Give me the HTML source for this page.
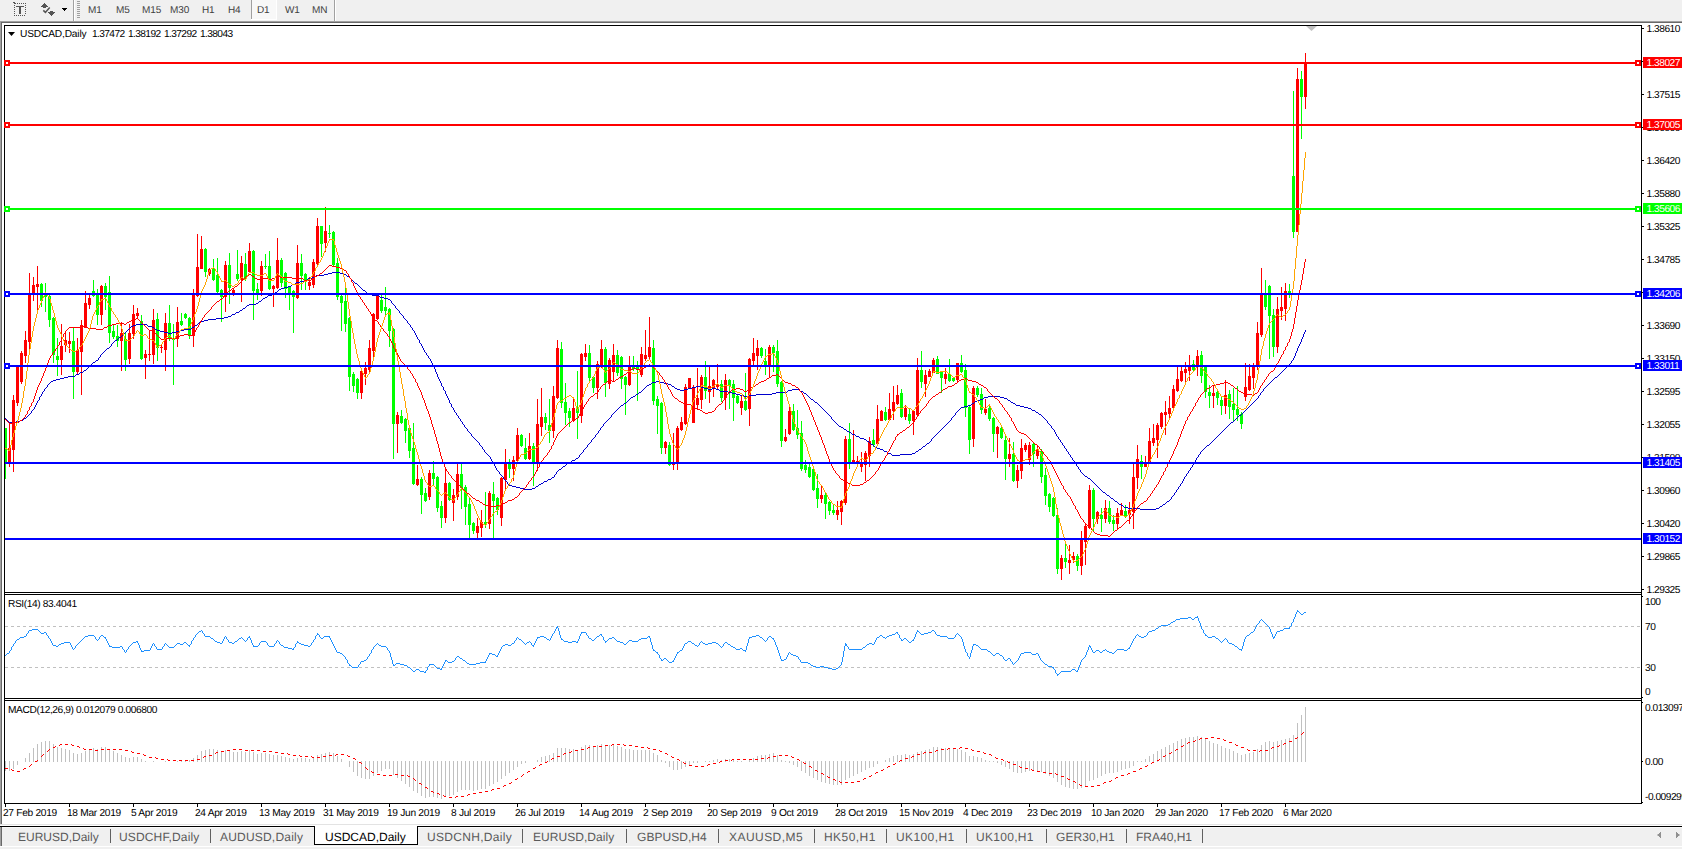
<!DOCTYPE html>
<html><head><meta charset="utf-8"><title>USDCAD,Daily</title>
<style>
html,body{margin:0;padding:0}
body{width:1682px;height:849px;position:relative;overflow:hidden;background:#fff;font-family:"Liberation Sans",sans-serif;}
div{position:absolute;box-sizing:border-box;text-rendering:geometricPrecision}
.al{left:1646.6px;font-size:10.2px;line-height:14px;height:14px;letter-spacing:-0.5px;color:#000;white-space:nowrap}
.tk{left:1642px;width:2px;height:1px;background:#000}
.tk1{left:1642px;width:1px;height:1px;background:#000}
.tag{left:1643px;width:39px;height:11px;color:#fff;font-size:10.2px;line-height:11px;letter-spacing:-0.5px;padding-left:3.6px;padding-top:1px;white-space:nowrap;overflow:hidden}
.dt{top:804px;width:1px;height:3px;background:#000}
.dlab{top:807px;font-size:10.2px;line-height:14px;letter-spacing:-0.3px;white-space:nowrap;color:#000}
.num{letter-spacing:-0.62px !important;word-spacing:1.3px}
.ttl{font-size:10.2px;line-height:14px;letter-spacing:-0.4px;white-space:nowrap;color:#000}
.tab{top:830px;font-size:12px;line-height:14px;color:#5a5a5a;white-space:nowrap}
.tsep{top:829px;width:1px;height:14px;background:#606060}
.tf{top:3.5px;font-size:10px;line-height:14px;color:#404040;white-space:nowrap;letter-spacing:-0.1px}
</style></head><body>
<!-- toolbar -->
<div style="left:0;top:0;width:1682px;height:21px;background:#f0f0f0"></div>
<div style="left:252px;top:0;width:24px;height:19px;background:#f8f8f8"></div><div style="left:251px;top:19px;width:26px;height:1px;background:#fff"></div><div style="left:276px;top:0;width:1px;height:19px;background:#fff"></div>
<div style="left:73px;top:0;width:1px;height:21px;background:#a0a0a0"></div><div style="left:74px;top:0;width:1px;height:21px;background:#fff"></div>
<div style="left:251px;top:0px;width:1px;height:19px;background:#a0a0a0"></div>
<div style="left:334px;top:0;width:1px;height:21px;background:#a0a0a0"></div><div style="left:335px;top:0;width:1px;height:21px;background:#fff"></div>
<svg style="position:absolute;left:0;top:0" width="90" height="21" shape-rendering="crispEdges">
<g fill="#555"><rect x="17" y="3" width="1" height="1"/><rect x="19" y="3" width="1" height="1"/><rect x="21" y="3" width="1" height="1"/><rect x="23" y="3" width="1" height="1"/><rect x="25" y="3" width="1" height="1"/><rect x="14" y="15" width="1" height="1"/><rect x="16" y="15" width="1" height="1"/><rect x="18" y="15" width="1" height="1"/><rect x="20" y="15" width="1" height="1"/><rect x="22" y="15" width="1" height="1"/><rect x="24" y="15" width="1" height="1"/><rect x="14" y="5" width="1" height="1"/><rect x="25" y="5" width="1" height="1"/><rect x="14" y="7" width="1" height="1"/><rect x="25" y="7" width="1" height="1"/><rect x="14" y="9" width="1" height="1"/><rect x="25" y="9" width="1" height="1"/><rect x="14" y="11" width="1" height="1"/><rect x="25" y="11" width="1" height="1"/><rect x="14" y="13" width="1" height="1"/><rect x="25" y="13" width="1" height="1"/><rect x="13" y="2" width="2" height="1"/><rect x="14" y="3" width="2" height="1"/>
<rect x="16" y="6" width="8" height="1"/><rect x="19" y="6" width="2" height="8"/>
<rect x="44" y="3" width="1" height="1"/><rect x="43" y="4" width="3" height="1"/><rect x="42" y="5" width="5" height="1"/><rect x="41" y="6" width="7" height="1"/><rect x="43" y="7" width="3" height="1"/>
<rect x="50" y="11" width="3" height="1"/><rect x="48" y="12" width="7" height="1"/><rect x="49" y="13" width="5" height="1"/><rect x="50" y="14" width="3" height="1"/><rect x="51" y="15" width="1" height="1"/>
</g>
<path d="M43.3 10.4 L45.4 12.4 L49.7 7.4" fill="none" stroke="#555" stroke-width="1.5" shape-rendering="auto"/>
<g fill="#000"><rect x="62" y="8" width="5" height="1"/><rect x="63" y="9" width="3" height="1"/><rect x="64" y="10" width="1" height="1"/></g>
<g fill="#a0a0a0"><rect x="77" y="1" width="3" height="1"/><rect x="77" y="3" width="3" height="1"/><rect x="77" y="5" width="3" height="1"/><rect x="77" y="7" width="3" height="1"/><rect x="77" y="9" width="3" height="1"/><rect x="77" y="11" width="3" height="1"/><rect x="77" y="13" width="3" height="1"/><rect x="77" y="15" width="3" height="1"/><rect x="77" y="17" width="3" height="1"/></g>
</svg>
<div class="tf" style="left:88px">M1</div><div class="tf" style="left:116px">M5</div><div class="tf" style="left:142px">M15</div><div class="tf" style="left:170px">M30</div><div class="tf" style="left:202px">H1</div><div class="tf" style="left:228px">H4</div><div class="tf" style="left:257px">D1</div><div class="tf" style="left:285px">W1</div><div class="tf" style="left:312px">MN</div>
<!-- window frame -->
<div style="left:0;top:21px;width:1682px;height:1px;background:#a0a0a0"></div>
<div style="left:0;top:22px;width:1682px;height:1px;background:#696969"></div>
<div style="left:0;top:21px;width:1px;height:804px;background:#a0a0a0"></div>
<div style="left:1px;top:22px;width:1px;height:803px;background:#696969"></div>
<!-- chart svg -->
<svg style="position:absolute;left:0;top:0" width="1682" height="849" shape-rendering="crispEdges">
<g fill="#000">
<rect x="4" y="25" width="1638" height="1"/><rect x="4" y="25" width="1" height="779"/><rect x="1641" y="25" width="1" height="779"/>
<rect x="4" y="592" width="1638" height="1"/><rect x="4" y="594" width="1638" height="1"/>
<rect x="4" y="698" width="1638" height="1"/><rect x="4" y="700" width="1638" height="1"/>
<rect x="4" y="803" width="1638" height="1"/>
</g>
<rect x="5" y="593" width="1636" height="1" fill="#fff"/><rect x="5" y="699" width="1636" height="1" fill="#fff"/>
<path d="M1306 26 L1317 26 L1311.5 31z" fill="#c0c0c0" shape-rendering="auto"/>
<!-- rsi levels -->
<line x1="5" y1="626.5" x2="1641" y2="626.5" stroke="#c0c0c0" stroke-dasharray="3 3"/>
<line x1="5" y1="667.5" x2="1641" y2="667.5" stroke="#c0c0c0" stroke-dasharray="3 3"/>
<rect x="5" y="761" width="1" height="10" fill="#c0c0c0"/><rect x="9" y="761" width="1" height="10" fill="#c0c0c0"/><rect x="13" y="761" width="1" height="8" fill="#c0c0c0"/><rect x="17" y="761" width="1" height="4" fill="#c0c0c0"/><rect x="25" y="758" width="1" height="4" fill="#c0c0c0"/><rect x="29" y="753" width="1" height="9" fill="#c0c0c0"/><rect x="33" y="748" width="1" height="14" fill="#c0c0c0"/><rect x="37" y="744" width="1" height="18" fill="#c0c0c0"/><rect x="41" y="742" width="1" height="20" fill="#c0c0c0"/><rect x="45" y="741" width="1" height="21" fill="#c0c0c0"/><rect x="49" y="741" width="1" height="21" fill="#c0c0c0"/><rect x="53" y="744" width="1" height="18" fill="#c0c0c0"/><rect x="57" y="747" width="1" height="15" fill="#c0c0c0"/><rect x="61" y="748" width="1" height="14" fill="#c0c0c0"/><rect x="65" y="749" width="1" height="13" fill="#c0c0c0"/><rect x="69" y="750" width="1" height="12" fill="#c0c0c0"/><rect x="73" y="753" width="1" height="9" fill="#c0c0c0"/><rect x="77" y="754" width="1" height="8" fill="#c0c0c0"/><rect x="81" y="753" width="1" height="9" fill="#c0c0c0"/><rect x="85" y="751" width="1" height="11" fill="#c0c0c0"/><rect x="89" y="750" width="1" height="12" fill="#c0c0c0"/><rect x="93" y="748" width="1" height="14" fill="#c0c0c0"/><rect x="97" y="749" width="1" height="13" fill="#c0c0c0"/><rect x="101" y="747" width="1" height="15" fill="#c0c0c0"/><rect x="105" y="747" width="1" height="15" fill="#c0c0c0"/><rect x="109" y="749" width="1" height="13" fill="#c0c0c0"/><rect x="113" y="751" width="1" height="11" fill="#c0c0c0"/><rect x="117" y="753" width="1" height="9" fill="#c0c0c0"/><rect x="121" y="755" width="1" height="7" fill="#c0c0c0"/><rect x="125" y="757" width="1" height="5" fill="#c0c0c0"/><rect x="129" y="758" width="1" height="4" fill="#c0c0c0"/><rect x="133" y="757" width="1" height="5" fill="#c0c0c0"/><rect x="137" y="757" width="1" height="5" fill="#c0c0c0"/><rect x="141" y="759" width="1" height="3" fill="#c0c0c0"/><rect x="145" y="761" width="1" height="1" fill="#c0c0c0"/><rect x="153" y="761" width="1" height="1" fill="#c0c0c0"/><rect x="165" y="761" width="1" height="1" fill="#c0c0c0"/><rect x="177" y="761" width="1" height="1" fill="#c0c0c0"/><rect x="181" y="760" width="1" height="2" fill="#c0c0c0"/><rect x="185" y="760" width="1" height="2" fill="#c0c0c0"/><rect x="189" y="760" width="1" height="2" fill="#c0c0c0"/><rect x="193" y="758" width="1" height="4" fill="#c0c0c0"/><rect x="197" y="755" width="1" height="7" fill="#c0c0c0"/><rect x="201" y="751" width="1" height="11" fill="#c0c0c0"/><rect x="205" y="750" width="1" height="12" fill="#c0c0c0"/><rect x="209" y="749" width="1" height="13" fill="#c0c0c0"/><rect x="213" y="749" width="1" height="13" fill="#c0c0c0"/><rect x="217" y="750" width="1" height="12" fill="#c0c0c0"/><rect x="221" y="751" width="1" height="11" fill="#c0c0c0"/><rect x="225" y="750" width="1" height="12" fill="#c0c0c0"/><rect x="229" y="751" width="1" height="11" fill="#c0c0c0"/><rect x="233" y="752" width="1" height="10" fill="#c0c0c0"/><rect x="237" y="752" width="1" height="10" fill="#c0c0c0"/><rect x="241" y="751" width="1" height="11" fill="#c0c0c0"/><rect x="245" y="752" width="1" height="10" fill="#c0c0c0"/><rect x="249" y="750" width="1" height="12" fill="#c0c0c0"/><rect x="253" y="752" width="1" height="10" fill="#c0c0c0"/><rect x="257" y="754" width="1" height="8" fill="#c0c0c0"/><rect x="261" y="753" width="1" height="9" fill="#c0c0c0"/><rect x="265" y="753" width="1" height="9" fill="#c0c0c0"/><rect x="269" y="754" width="1" height="8" fill="#c0c0c0"/><rect x="273" y="755" width="1" height="7" fill="#c0c0c0"/><rect x="277" y="755" width="1" height="7" fill="#c0c0c0"/><rect x="281" y="756" width="1" height="6" fill="#c0c0c0"/><rect x="285" y="757" width="1" height="5" fill="#c0c0c0"/><rect x="289" y="758" width="1" height="4" fill="#c0c0c0"/><rect x="293" y="759" width="1" height="3" fill="#c0c0c0"/><rect x="297" y="758" width="1" height="4" fill="#c0c0c0"/><rect x="301" y="758" width="1" height="4" fill="#c0c0c0"/><rect x="305" y="758" width="1" height="4" fill="#c0c0c0"/><rect x="309" y="759" width="1" height="3" fill="#c0c0c0"/><rect x="313" y="758" width="1" height="4" fill="#c0c0c0"/><rect x="317" y="755" width="1" height="7" fill="#c0c0c0"/><rect x="321" y="754" width="1" height="8" fill="#c0c0c0"/><rect x="325" y="753" width="1" height="9" fill="#c0c0c0"/><rect x="329" y="752" width="1" height="10" fill="#c0c0c0"/><rect x="333" y="753" width="1" height="9" fill="#c0c0c0"/><rect x="337" y="756" width="1" height="6" fill="#c0c0c0"/><rect x="341" y="759" width="1" height="3" fill="#c0c0c0"/><rect x="349" y="761" width="1" height="6" fill="#c0c0c0"/><rect x="353" y="761" width="1" height="11" fill="#c0c0c0"/><rect x="357" y="761" width="1" height="15" fill="#c0c0c0"/><rect x="361" y="761" width="1" height="17" fill="#c0c0c0"/><rect x="365" y="761" width="1" height="18" fill="#c0c0c0"/><rect x="369" y="761" width="1" height="18" fill="#c0c0c0"/><rect x="373" y="761" width="1" height="15" fill="#c0c0c0"/><rect x="377" y="761" width="1" height="12" fill="#c0c0c0"/><rect x="381" y="761" width="1" height="10" fill="#c0c0c0"/><rect x="385" y="761" width="1" height="8" fill="#c0c0c0"/><rect x="389" y="761" width="1" height="8" fill="#c0c0c0"/><rect x="393" y="761" width="1" height="14" fill="#c0c0c0"/><rect x="397" y="761" width="1" height="17" fill="#c0c0c0"/><rect x="401" y="761" width="1" height="20" fill="#c0c0c0"/><rect x="405" y="761" width="1" height="23" fill="#c0c0c0"/><rect x="409" y="761" width="1" height="26" fill="#c0c0c0"/><rect x="413" y="761" width="1" height="30" fill="#c0c0c0"/><rect x="417" y="761" width="1" height="32" fill="#c0c0c0"/><rect x="421" y="761" width="1" height="35" fill="#c0c0c0"/><rect x="425" y="761" width="1" height="37" fill="#c0c0c0"/><rect x="429" y="761" width="1" height="36" fill="#c0c0c0"/><rect x="433" y="761" width="1" height="36" fill="#c0c0c0"/><rect x="437" y="761" width="1" height="37" fill="#c0c0c0"/><rect x="441" y="761" width="1" height="38" fill="#c0c0c0"/><rect x="445" y="761" width="1" height="36" fill="#c0c0c0"/><rect x="449" y="761" width="1" height="35" fill="#c0c0c0"/><rect x="453" y="761" width="1" height="34" fill="#c0c0c0"/><rect x="457" y="761" width="1" height="31" fill="#c0c0c0"/><rect x="461" y="761" width="1" height="29" fill="#c0c0c0"/><rect x="465" y="761" width="1" height="29" fill="#c0c0c0"/><rect x="469" y="761" width="1" height="29" fill="#c0c0c0"/><rect x="473" y="761" width="1" height="30" fill="#c0c0c0"/><rect x="477" y="761" width="1" height="29" fill="#c0c0c0"/><rect x="481" y="761" width="1" height="28" fill="#c0c0c0"/><rect x="485" y="761" width="1" height="28" fill="#c0c0c0"/><rect x="489" y="761" width="1" height="25" fill="#c0c0c0"/><rect x="493" y="761" width="1" height="23" fill="#c0c0c0"/><rect x="497" y="761" width="1" height="21" fill="#c0c0c0"/><rect x="501" y="761" width="1" height="18" fill="#c0c0c0"/><rect x="505" y="761" width="1" height="15" fill="#c0c0c0"/><rect x="509" y="761" width="1" height="12" fill="#c0c0c0"/><rect x="513" y="761" width="1" height="9" fill="#c0c0c0"/><rect x="517" y="761" width="1" height="6" fill="#c0c0c0"/><rect x="521" y="761" width="1" height="3" fill="#c0c0c0"/><rect x="525" y="761" width="1" height="2" fill="#c0c0c0"/><rect x="537" y="760" width="1" height="2" fill="#c0c0c0"/><rect x="541" y="757" width="1" height="5" fill="#c0c0c0"/><rect x="545" y="756" width="1" height="6" fill="#c0c0c0"/><rect x="549" y="755" width="1" height="7" fill="#c0c0c0"/><rect x="553" y="753" width="1" height="9" fill="#c0c0c0"/><rect x="557" y="748" width="1" height="14" fill="#c0c0c0"/><rect x="561" y="748" width="1" height="14" fill="#c0c0c0"/><rect x="565" y="748" width="1" height="14" fill="#c0c0c0"/><rect x="569" y="749" width="1" height="13" fill="#c0c0c0"/><rect x="573" y="749" width="1" height="13" fill="#c0c0c0"/><rect x="577" y="750" width="1" height="12" fill="#c0c0c0"/><rect x="581" y="747" width="1" height="15" fill="#c0c0c0"/><rect x="585" y="745" width="1" height="17" fill="#c0c0c0"/><rect x="589" y="745" width="1" height="17" fill="#c0c0c0"/><rect x="593" y="746" width="1" height="16" fill="#c0c0c0"/><rect x="597" y="745" width="1" height="17" fill="#c0c0c0"/><rect x="601" y="744" width="1" height="18" fill="#c0c0c0"/><rect x="605" y="745" width="1" height="17" fill="#c0c0c0"/><rect x="609" y="745" width="1" height="17" fill="#c0c0c0"/><rect x="613" y="745" width="1" height="17" fill="#c0c0c0"/><rect x="617" y="746" width="1" height="16" fill="#c0c0c0"/><rect x="621" y="747" width="1" height="15" fill="#c0c0c0"/><rect x="625" y="749" width="1" height="13" fill="#c0c0c0"/><rect x="629" y="749" width="1" height="13" fill="#c0c0c0"/><rect x="633" y="750" width="1" height="12" fill="#c0c0c0"/><rect x="637" y="750" width="1" height="12" fill="#c0c0c0"/><rect x="641" y="750" width="1" height="12" fill="#c0c0c0"/><rect x="645" y="750" width="1" height="12" fill="#c0c0c0"/><rect x="649" y="750" width="1" height="12" fill="#c0c0c0"/><rect x="653" y="753" width="1" height="9" fill="#c0c0c0"/><rect x="657" y="755" width="1" height="7" fill="#c0c0c0"/><rect x="661" y="760" width="1" height="2" fill="#c0c0c0"/><rect x="665" y="761" width="1" height="2" fill="#c0c0c0"/><rect x="669" y="761" width="1" height="6" fill="#c0c0c0"/><rect x="673" y="761" width="1" height="9" fill="#c0c0c0"/><rect x="677" y="761" width="1" height="9" fill="#c0c0c0"/><rect x="681" y="761" width="1" height="8" fill="#c0c0c0"/><rect x="685" y="761" width="1" height="6" fill="#c0c0c0"/><rect x="689" y="761" width="1" height="4" fill="#c0c0c0"/><rect x="693" y="761" width="1" height="2" fill="#c0c0c0"/><rect x="697" y="761" width="1" height="2" fill="#c0c0c0"/><rect x="705" y="761" width="1" height="1" fill="#c0c0c0"/><rect x="709" y="761" width="1" height="1" fill="#c0c0c0"/><rect x="713" y="760" width="1" height="2" fill="#c0c0c0"/><rect x="717" y="759" width="1" height="3" fill="#c0c0c0"/><rect x="721" y="760" width="1" height="2" fill="#c0c0c0"/><rect x="725" y="759" width="1" height="3" fill="#c0c0c0"/><rect x="729" y="759" width="1" height="3" fill="#c0c0c0"/><rect x="733" y="760" width="1" height="2" fill="#c0c0c0"/><rect x="737" y="761" width="1" height="1" fill="#c0c0c0"/><rect x="741" y="761" width="1" height="1" fill="#c0c0c0"/><rect x="749" y="760" width="1" height="2" fill="#c0c0c0"/><rect x="753" y="758" width="1" height="4" fill="#c0c0c0"/><rect x="757" y="756" width="1" height="6" fill="#c0c0c0"/><rect x="761" y="755" width="1" height="7" fill="#c0c0c0"/><rect x="765" y="755" width="1" height="7" fill="#c0c0c0"/><rect x="769" y="754" width="1" height="8" fill="#c0c0c0"/><rect x="773" y="753" width="1" height="9" fill="#c0c0c0"/><rect x="777" y="755" width="1" height="7" fill="#c0c0c0"/><rect x="781" y="760" width="1" height="2" fill="#c0c0c0"/><rect x="785" y="761" width="1" height="1" fill="#c0c0c0"/><rect x="789" y="761" width="1" height="2" fill="#c0c0c0"/><rect x="793" y="761" width="1" height="4" fill="#c0c0c0"/><rect x="797" y="761" width="1" height="6" fill="#c0c0c0"/><rect x="801" y="761" width="1" height="10" fill="#c0c0c0"/><rect x="805" y="761" width="1" height="12" fill="#c0c0c0"/><rect x="809" y="761" width="1" height="15" fill="#c0c0c0"/><rect x="813" y="761" width="1" height="17" fill="#c0c0c0"/><rect x="817" y="761" width="1" height="19" fill="#c0c0c0"/><rect x="821" y="761" width="1" height="21" fill="#c0c0c0"/><rect x="825" y="761" width="1" height="22" fill="#c0c0c0"/><rect x="829" y="761" width="1" height="23" fill="#c0c0c0"/><rect x="833" y="761" width="1" height="24" fill="#c0c0c0"/><rect x="837" y="761" width="1" height="24" fill="#c0c0c0"/><rect x="841" y="761" width="1" height="24" fill="#c0c0c0"/><rect x="845" y="761" width="1" height="19" fill="#c0c0c0"/><rect x="849" y="761" width="1" height="17" fill="#c0c0c0"/><rect x="853" y="761" width="1" height="15" fill="#c0c0c0"/><rect x="857" y="761" width="1" height="13" fill="#c0c0c0"/><rect x="861" y="761" width="1" height="11" fill="#c0c0c0"/><rect x="865" y="761" width="1" height="9" fill="#c0c0c0"/><rect x="869" y="761" width="1" height="7" fill="#c0c0c0"/><rect x="873" y="761" width="1" height="6" fill="#c0c0c0"/><rect x="877" y="761" width="1" height="3" fill="#c0c0c0"/><rect x="885" y="760" width="1" height="2" fill="#c0c0c0"/><rect x="889" y="758" width="1" height="4" fill="#c0c0c0"/><rect x="893" y="756" width="1" height="6" fill="#c0c0c0"/><rect x="897" y="755" width="1" height="7" fill="#c0c0c0"/><rect x="901" y="755" width="1" height="7" fill="#c0c0c0"/><rect x="905" y="754" width="1" height="8" fill="#c0c0c0"/><rect x="909" y="755" width="1" height="7" fill="#c0c0c0"/><rect x="913" y="754" width="1" height="8" fill="#c0c0c0"/><rect x="917" y="752" width="1" height="10" fill="#c0c0c0"/><rect x="921" y="751" width="1" height="11" fill="#c0c0c0"/><rect x="925" y="750" width="1" height="12" fill="#c0c0c0"/><rect x="929" y="749" width="1" height="13" fill="#c0c0c0"/><rect x="933" y="747" width="1" height="15" fill="#c0c0c0"/><rect x="937" y="747" width="1" height="15" fill="#c0c0c0"/><rect x="941" y="748" width="1" height="14" fill="#c0c0c0"/><rect x="945" y="748" width="1" height="14" fill="#c0c0c0"/><rect x="949" y="749" width="1" height="13" fill="#c0c0c0"/><rect x="953" y="749" width="1" height="13" fill="#c0c0c0"/><rect x="957" y="749" width="1" height="13" fill="#c0c0c0"/><rect x="961" y="750" width="1" height="12" fill="#c0c0c0"/><rect x="965" y="752" width="1" height="10" fill="#c0c0c0"/><rect x="969" y="756" width="1" height="6" fill="#c0c0c0"/><rect x="973" y="756" width="1" height="6" fill="#c0c0c0"/><rect x="977" y="757" width="1" height="5" fill="#c0c0c0"/><rect x="981" y="758" width="1" height="4" fill="#c0c0c0"/><rect x="985" y="760" width="1" height="2" fill="#c0c0c0"/><rect x="989" y="761" width="1" height="1" fill="#c0c0c0"/><rect x="993" y="761" width="1" height="1" fill="#c0c0c0"/><rect x="997" y="761" width="1" height="2" fill="#c0c0c0"/><rect x="1001" y="761" width="1" height="4" fill="#c0c0c0"/><rect x="1005" y="761" width="1" height="6" fill="#c0c0c0"/><rect x="1009" y="761" width="1" height="8" fill="#c0c0c0"/><rect x="1013" y="761" width="1" height="11" fill="#c0c0c0"/><rect x="1017" y="761" width="1" height="12" fill="#c0c0c0"/><rect x="1021" y="761" width="1" height="12" fill="#c0c0c0"/><rect x="1025" y="761" width="1" height="11" fill="#c0c0c0"/><rect x="1029" y="761" width="1" height="10" fill="#c0c0c0"/><rect x="1033" y="761" width="1" height="10" fill="#c0c0c0"/><rect x="1037" y="761" width="1" height="10" fill="#c0c0c0"/><rect x="1041" y="761" width="1" height="11" fill="#c0c0c0"/><rect x="1045" y="761" width="1" height="13" fill="#c0c0c0"/><rect x="1049" y="761" width="1" height="15" fill="#c0c0c0"/><rect x="1053" y="761" width="1" height="17" fill="#c0c0c0"/><rect x="1057" y="761" width="1" height="21" fill="#c0c0c0"/><rect x="1061" y="761" width="1" height="24" fill="#c0c0c0"/><rect x="1065" y="761" width="1" height="26" fill="#c0c0c0"/><rect x="1069" y="761" width="1" height="27" fill="#c0c0c0"/><rect x="1073" y="761" width="1" height="28" fill="#c0c0c0"/><rect x="1077" y="761" width="1" height="28" fill="#c0c0c0"/><rect x="1081" y="761" width="1" height="27" fill="#c0c0c0"/><rect x="1085" y="761" width="1" height="25" fill="#c0c0c0"/><rect x="1089" y="761" width="1" height="20" fill="#c0c0c0"/><rect x="1093" y="761" width="1" height="19" fill="#c0c0c0"/><rect x="1097" y="761" width="1" height="17" fill="#c0c0c0"/><rect x="1101" y="761" width="1" height="15" fill="#c0c0c0"/><rect x="1105" y="761" width="1" height="13" fill="#c0c0c0"/><rect x="1109" y="761" width="1" height="12" fill="#c0c0c0"/><rect x="1113" y="761" width="1" height="12" fill="#c0c0c0"/><rect x="1117" y="761" width="1" height="11" fill="#c0c0c0"/><rect x="1121" y="761" width="1" height="9" fill="#c0c0c0"/><rect x="1125" y="761" width="1" height="8" fill="#c0c0c0"/><rect x="1129" y="761" width="1" height="7" fill="#c0c0c0"/><rect x="1133" y="761" width="1" height="5" fill="#c0c0c0"/><rect x="1137" y="761" width="1" height="1" fill="#c0c0c0"/><rect x="1141" y="761" width="1" height="1" fill="#c0c0c0"/><rect x="1145" y="759" width="1" height="3" fill="#c0c0c0"/><rect x="1149" y="756" width="1" height="6" fill="#c0c0c0"/><rect x="1153" y="754" width="1" height="8" fill="#c0c0c0"/><rect x="1157" y="751" width="1" height="11" fill="#c0c0c0"/><rect x="1161" y="749" width="1" height="13" fill="#c0c0c0"/><rect x="1165" y="747" width="1" height="15" fill="#c0c0c0"/><rect x="1169" y="745" width="1" height="17" fill="#c0c0c0"/><rect x="1173" y="743" width="1" height="19" fill="#c0c0c0"/><rect x="1177" y="741" width="1" height="21" fill="#c0c0c0"/><rect x="1181" y="739" width="1" height="23" fill="#c0c0c0"/><rect x="1185" y="738" width="1" height="24" fill="#c0c0c0"/><rect x="1189" y="737" width="1" height="25" fill="#c0c0c0"/><rect x="1193" y="737" width="1" height="25" fill="#c0c0c0"/><rect x="1197" y="736" width="1" height="26" fill="#c0c0c0"/><rect x="1201" y="737" width="1" height="25" fill="#c0c0c0"/><rect x="1205" y="739" width="1" height="23" fill="#c0c0c0"/><rect x="1209" y="741" width="1" height="21" fill="#c0c0c0"/><rect x="1213" y="743" width="1" height="19" fill="#c0c0c0"/><rect x="1217" y="744" width="1" height="18" fill="#c0c0c0"/><rect x="1221" y="746" width="1" height="16" fill="#c0c0c0"/><rect x="1225" y="748" width="1" height="14" fill="#c0c0c0"/><rect x="1229" y="749" width="1" height="13" fill="#c0c0c0"/><rect x="1233" y="751" width="1" height="11" fill="#c0c0c0"/><rect x="1237" y="753" width="1" height="9" fill="#c0c0c0"/><rect x="1241" y="755" width="1" height="7" fill="#c0c0c0"/><rect x="1245" y="754" width="1" height="8" fill="#c0c0c0"/><rect x="1249" y="753" width="1" height="9" fill="#c0c0c0"/><rect x="1253" y="752" width="1" height="10" fill="#c0c0c0"/><rect x="1257" y="749" width="1" height="13" fill="#c0c0c0"/><rect x="1261" y="745" width="1" height="17" fill="#c0c0c0"/><rect x="1265" y="742" width="1" height="20" fill="#c0c0c0"/><rect x="1269" y="741" width="1" height="21" fill="#c0c0c0"/><rect x="1273" y="742" width="1" height="20" fill="#c0c0c0"/><rect x="1277" y="741" width="1" height="21" fill="#c0c0c0"/><rect x="1281" y="740" width="1" height="22" fill="#c0c0c0"/><rect x="1285" y="739" width="1" height="23" fill="#c0c0c0"/><rect x="1289" y="738" width="1" height="24" fill="#c0c0c0"/><rect x="1293" y="735" width="1" height="27" fill="#c0c0c0"/><rect x="1297" y="723" width="1" height="39" fill="#c0c0c0"/><rect x="1301" y="715" width="1" height="47" fill="#c0c0c0"/><rect x="1305" y="707" width="1" height="55" fill="#c0c0c0"/>
<path d="M5 768.5h1M6 768.5h1M7 768.5h1M11 769.5h1M12 770.5h1M13 770.5h1M17 771.5h1M18 771.5h1M19 771.5h1M23 769.5h1M24 768.5h1M25 768.5h1M29 766.5h1M30 765.5h1M31 764.5h1M35 761.5h1M36 761.5h1M37 760.5h1M41 756.5h1M42 755.5h1M43 754.5h1M47 751.5h1M48 750.5h1M49 749.5h1M53 747.5h1M54 747.5h1M55 746.5h1M59 745.5h1M60 744.5h1M61 744.5h1M65 744.5h1M66 744.5h1M67 744.5h1M71 744.5h1M72 745.5h1M73 745.5h1M77 746.5h1M78 746.5h1M79 747.5h1M83 748.5h1M84 749.5h1M85 749.5h1M89 749.5h1M90 749.5h1M91 749.5h1M95 750.5h1M96 750.5h1M97 750.5h1M101 749.5h1M102 749.5h1M103 749.5h1M107 749.5h1M108 749.5h1M109 749.5h1M113 749.5h1M114 749.5h1M115 749.5h1M119 749.5h1M120 749.5h1M121 749.5h1M125 750.5h1M126 750.5h1M127 750.5h1M131 751.5h1M132 752.5h1M133 752.5h1M137 753.5h1M138 753.5h1M139 753.5h1M143 754.5h1M144 755.5h1M145 755.5h1M149 757.5h1M150 757.5h1M151 757.5h1M155 757.5h1M156 758.5h1M157 758.5h1M161 759.5h1M162 759.5h1M163 759.5h1M167 759.5h1M168 760.5h1M169 760.5h1M173 760.5h1M174 760.5h1M175 760.5h1M179 760.5h1M180 760.5h1M181 760.5h1M185 760.5h1M186 760.5h1M187 760.5h1M191 760.5h1M192 760.5h1M193 760.5h1M197 759.5h1M198 759.5h1M199 759.5h1M203 757.5h1M204 756.5h1M205 756.5h1M209 755.5h1M210 755.5h1M211 755.5h1M215 753.5h1M216 752.5h1M217 752.5h1M221 751.5h1M222 751.5h1M223 751.5h1M227 750.5h1M228 750.5h1M229 750.5h1M233 749.5h1M234 749.5h1M235 749.5h1M239 749.5h1M240 749.5h1M241 749.5h1M245 750.5h1M246 750.5h1M247 750.5h1M251 750.5h1M252 750.5h1M253 750.5h1M257 750.5h1M258 750.5h1M259 750.5h1M263 751.5h1M264 751.5h1M265 751.5h1M269 751.5h1M270 751.5h1M271 751.5h1M275 752.5h1M276 752.5h1M277 752.5h1M281 753.5h1M282 753.5h1M283 753.5h1M287 753.5h1M288 754.5h1M289 754.5h1M293 755.5h1M294 755.5h1M295 755.5h1M299 755.5h1M300 756.5h1M301 756.5h1M305 756.5h1M306 756.5h1M307 756.5h1M311 756.5h1M312 757.5h1M313 757.5h1M317 757.5h1M318 757.5h1M319 757.5h1M323 756.5h1M324 756.5h1M325 756.5h1M329 755.5h1M330 755.5h1M331 755.5h1M335 755.5h1M336 754.5h1M337 754.5h1M341 754.5h1M342 754.5h1M343 754.5h1M347 755.5h1M348 756.5h1M349 756.5h1M353 758.5h1M354 758.5h1M355 759.5h1M359 762.5h1M360 762.5h1M361 763.5h1M365 767.5h1M366 768.5h1M367 769.5h1M371 771.5h1M372 772.5h1M373 772.5h1M377 774.5h1M378 774.5h1M379 774.5h1M383 775.5h1M384 775.5h1M385 775.5h1M389 775.5h1M390 775.5h1M391 775.5h1M395 774.5h1M396 774.5h1M397 774.5h1M401 775.5h1M402 775.5h1M403 775.5h1M407 775.5h1M408 776.5h1M409 776.5h1M413 778.5h1M414 779.5h1M415 780.5h1M419 783.5h1M420 783.5h1M421 784.5h1M425 787.5h1M426 787.5h1M427 788.5h1M431 791.5h1M432 791.5h1M433 792.5h1M437 793.5h1M438 793.5h1M439 794.5h1M443 795.5h1M444 796.5h1M445 796.5h1M449 797.5h1M450 797.5h1M451 797.5h1M455 797.5h1M456 796.5h1M457 796.5h1M461 796.5h1M462 796.5h1M463 796.5h1M467 795.5h1M468 794.5h1M469 794.5h1M473 793.5h1M474 793.5h1M475 793.5h1M479 792.5h1M480 792.5h1M481 792.5h1M485 791.5h1M486 791.5h1M487 791.5h1M491 790.5h1M492 789.5h1M493 789.5h1M497 788.5h1M498 788.5h1M499 788.5h1M503 786.5h1M504 785.5h1M505 785.5h1M509 783.5h1M510 783.5h1M511 782.5h1M515 779.5h1M516 779.5h1M517 778.5h1M521 776.5h1M522 775.5h1M523 774.5h1M527 772.5h1M528 771.5h1M529 771.5h1M533 768.5h1M534 768.5h1M535 767.5h1M539 765.5h1M540 764.5h1M541 764.5h1M545 762.5h1M546 762.5h1M547 761.5h1M551 759.5h1M552 758.5h1M553 758.5h1M557 756.5h1M558 756.5h1M559 756.5h1M563 754.5h1M564 753.5h1M565 753.5h1M569 752.5h1M570 752.5h1M571 751.5h1M575 750.5h1M576 750.5h1M577 750.5h1M581 749.5h1M582 749.5h1M583 749.5h1M587 748.5h1M588 747.5h1M589 747.5h1M593 746.5h1M594 746.5h1M595 746.5h1M599 746.5h1M600 746.5h1M601 746.5h1M605 745.5h1M606 745.5h1M607 745.5h1M611 745.5h1M612 744.5h1M613 744.5h1M617 744.5h1M618 744.5h1M619 744.5h1M623 744.5h1M624 745.5h1M625 745.5h1M629 745.5h1M630 745.5h1M631 745.5h1M635 746.5h1M636 746.5h1M637 746.5h1M641 747.5h1M642 747.5h1M643 747.5h1M647 747.5h1M648 748.5h1M649 748.5h1M653 749.5h1M654 749.5h1M655 749.5h1M659 750.5h1M660 751.5h1M661 751.5h1M665 753.5h1M666 753.5h1M667 754.5h1M671 756.5h1M672 757.5h1M673 757.5h1M677 759.5h1M678 759.5h1M679 760.5h1M683 762.5h1M684 763.5h1M685 763.5h1M689 765.5h1M690 765.5h1M691 765.5h1M695 766.5h1M696 766.5h1M697 766.5h1M701 766.5h1M702 766.5h1M703 766.5h1M707 765.5h1M708 764.5h1M709 764.5h1M713 763.5h1M714 763.5h1M715 763.5h1M719 762.5h1M720 761.5h1M721 761.5h1M725 760.5h1M726 760.5h1M727 760.5h1M731 760.5h1M732 759.5h1M733 759.5h1M737 759.5h1M738 759.5h1M739 759.5h1M743 759.5h1M744 759.5h1M745 759.5h1M749 759.5h1M750 759.5h1M751 759.5h1M755 759.5h1M756 759.5h1M757 759.5h1M761 758.5h1M762 758.5h1M763 758.5h1M767 758.5h1M768 757.5h1M769 757.5h1M773 756.5h1M774 756.5h1M775 756.5h1M779 755.5h1M780 755.5h1M781 755.5h1M785 755.5h1M786 755.5h1M787 755.5h1M791 756.5h1M792 757.5h1M793 757.5h1M797 759.5h1M798 759.5h1M799 760.5h1M803 762.5h1M804 763.5h1M805 763.5h1M809 766.5h1M810 766.5h1M811 767.5h1M815 770.5h1M816 770.5h1M817 771.5h1M821 773.5h1M822 773.5h1M823 774.5h1M827 776.5h1M828 777.5h1M829 777.5h1M833 779.5h1M834 779.5h1M835 780.5h1M839 781.5h1M840 782.5h1M841 782.5h1M845 782.5h1M846 782.5h1M847 782.5h1M851 782.5h1M852 782.5h1M853 782.5h1M857 781.5h1M858 781.5h1M859 781.5h1M863 779.5h1M864 778.5h1M865 778.5h1M869 776.5h1M870 776.5h1M871 775.5h1M875 773.5h1M876 772.5h1M877 772.5h1M881 770.5h1M882 770.5h1M883 769.5h1M887 767.5h1M888 766.5h1M889 766.5h1M893 764.5h1M894 764.5h1M895 763.5h1M899 761.5h1M900 760.5h1M901 760.5h1M905 758.5h1M906 758.5h1M907 758.5h1M911 757.5h1M912 756.5h1M913 756.5h1M917 754.5h1M918 754.5h1M919 754.5h1M923 753.5h1M924 752.5h1M925 752.5h1M929 752.5h1M930 752.5h1M931 752.5h1M935 751.5h1M936 750.5h1M937 750.5h1M941 749.5h1M942 749.5h1M943 749.5h1M947 749.5h1M948 748.5h1M949 748.5h1M953 748.5h1M954 748.5h1M955 748.5h1M959 748.5h1M960 747.5h1M961 747.5h1M965 748.5h1M966 748.5h1M967 748.5h1M971 749.5h1M972 750.5h1M973 750.5h1M977 751.5h1M978 751.5h1M979 751.5h1M983 752.5h1M984 753.5h1M985 753.5h1M989 754.5h1M990 754.5h1M991 755.5h1M995 757.5h1M996 758.5h1M997 758.5h1M1001 759.5h1M1002 759.5h1M1003 760.5h1M1007 761.5h1M1008 762.5h1M1009 762.5h1M1013 764.5h1M1014 764.5h1M1015 764.5h1M1019 766.5h1M1020 767.5h1M1021 767.5h1M1025 768.5h1M1026 768.5h1M1027 768.5h1M1031 769.5h1M1032 770.5h1M1033 770.5h1M1037 771.5h1M1038 771.5h1M1039 771.5h1M1043 772.5h1M1044 772.5h1M1045 772.5h1M1049 773.5h1M1050 773.5h1M1051 773.5h1M1055 773.5h1M1056 774.5h1M1057 774.5h1M1061 776.5h1M1062 776.5h1M1063 776.5h1M1067 778.5h1M1068 779.5h1M1069 779.5h1M1073 781.5h1M1074 781.5h1M1075 782.5h1M1079 784.5h1M1080 785.5h1M1081 785.5h1M1085 786.5h1M1086 786.5h1M1087 786.5h1M1091 786.5h1M1092 786.5h1M1093 786.5h1M1097 785.5h1M1098 785.5h1M1099 785.5h1M1103 783.5h1M1104 782.5h1M1105 782.5h1M1109 781.5h1M1110 781.5h1M1111 780.5h1M1115 778.5h1M1116 777.5h1M1117 777.5h1M1121 775.5h1M1122 775.5h1M1123 775.5h1M1127 774.5h1M1128 773.5h1M1129 773.5h1M1133 771.5h1M1134 771.5h1M1135 771.5h1M1139 769.5h1M1140 768.5h1M1141 768.5h1M1145 766.5h1M1146 766.5h1M1147 765.5h1M1151 763.5h1M1152 762.5h1M1153 762.5h1M1157 760.5h1M1158 760.5h1M1159 759.5h1M1163 756.5h1M1164 756.5h1M1165 755.5h1M1169 753.5h1M1170 753.5h1M1171 752.5h1M1175 750.5h1M1176 749.5h1M1177 749.5h1M1181 746.5h1M1182 746.5h1M1183 745.5h1M1187 743.5h1M1188 742.5h1M1189 742.5h1M1193 741.5h1M1194 741.5h1M1195 740.5h1M1199 739.5h1M1200 738.5h1M1201 738.5h1M1205 738.5h1M1206 738.5h1M1207 738.5h1M1211 737.5h1M1212 737.5h1M1213 737.5h1M1217 738.5h1M1218 738.5h1M1219 738.5h1M1223 739.5h1M1224 740.5h1M1225 740.5h1M1229 742.5h1M1230 742.5h1M1231 742.5h1M1235 744.5h1M1236 745.5h1M1237 745.5h1M1241 747.5h1M1242 747.5h1M1243 747.5h1M1247 749.5h1M1248 750.5h1M1249 750.5h1M1253 750.5h1M1254 750.5h1M1255 750.5h1M1259 751.5h1M1260 750.5h1M1261 750.5h1M1265 750.5h1M1266 750.5h1M1267 750.5h1M1271 748.5h1M1272 747.5h1M1273 747.5h1M1277 746.5h1M1278 746.5h1M1279 745.5h1M1283 744.5h1M1284 743.5h1M1285 743.5h1M1289 741.5h1M1290 741.5h1M1291 741.5h1M1295 738.5h1M1296 738.5h1M1297 737.5h1M1301 734.5h1M1302 733.5h1M1303 732.5h1" stroke="#ff0000" stroke-width="1" fill="none"/>
<path d="M5.5 655v1M6.5 654v1M7.5 653v1M8.5 653v1M9.5 651v2M10.5 650v1M11.5 647v3M12.5 646v1M13.5 644v2M14.5 643v1M15.5 641v2M16.5 640v1M17.5 639v1M18.5 639v1M19.5 638v1M20.5 637v1M21.5 637v1M22.5 637v1M23.5 637v1M24.5 636v1M25.5 636v1M26.5 634v2M27.5 633v1M28.5 631v2M29.5 630v1M30.5 630v1M31.5 630v1M32.5 629v1M33.5 629v1M34.5 629v1M35.5 629v1M36.5 629v1M37.5 629v1M38.5 630v1M39.5 631v1M40.5 632v1M41.5 633v1M42.5 633v1M43.5 633v1M44.5 632v1M45.5 632v1M46.5 633v2M47.5 635v1M48.5 636v2M49.5 638v1M50.5 639v2M51.5 641v2M52.5 643v2M53.5 645v1M54.5 645v1M55.5 645v1M56.5 646v1M57.5 646v1M58.5 645v1M59.5 644v1M60.5 644v1M61.5 643v1M62.5 643v1M63.5 643v1M64.5 642v1M65.5 642v1M66.5 642v1M67.5 642v1M68.5 642v1M69.5 642v1M70.5 643v2M71.5 645v2M72.5 647v2M73.5 649v1M74.5 648v1M75.5 646v2M76.5 645v1M77.5 644v1M78.5 643v1M79.5 642v1M80.5 641v1M81.5 640v1M82.5 639v1M83.5 638v1M84.5 637v1M85.5 636v1M86.5 636v1M87.5 636v1M88.5 635v1M89.5 635v1M90.5 635v1M91.5 635v1M92.5 635v1M93.5 635v1M94.5 636v1M95.5 637v2M96.5 639v1M97.5 640v1M98.5 639v1M99.5 637v2M100.5 636v1M101.5 635v1M102.5 635v1M103.5 636v1M104.5 637v1M105.5 637v2M106.5 639v2M107.5 641v2M108.5 643v2M109.5 645v2M110.5 646v1M111.5 646v1M112.5 647v1M113.5 647v1M114.5 647v1M115.5 647v1M116.5 647v1M117.5 647v1M118.5 647v1M119.5 647v1M120.5 646v1M121.5 646v1M122.5 647v2M123.5 649v1M124.5 650v2M125.5 652v1M126.5 650v2M127.5 649v1M128.5 647v2M129.5 646v1M130.5 645v1M131.5 644v1M132.5 643v1M133.5 642v1M134.5 642v1M135.5 642v1M136.5 641v1M137.5 641v2M138.5 643v2M139.5 645v3M140.5 648v2M141.5 650v2M142.5 651v1M143.5 651v1M144.5 650v1M145.5 650v1M146.5 650v1M147.5 650v1M148.5 650v1M149.5 650v1M150.5 648v2M151.5 646v2M152.5 644v2M153.5 643v1M154.5 644v2M155.5 646v1M156.5 647v2M157.5 649v1M158.5 649v1M159.5 649v1M160.5 649v1M161.5 649v1M162.5 647v2M163.5 646v1M164.5 644v2M165.5 643v1M166.5 644v1M167.5 645v1M168.5 646v1M169.5 647v1M170.5 647v1M171.5 647v1M172.5 647v1M173.5 647v1M174.5 646v1M175.5 645v1M176.5 644v1M177.5 643v1M178.5 643v1M179.5 643v1M180.5 644v1M181.5 644v1M182.5 644v1M183.5 643v1M184.5 642v1M185.5 642v1M186.5 643v1M187.5 644v1M188.5 645v1M189.5 645v2M190.5 644v1M191.5 641v3M192.5 640v1M193.5 638v2M194.5 637v1M195.5 635v2M196.5 634v1M197.5 633v1M198.5 632v1M199.5 631v1M200.5 631v1M201.5 630v1M202.5 631v2M203.5 633v1M204.5 634v2M205.5 636v1M206.5 636v1M207.5 636v1M208.5 636v1M209.5 636v1M210.5 637v1M211.5 638v1M212.5 638v1M213.5 639v1M214.5 640v1M215.5 641v1M216.5 641v1M217.5 642v1M218.5 642v1M219.5 642v1M220.5 643v1M221.5 643v1M222.5 641v2M223.5 639v2M224.5 637v2M225.5 636v1M226.5 637v2M227.5 639v1M228.5 640v2M229.5 642v1M230.5 642v1M231.5 642v1M232.5 643v1M233.5 643v1M234.5 642v1M235.5 641v1M236.5 641v1M237.5 640v1M238.5 639v1M239.5 638v1M240.5 638v1M241.5 637v1M242.5 638v1M243.5 639v1M244.5 640v1M245.5 641v1M246.5 640v1M247.5 638v2M248.5 637v1M249.5 636v2M250.5 638v2M251.5 640v3M252.5 643v2M253.5 645v2M254.5 646v1M255.5 646v1M256.5 646v1M257.5 646v1M258.5 645v1M259.5 643v2M260.5 642v1M261.5 641v1M262.5 641v1M263.5 641v1M264.5 641v1M265.5 641v1M266.5 642v1M267.5 643v2M268.5 645v1M269.5 646v1M270.5 646v1M271.5 646v1M272.5 646v1M273.5 646v1M274.5 644v2M275.5 643v1M276.5 641v2M277.5 640v1M278.5 641v1M279.5 642v2M280.5 644v1M281.5 645v1M282.5 645v1M283.5 646v1M284.5 647v1M285.5 647v1M286.5 647v1M287.5 647v1M288.5 648v1M289.5 648v1M290.5 648v1M291.5 648v1M292.5 649v1M293.5 648v2M294.5 647v1M295.5 644v3M296.5 643v1M297.5 641v2M298.5 642v1M299.5 643v1M300.5 643v1M301.5 644v1M302.5 644v1M303.5 644v1M304.5 645v1M305.5 645v1M306.5 645v1M307.5 645v1M308.5 646v1M309.5 646v1M310.5 645v1M311.5 643v2M312.5 642v1M313.5 640v2M314.5 639v1M315.5 636v3M316.5 635v1M317.5 633v2M318.5 634v1M319.5 635v2M320.5 637v1M321.5 638v1M322.5 638v1M323.5 637v1M324.5 636v1M325.5 636v1M326.5 636v1M327.5 636v1M328.5 636v1M329.5 636v2M330.5 638v2M331.5 640v2M332.5 642v2M333.5 644v2M334.5 646v2M335.5 648v2M336.5 650v2M337.5 652v1M338.5 652v1M339.5 652v1M340.5 653v1M341.5 653v1M342.5 654v1M343.5 655v1M344.5 656v1M345.5 657v2M346.5 659v1M347.5 660v3M348.5 663v1M349.5 664v2M350.5 665v1M351.5 666v1M352.5 667v1M353.5 667v1M354.5 667v1M355.5 667v1M356.5 667v1M357.5 667v1M358.5 665v2M359.5 664v1M360.5 662v2M361.5 661v1M362.5 661v1M363.5 661v1M364.5 660v1M365.5 660v1M366.5 659v1M367.5 657v2M368.5 656v1M369.5 654v2M370.5 653v1M371.5 650v3M372.5 649v1M373.5 647v2M374.5 646v1M375.5 645v1M376.5 644v1M377.5 643v1M378.5 644v1M379.5 645v1M380.5 645v1M381.5 646v1M382.5 646v1M383.5 646v1M384.5 646v1M385.5 646v1M386.5 647v1M387.5 648v2M388.5 650v1M389.5 651v2M390.5 653v4M391.5 657v3M392.5 660v4M393.5 664v2M394.5 665v1M395.5 664v1M396.5 663v1M397.5 663v1M398.5 663v1M399.5 663v1M400.5 664v1M401.5 664v1M402.5 664v1M403.5 664v1M404.5 665v1M405.5 665v1M406.5 665v1M407.5 666v1M408.5 667v1M409.5 667v1M410.5 668v1M411.5 669v1M412.5 670v1M413.5 671v1M414.5 671v1M415.5 670v1M416.5 669v1M417.5 669v1M418.5 669v1M419.5 670v1M420.5 671v1M421.5 671v1M422.5 671v1M423.5 671v1M424.5 672v1M425.5 671v2M426.5 670v1M427.5 667v3M428.5 666v1M429.5 664v2M430.5 664v1M431.5 664v1M432.5 664v1M433.5 664v1M434.5 665v1M435.5 666v1M436.5 667v1M437.5 668v1M438.5 668v1M439.5 668v1M440.5 669v1M441.5 668v2M442.5 666v2M443.5 664v2M444.5 662v2M445.5 660v2M446.5 660v1M447.5 661v1M448.5 662v1M449.5 662v1M450.5 662v1M451.5 662v1M452.5 661v1M453.5 661v1M454.5 660v1M455.5 658v2M456.5 657v1M457.5 656v1M458.5 656v1M459.5 657v1M460.5 658v1M461.5 658v1M462.5 659v1M463.5 660v1M464.5 660v1M465.5 661v1M466.5 662v1M467.5 663v1M468.5 663v1M469.5 664v1M470.5 664v1M471.5 664v1M472.5 664v1M473.5 664v1M474.5 664v1M475.5 664v1M476.5 663v1M477.5 663v1M478.5 663v1M479.5 663v1M480.5 662v1M481.5 662v1M482.5 662v1M483.5 662v1M484.5 662v1M485.5 661v2M486.5 659v2M487.5 657v2M488.5 655v2M489.5 653v2M490.5 653v1M491.5 653v1M492.5 654v1M493.5 654v1M494.5 654v1M495.5 655v1M496.5 656v1M497.5 655v2M498.5 653v2M499.5 651v2M500.5 649v2M501.5 647v2M502.5 646v1M503.5 645v1M504.5 645v1M505.5 644v1M506.5 644v1M507.5 644v1M508.5 645v1M509.5 645v1M510.5 645v1M511.5 644v1M512.5 643v1M513.5 643v1M514.5 641v2M515.5 640v1M516.5 638v2M517.5 637v1M518.5 638v1M519.5 639v1M520.5 639v1M521.5 640v1M522.5 641v1M523.5 642v1M524.5 643v1M525.5 644v1M526.5 643v1M527.5 642v1M528.5 642v1M529.5 641v1M530.5 642v1M531.5 643v2M532.5 645v1M533.5 645v2M534.5 643v2M535.5 641v2M536.5 639v2M537.5 637v2M538.5 637v1M539.5 637v1M540.5 636v1M541.5 636v1M542.5 636v1M543.5 636v1M544.5 637v1M545.5 637v1M546.5 638v1M547.5 639v1M548.5 639v1M549.5 640v1M550.5 638v2M551.5 636v2M552.5 634v2M553.5 633v1M554.5 631v2M555.5 629v2M556.5 627v2M557.5 626v2M558.5 628v3M559.5 631v4M560.5 635v3M561.5 638v2M562.5 639v1M563.5 640v1M564.5 641v1M565.5 641v1M566.5 641v1M567.5 641v1M568.5 642v1M569.5 642v1M570.5 642v1M571.5 642v1M572.5 641v1M573.5 641v1M574.5 641v1M575.5 641v1M576.5 642v1M577.5 641v2M578.5 639v2M579.5 636v3M580.5 634v2M581.5 632v2M582.5 632v1M583.5 632v1M584.5 632v1M585.5 632v1M586.5 633v2M587.5 635v1M588.5 636v2M589.5 638v1M590.5 638v1M591.5 639v1M592.5 640v1M593.5 640v1M594.5 639v1M595.5 638v1M596.5 637v1M597.5 636v1M598.5 636v1M599.5 635v1M600.5 634v1M601.5 634v2M602.5 636v1M603.5 637v3M604.5 640v1M605.5 641v2M606.5 641v1M607.5 640v1M608.5 639v1M609.5 638v1M610.5 638v1M611.5 638v1M612.5 637v1M613.5 637v1M614.5 638v1M615.5 639v1M616.5 640v1M617.5 641v1M618.5 641v1M619.5 641v1M620.5 642v1M621.5 642v1M622.5 642v1M623.5 643v1M624.5 644v1M625.5 644v1M626.5 643v1M627.5 642v1M628.5 641v1M629.5 640v1M630.5 640v1M631.5 640v1M632.5 641v1M633.5 641v1M634.5 641v1M635.5 641v1M636.5 641v1M637.5 641v1M638.5 640v1M639.5 639v1M640.5 639v1M641.5 638v1M642.5 638v1M643.5 638v1M644.5 638v1M645.5 638v1M646.5 638v1M647.5 637v1M648.5 636v1M649.5 636v2M650.5 638v4M651.5 642v3M652.5 645v4M653.5 649v2M654.5 650v1M655.5 651v1M656.5 652v1M657.5 652v2M658.5 654v1M659.5 655v3M660.5 658v1M661.5 659v2M662.5 660v1M663.5 659v1M664.5 658v1M665.5 658v1M666.5 659v1M667.5 660v1M668.5 661v1M669.5 662v1M670.5 662v1M671.5 662v1M672.5 661v1M673.5 660v2M674.5 658v2M675.5 656v2M676.5 654v2M677.5 652v2M678.5 652v1M679.5 651v1M680.5 650v1M681.5 650v1M682.5 648v2M683.5 646v2M684.5 644v2M685.5 643v1M686.5 643v1M687.5 642v1M688.5 641v1M689.5 641v1M690.5 641v1M691.5 642v1M692.5 643v1M693.5 643v1M694.5 644v1M695.5 645v1M696.5 645v1M697.5 646v1M698.5 645v1M699.5 643v2M700.5 642v1M701.5 641v1M702.5 642v1M703.5 643v1M704.5 643v1M705.5 644v1M706.5 644v1M707.5 644v1M708.5 643v1M709.5 643v1M710.5 643v1M711.5 643v1M712.5 642v1M713.5 642v1M714.5 642v1M715.5 642v1M716.5 643v1M717.5 643v1M718.5 644v1M719.5 645v1M720.5 646v1M721.5 647v1M722.5 646v1M723.5 644v2M724.5 643v1M725.5 642v1M726.5 642v1M727.5 643v1M728.5 644v1M729.5 644v1M730.5 645v1M731.5 646v1M732.5 646v1M733.5 647v1M734.5 647v1M735.5 648v1M736.5 649v1M737.5 649v1M738.5 649v1M739.5 649v1M740.5 648v1M741.5 648v1M742.5 649v1M743.5 650v1M744.5 650v1M745.5 650v2M746.5 646v4M747.5 643v3M748.5 639v4M749.5 637v2M750.5 637v1M751.5 637v1M752.5 636v1M753.5 636v1M754.5 636v1M755.5 636v1M756.5 635v1M757.5 635v1M758.5 635v1M759.5 636v1M760.5 637v1M761.5 637v1M762.5 638v1M763.5 639v1M764.5 640v1M765.5 641v1M766.5 640v1M767.5 638v2M768.5 637v1M769.5 636v1M770.5 636v1M771.5 637v1M772.5 638v1M773.5 638v2M774.5 640v2M775.5 642v3M776.5 645v2M777.5 647v3M778.5 650v3M779.5 653v3M780.5 656v3M781.5 659v2M782.5 660v1M783.5 660v1M784.5 659v1M785.5 659v1M786.5 657v2M787.5 655v2M788.5 653v2M789.5 652v1M790.5 653v1M791.5 654v1M792.5 654v1M793.5 655v1M794.5 655v1M795.5 655v1M796.5 656v1M797.5 656v1M798.5 657v2M799.5 659v1M800.5 660v2M801.5 662v1M802.5 662v1M803.5 662v1M804.5 662v1M805.5 662v1M806.5 662v1M807.5 662v1M808.5 663v1M809.5 663v1M810.5 664v1M811.5 665v1M812.5 665v1M813.5 666v1M814.5 666v1M815.5 666v1M816.5 667v1M817.5 667v1M818.5 667v1M819.5 667v1M820.5 666v1M821.5 666v1M822.5 666v1M823.5 666v1M824.5 667v1M825.5 667v1M826.5 667v1M827.5 667v1M828.5 668v1M829.5 668v1M830.5 668v1M831.5 668v1M832.5 669v1M833.5 669v1M834.5 669v1M835.5 669v1M836.5 668v1M837.5 668v1M838.5 667v1M839.5 666v1M840.5 665v1M841.5 662v3M842.5 657v5M843.5 651v6M844.5 646v5M845.5 643v3M846.5 644v2M847.5 646v1M848.5 647v2M849.5 649v1M850.5 649v1M851.5 649v1M852.5 649v1M853.5 649v1M854.5 649v1M855.5 649v1M856.5 649v1M857.5 649v1M858.5 649v1M859.5 649v1M860.5 649v1M861.5 649v1M862.5 648v1M863.5 647v1M864.5 647v1M865.5 646v1M866.5 645v1M867.5 644v1M868.5 644v1M869.5 643v1M870.5 643v1M871.5 643v1M872.5 644v1M873.5 644v1M874.5 642v2M875.5 640v2M876.5 638v2M877.5 637v1M878.5 637v1M879.5 636v1M880.5 635v1M881.5 635v1M882.5 636v1M883.5 637v1M884.5 637v1M885.5 638v1M886.5 637v1M887.5 636v1M888.5 636v1M889.5 635v1M890.5 635v1M891.5 635v1M892.5 634v1M893.5 634v1M894.5 634v1M895.5 633v1M896.5 632v1M897.5 632v2M898.5 634v1M899.5 635v3M900.5 638v1M901.5 639v2M902.5 640v1M903.5 639v1M904.5 638v1M905.5 638v1M906.5 639v1M907.5 640v1M908.5 641v1M909.5 642v1M910.5 642v1M911.5 641v1M912.5 640v1M913.5 639v2M914.5 637v2M915.5 634v3M916.5 632v2M917.5 630v2M918.5 631v1M919.5 632v1M920.5 633v1M921.5 634v1M922.5 634v1M923.5 634v1M924.5 633v1M925.5 633v1M926.5 633v1M927.5 633v1M928.5 632v1M929.5 632v1M930.5 632v1M931.5 631v1M932.5 630v1M933.5 630v1M934.5 631v1M935.5 632v2M936.5 634v1M937.5 635v1M938.5 635v1M939.5 635v1M940.5 636v1M941.5 636v1M942.5 636v1M943.5 636v1M944.5 636v1M945.5 636v1M946.5 636v1M947.5 637v1M948.5 638v1M949.5 638v1M950.5 638v1M951.5 638v1M952.5 638v1M953.5 638v1M954.5 637v1M955.5 635v2M956.5 634v1M957.5 633v1M958.5 634v1M959.5 635v1M960.5 636v1M961.5 637v2M962.5 639v3M963.5 642v4M964.5 646v3M965.5 649v3M966.5 652v1M967.5 653v3M968.5 656v1M969.5 657v2M970.5 653v4M971.5 650v3M972.5 646v4M973.5 644v2M974.5 644v1M975.5 644v1M976.5 645v1M977.5 645v1M978.5 646v1M979.5 647v1M980.5 648v1M981.5 649v1M982.5 649v1M983.5 649v1M984.5 649v1M985.5 649v1M986.5 649v1M987.5 650v1M988.5 651v1M989.5 651v1M990.5 652v1M991.5 653v1M992.5 654v1M993.5 655v1M994.5 655v1M995.5 654v1M996.5 653v1M997.5 653v1M998.5 653v1M999.5 654v1M1000.5 655v1M1001.5 655v1M1002.5 656v1M1003.5 657v2M1004.5 659v1M1005.5 660v1M1006.5 660v1M1007.5 659v1M1008.5 658v1M1009.5 658v1M1010.5 659v2M1011.5 661v1M1012.5 662v2M1013.5 664v1M1014.5 663v1M1015.5 662v1M1016.5 661v1M1017.5 660v1M1018.5 658v2M1019.5 656v2M1020.5 654v2M1021.5 653v1M1022.5 653v1M1023.5 653v1M1024.5 652v1M1025.5 652v1M1026.5 652v1M1027.5 652v1M1028.5 652v1M1029.5 652v1M1030.5 652v1M1031.5 653v1M1032.5 654v1M1033.5 654v1M1034.5 654v1M1035.5 654v1M1036.5 653v1M1037.5 653v1M1038.5 654v2M1039.5 656v2M1040.5 658v2M1041.5 660v1M1042.5 661v1M1043.5 662v1M1044.5 663v1M1045.5 664v1M1046.5 664v1M1047.5 665v1M1048.5 666v1M1049.5 666v1M1050.5 666v1M1051.5 666v1M1052.5 667v1M1053.5 667v2M1054.5 669v1M1055.5 670v3M1056.5 673v1M1057.5 674v2M1058.5 674v1M1059.5 673v1M1060.5 672v1M1061.5 671v1M1062.5 671v1M1063.5 671v1M1064.5 671v1M1065.5 671v1M1066.5 671v1M1067.5 671v1M1068.5 671v1M1069.5 671v1M1070.5 671v1M1071.5 670v1M1072.5 669v1M1073.5 669v1M1074.5 669v1M1075.5 670v1M1076.5 671v1M1077.5 670v2M1078.5 667v3M1079.5 665v2M1080.5 662v3M1081.5 660v2M1082.5 659v1M1083.5 658v1M1084.5 657v1M1085.5 655v2M1086.5 652v3M1087.5 650v2M1088.5 647v3M1089.5 645v2M1090.5 646v2M1091.5 648v2M1092.5 650v2M1093.5 652v1M1094.5 652v1M1095.5 651v1M1096.5 650v1M1097.5 650v1M1098.5 650v1M1099.5 651v1M1100.5 652v1M1101.5 652v1M1102.5 651v1M1103.5 650v1M1104.5 650v1M1105.5 649v1M1106.5 650v1M1107.5 651v1M1108.5 651v1M1109.5 652v1M1110.5 652v1M1111.5 652v1M1112.5 653v1M1113.5 653v1M1114.5 652v1M1115.5 651v1M1116.5 650v1M1117.5 649v1M1118.5 649v1M1119.5 649v1M1120.5 649v1M1121.5 649v1M1122.5 649v1M1123.5 649v1M1124.5 650v1M1125.5 650v1M1126.5 650v1M1127.5 649v1M1128.5 648v1M1129.5 647v2M1130.5 645v2M1131.5 643v2M1132.5 641v2M1133.5 639v2M1134.5 638v1M1135.5 636v2M1136.5 635v1M1137.5 634v1M1138.5 635v1M1139.5 636v1M1140.5 636v1M1141.5 637v1M1142.5 637v1M1143.5 637v1M1144.5 636v1M1145.5 636v1M1146.5 635v1M1147.5 633v2M1148.5 632v1M1149.5 631v1M1150.5 631v1M1151.5 631v1M1152.5 630v1M1153.5 630v1M1154.5 630v1M1155.5 629v1M1156.5 628v1M1157.5 628v1M1158.5 627v1M1159.5 626v1M1160.5 626v1M1161.5 625v1M1162.5 625v1M1163.5 625v1M1164.5 625v1M1165.5 625v1M1166.5 625v1M1167.5 625v1M1168.5 624v1M1169.5 624v1M1170.5 623v1M1171.5 622v1M1172.5 622v1M1173.5 621v1M1174.5 621v1M1175.5 620v1M1176.5 619v1M1177.5 619v1M1178.5 619v1M1179.5 619v1M1180.5 618v1M1181.5 618v1M1182.5 618v1M1183.5 618v1M1184.5 618v1M1185.5 618v1M1186.5 618v1M1187.5 618v1M1188.5 617v1M1189.5 617v1M1190.5 617v1M1191.5 618v1M1192.5 619v1M1193.5 619v1M1194.5 618v1M1195.5 617v1M1196.5 617v1M1197.5 616v2M1198.5 618v3M1199.5 621v2M1200.5 623v3M1201.5 626v3M1202.5 629v1M1203.5 630v3M1204.5 633v1M1205.5 634v2M1206.5 635v1M1207.5 636v1M1208.5 637v1M1209.5 637v1M1210.5 637v1M1211.5 637v1M1212.5 636v1M1213.5 636v1M1214.5 636v1M1215.5 637v1M1216.5 638v1M1217.5 638v1M1218.5 639v1M1219.5 640v1M1220.5 641v1M1221.5 642v1M1222.5 641v1M1223.5 640v1M1224.5 639v1M1225.5 638v1M1226.5 639v1M1227.5 640v2M1228.5 642v1M1229.5 643v1M1230.5 643v1M1231.5 643v1M1232.5 644v1M1233.5 644v1M1234.5 645v1M1235.5 646v1M1236.5 646v1M1237.5 647v1M1238.5 648v1M1239.5 649v1M1240.5 649v1M1241.5 649v2M1242.5 646v3M1243.5 642v4M1244.5 639v3M1245.5 637v2M1246.5 636v1M1247.5 635v1M1248.5 635v1M1249.5 634v1M1250.5 633v1M1251.5 632v1M1252.5 632v1M1253.5 631v1M1254.5 629v2M1255.5 627v2M1256.5 625v2M1257.5 624v1M1258.5 623v1M1259.5 621v2M1260.5 620v1M1261.5 619v1M1262.5 620v1M1263.5 621v1M1264.5 622v1M1265.5 623v1M1266.5 624v1M1267.5 625v1M1268.5 626v1M1269.5 627v2M1270.5 629v3M1271.5 632v2M1272.5 634v3M1273.5 637v2M1274.5 636v2M1275.5 634v2M1276.5 632v2M1277.5 631v1M1278.5 631v1M1279.5 631v1M1280.5 630v1M1281.5 630v1M1282.5 630v1M1283.5 629v1M1284.5 628v1M1285.5 628v1M1286.5 628v1M1287.5 628v1M1288.5 628v1M1289.5 627v2M1290.5 626v1M1291.5 623v3M1292.5 622v1M1293.5 619v3M1294.5 617v2M1295.5 614v3M1296.5 612v2M1297.5 610v2M1298.5 611v1M1299.5 612v1M1300.5 613v1M1301.5 614v1M1302.5 614v1M1303.5 613v1M1304.5 612v1M1305.5 612v1" stroke="#1e90ff" stroke-width="1" fill="none"/>
<rect x="5" y="428" width="1" height="51" fill="#00ff00"/><rect x="5" y="428" width="2" height="35" fill="#00ff00"/><rect x="9" y="422" width="1" height="45" fill="#ff0000"/><rect x="8" y="448" width="3" height="15" fill="#ff0000"/><rect x="13" y="395" width="1" height="77" fill="#ff0000"/><rect x="12" y="400" width="3" height="50" fill="#ff0000"/><rect x="17" y="365" width="1" height="41" fill="#ff0000"/><rect x="16" y="367" width="3" height="36" fill="#ff0000"/><rect x="21" y="351" width="1" height="33" fill="#ff0000"/><rect x="20" y="353" width="3" height="29" fill="#ff0000"/><rect x="25" y="331" width="1" height="32" fill="#ff0000"/><rect x="24" y="340" width="3" height="16" fill="#ff0000"/><rect x="29" y="273" width="1" height="76" fill="#ff0000"/><rect x="28" y="294" width="3" height="48" fill="#ff0000"/><rect x="33" y="277" width="1" height="24" fill="#ff0000"/><rect x="32" y="285" width="3" height="9" fill="#ff0000"/><rect x="37" y="266" width="1" height="44" fill="#ff0000"/><rect x="36" y="284" width="3" height="3" fill="#ff0000"/><rect x="41" y="283" width="1" height="24" fill="#00ff00"/><rect x="40" y="284" width="3" height="17" fill="#00ff00"/><rect x="45" y="283" width="1" height="29" fill="#00ff00"/><rect x="44" y="293" width="3" height="4" fill="#00ff00"/><rect x="49" y="295" width="1" height="32" fill="#00ff00"/><rect x="48" y="296" width="3" height="24" fill="#00ff00"/><rect x="53" y="317" width="1" height="46" fill="#00ff00"/><rect x="52" y="318" width="3" height="37" fill="#00ff00"/><rect x="57" y="338" width="1" height="38" fill="#00ff00"/><rect x="56" y="356" width="3" height="4" fill="#00ff00"/><rect x="61" y="324" width="1" height="51" fill="#ff0000"/><rect x="60" y="346" width="3" height="14" fill="#ff0000"/><rect x="65" y="332" width="1" height="20" fill="#ff0000"/><rect x="64" y="340" width="3" height="5" fill="#ff0000"/><rect x="69" y="332" width="1" height="21" fill="#ff0000"/><rect x="68" y="341" width="3" height="3" fill="#ff0000"/><rect x="73" y="328" width="1" height="71" fill="#00ff00"/><rect x="72" y="341" width="3" height="31" fill="#00ff00"/><rect x="77" y="338" width="1" height="36" fill="#ff0000"/><rect x="76" y="350" width="3" height="22" fill="#ff0000"/><rect x="81" y="320" width="1" height="75" fill="#ff0000"/><rect x="80" y="325" width="3" height="27" fill="#ff0000"/><rect x="85" y="291" width="1" height="37" fill="#ff0000"/><rect x="84" y="303" width="3" height="24" fill="#ff0000"/><rect x="89" y="293" width="1" height="16" fill="#ff0000"/><rect x="88" y="298" width="3" height="7" fill="#ff0000"/><rect x="93" y="280" width="1" height="17" fill="#00ff00"/><rect x="92" y="291" width="3" height="5" fill="#00ff00"/><rect x="97" y="289" width="1" height="36" fill="#00ff00"/><rect x="96" y="294" width="3" height="21" fill="#00ff00"/><rect x="101" y="285" width="1" height="40" fill="#ff0000"/><rect x="100" y="286" width="3" height="29" fill="#ff0000"/><rect x="105" y="283" width="1" height="27" fill="#00ff00"/><rect x="104" y="286" width="3" height="11" fill="#00ff00"/><rect x="109" y="276" width="1" height="67" fill="#00ff00"/><rect x="108" y="292" width="3" height="41" fill="#00ff00"/><rect x="113" y="324" width="1" height="15" fill="#00ff00"/><rect x="112" y="331" width="3" height="6" fill="#00ff00"/><rect x="117" y="325" width="1" height="22" fill="#00ff00"/><rect x="116" y="336" width="3" height="5" fill="#00ff00"/><rect x="121" y="322" width="1" height="49" fill="#ff0000"/><rect x="120" y="333" width="3" height="8" fill="#ff0000"/><rect x="125" y="332" width="1" height="39" fill="#00ff00"/><rect x="124" y="339" width="3" height="21" fill="#00ff00"/><rect x="129" y="324" width="1" height="40" fill="#ff0000"/><rect x="128" y="333" width="3" height="26" fill="#ff0000"/><rect x="133" y="305" width="1" height="34" fill="#ff0000"/><rect x="132" y="314" width="3" height="20" fill="#ff0000"/><rect x="137" y="308" width="1" height="10" fill="#ff0000"/><rect x="136" y="313" width="3" height="3" fill="#ff0000"/><rect x="141" y="315" width="1" height="45" fill="#00ff00"/><rect x="140" y="321" width="3" height="38" fill="#00ff00"/><rect x="145" y="350" width="1" height="29" fill="#ff0000"/><rect x="144" y="354" width="3" height="4" fill="#ff0000"/><rect x="149" y="331" width="1" height="30" fill="#ff0000"/><rect x="148" y="354" width="3" height="1" fill="#ff0000"/><rect x="153" y="309" width="1" height="55" fill="#ff0000"/><rect x="152" y="320" width="3" height="35" fill="#ff0000"/><rect x="157" y="313" width="1" height="48" fill="#00ff00"/><rect x="156" y="319" width="3" height="29" fill="#00ff00"/><rect x="161" y="344" width="1" height="9" fill="#ff0000"/><rect x="160" y="347" width="3" height="1" fill="#ff0000"/><rect x="165" y="313" width="1" height="58" fill="#ff0000"/><rect x="164" y="323" width="3" height="27" fill="#ff0000"/><rect x="169" y="305" width="1" height="36" fill="#00ff00"/><rect x="168" y="323" width="3" height="16" fill="#00ff00"/><rect x="173" y="324" width="1" height="61" fill="#00ff00"/><rect x="172" y="338" width="3" height="2" fill="#00ff00"/><rect x="177" y="307" width="1" height="40" fill="#ff0000"/><rect x="176" y="322" width="3" height="17" fill="#ff0000"/><rect x="181" y="313" width="1" height="13" fill="#00ff00"/><rect x="180" y="321" width="3" height="4" fill="#00ff00"/><rect x="185" y="313" width="1" height="6" fill="#00ff00"/><rect x="184" y="314" width="3" height="4" fill="#00ff00"/><rect x="189" y="317" width="1" height="22" fill="#00ff00"/><rect x="188" y="318" width="3" height="17" fill="#00ff00"/><rect x="193" y="289" width="1" height="58" fill="#ff0000"/><rect x="192" y="294" width="3" height="42" fill="#ff0000"/><rect x="197" y="234" width="1" height="63" fill="#ff0000"/><rect x="196" y="267" width="3" height="29" fill="#ff0000"/><rect x="201" y="236" width="1" height="33" fill="#ff0000"/><rect x="200" y="249" width="3" height="20" fill="#ff0000"/><rect x="205" y="248" width="1" height="29" fill="#00ff00"/><rect x="204" y="249" width="3" height="23" fill="#00ff00"/><rect x="209" y="268" width="1" height="8" fill="#ff0000"/><rect x="208" y="269" width="3" height="5" fill="#ff0000"/><rect x="213" y="259" width="1" height="22" fill="#00ff00"/><rect x="212" y="269" width="3" height="11" fill="#00ff00"/><rect x="217" y="258" width="1" height="35" fill="#00ff00"/><rect x="216" y="275" width="3" height="17" fill="#00ff00"/><rect x="221" y="289" width="1" height="33" fill="#00ff00"/><rect x="220" y="290" width="3" height="7" fill="#00ff00"/><rect x="225" y="261" width="1" height="51" fill="#ff0000"/><rect x="224" y="265" width="3" height="32" fill="#ff0000"/><rect x="229" y="253" width="1" height="51" fill="#00ff00"/><rect x="228" y="265" width="3" height="23" fill="#00ff00"/><rect x="233" y="288" width="1" height="8" fill="#ff0000"/><rect x="232" y="290" width="3" height="3" fill="#ff0000"/><rect x="237" y="250" width="1" height="31" fill="#00ff00"/><rect x="236" y="274" width="3" height="5" fill="#00ff00"/><rect x="241" y="256" width="1" height="46" fill="#ff0000"/><rect x="240" y="263" width="3" height="17" fill="#ff0000"/><rect x="245" y="253" width="1" height="28" fill="#00ff00"/><rect x="244" y="264" width="3" height="15" fill="#00ff00"/><rect x="249" y="243" width="1" height="30" fill="#ff0000"/><rect x="248" y="251" width="3" height="21" fill="#ff0000"/><rect x="253" y="250" width="1" height="70" fill="#00ff00"/><rect x="252" y="251" width="3" height="40" fill="#00ff00"/><rect x="257" y="283" width="1" height="17" fill="#00ff00"/><rect x="256" y="289" width="3" height="4" fill="#00ff00"/><rect x="261" y="261" width="1" height="35" fill="#ff0000"/><rect x="260" y="266" width="3" height="25" fill="#ff0000"/><rect x="265" y="254" width="1" height="15" fill="#00ff00"/><rect x="264" y="266" width="3" height="1" fill="#00ff00"/><rect x="269" y="251" width="1" height="39" fill="#00ff00"/><rect x="268" y="266" width="3" height="23" fill="#00ff00"/><rect x="273" y="285" width="1" height="22" fill="#ff0000"/><rect x="272" y="286" width="3" height="3" fill="#ff0000"/><rect x="277" y="238" width="1" height="51" fill="#ff0000"/><rect x="276" y="260" width="3" height="28" fill="#ff0000"/><rect x="281" y="258" width="1" height="29" fill="#00ff00"/><rect x="280" y="260" width="3" height="23" fill="#00ff00"/><rect x="285" y="272" width="1" height="26" fill="#00ff00"/><rect x="284" y="273" width="3" height="16" fill="#00ff00"/><rect x="289" y="286" width="1" height="24" fill="#00ff00"/><rect x="288" y="287" width="3" height="6" fill="#00ff00"/><rect x="293" y="290" width="1" height="43" fill="#00ff00"/><rect x="292" y="291" width="3" height="6" fill="#00ff00"/><rect x="297" y="245" width="1" height="54" fill="#ff0000"/><rect x="296" y="263" width="3" height="35" fill="#ff0000"/><rect x="301" y="254" width="1" height="36" fill="#00ff00"/><rect x="300" y="263" width="3" height="13" fill="#00ff00"/><rect x="305" y="273" width="1" height="17" fill="#00ff00"/><rect x="304" y="274" width="3" height="8" fill="#00ff00"/><rect x="309" y="277" width="1" height="13" fill="#ff0000"/><rect x="308" y="282" width="3" height="4" fill="#ff0000"/><rect x="313" y="259" width="1" height="29" fill="#ff0000"/><rect x="312" y="262" width="3" height="23" fill="#ff0000"/><rect x="317" y="218" width="1" height="47" fill="#ff0000"/><rect x="316" y="226" width="3" height="38" fill="#ff0000"/><rect x="321" y="226" width="1" height="31" fill="#00ff00"/><rect x="320" y="226" width="3" height="18" fill="#00ff00"/><rect x="325" y="207" width="1" height="45" fill="#ff0000"/><rect x="324" y="231" width="3" height="12" fill="#ff0000"/><rect x="329" y="225" width="1" height="13" fill="#00ff00"/><rect x="328" y="233" width="3" height="1" fill="#00ff00"/><rect x="333" y="231" width="1" height="35" fill="#00ff00"/><rect x="332" y="232" width="3" height="33" fill="#00ff00"/><rect x="337" y="258" width="1" height="42" fill="#00ff00"/><rect x="336" y="263" width="3" height="34" fill="#00ff00"/><rect x="341" y="295" width="1" height="36" fill="#00ff00"/><rect x="340" y="296" width="3" height="7" fill="#00ff00"/><rect x="345" y="287" width="1" height="45" fill="#00ff00"/><rect x="344" y="301" width="3" height="23" fill="#00ff00"/><rect x="349" y="317" width="1" height="74" fill="#00ff00"/><rect x="348" y="318" width="3" height="59" fill="#00ff00"/><rect x="353" y="372" width="1" height="20" fill="#00ff00"/><rect x="352" y="374" width="3" height="12" fill="#00ff00"/><rect x="357" y="378" width="1" height="21" fill="#00ff00"/><rect x="356" y="379" width="3" height="14" fill="#00ff00"/><rect x="361" y="368" width="1" height="31" fill="#ff0000"/><rect x="360" y="371" width="3" height="22" fill="#ff0000"/><rect x="365" y="362" width="1" height="23" fill="#ff0000"/><rect x="364" y="368" width="3" height="6" fill="#ff0000"/><rect x="369" y="340" width="1" height="33" fill="#ff0000"/><rect x="368" y="348" width="3" height="22" fill="#ff0000"/><rect x="373" y="313" width="1" height="46" fill="#ff0000"/><rect x="372" y="314" width="3" height="37" fill="#ff0000"/><rect x="377" y="293" width="1" height="27" fill="#ff0000"/><rect x="376" y="294" width="3" height="25" fill="#ff0000"/><rect x="381" y="295" width="1" height="18" fill="#00ff00"/><rect x="380" y="300" width="3" height="11" fill="#00ff00"/><rect x="385" y="287" width="1" height="30" fill="#00ff00"/><rect x="384" y="307" width="3" height="4" fill="#00ff00"/><rect x="389" y="308" width="1" height="39" fill="#00ff00"/><rect x="388" y="309" width="3" height="22" fill="#00ff00"/><rect x="393" y="328" width="1" height="131" fill="#00ff00"/><rect x="392" y="329" width="3" height="95" fill="#00ff00"/><rect x="397" y="412" width="1" height="41" fill="#ff0000"/><rect x="396" y="415" width="3" height="9" fill="#ff0000"/><rect x="401" y="410" width="1" height="14" fill="#00ff00"/><rect x="400" y="416" width="3" height="7" fill="#00ff00"/><rect x="405" y="418" width="1" height="25" fill="#00ff00"/><rect x="404" y="419" width="3" height="12" fill="#00ff00"/><rect x="409" y="427" width="1" height="31" fill="#00ff00"/><rect x="408" y="428" width="3" height="23" fill="#00ff00"/><rect x="413" y="423" width="1" height="62" fill="#00ff00"/><rect x="412" y="448" width="3" height="36" fill="#00ff00"/><rect x="417" y="465" width="1" height="21" fill="#ff0000"/><rect x="416" y="479" width="3" height="6" fill="#ff0000"/><rect x="421" y="477" width="1" height="37" fill="#00ff00"/><rect x="420" y="479" width="3" height="16" fill="#00ff00"/><rect x="425" y="488" width="1" height="14" fill="#00ff00"/><rect x="424" y="493" width="3" height="8" fill="#00ff00"/><rect x="429" y="470" width="1" height="30" fill="#ff0000"/><rect x="428" y="473" width="3" height="24" fill="#ff0000"/><rect x="433" y="461" width="1" height="24" fill="#00ff00"/><rect x="432" y="473" width="3" height="6" fill="#00ff00"/><rect x="437" y="476" width="1" height="36" fill="#00ff00"/><rect x="436" y="477" width="3" height="31" fill="#00ff00"/><rect x="441" y="501" width="1" height="27" fill="#00ff00"/><rect x="440" y="506" width="3" height="12" fill="#00ff00"/><rect x="445" y="468" width="1" height="55" fill="#ff0000"/><rect x="444" y="483" width="3" height="35" fill="#ff0000"/><rect x="449" y="482" width="1" height="19" fill="#00ff00"/><rect x="448" y="483" width="3" height="17" fill="#00ff00"/><rect x="453" y="489" width="1" height="32" fill="#ff0000"/><rect x="452" y="495" width="3" height="8" fill="#ff0000"/><rect x="457" y="464" width="1" height="36" fill="#ff0000"/><rect x="456" y="474" width="3" height="23" fill="#ff0000"/><rect x="461" y="464" width="1" height="45" fill="#00ff00"/><rect x="460" y="474" width="3" height="14" fill="#00ff00"/><rect x="465" y="485" width="1" height="40" fill="#00ff00"/><rect x="464" y="487" width="3" height="20" fill="#00ff00"/><rect x="469" y="498" width="1" height="41" fill="#00ff00"/><rect x="468" y="504" width="3" height="21" fill="#00ff00"/><rect x="473" y="522" width="1" height="12" fill="#00ff00"/><rect x="472" y="523" width="3" height="8" fill="#00ff00"/><rect x="477" y="518" width="1" height="20" fill="#ff0000"/><rect x="476" y="526" width="3" height="7" fill="#ff0000"/><rect x="481" y="510" width="1" height="27" fill="#ff0000"/><rect x="480" y="522" width="3" height="6" fill="#ff0000"/><rect x="485" y="492" width="1" height="36" fill="#00ff00"/><rect x="484" y="522" width="3" height="3" fill="#00ff00"/><rect x="489" y="491" width="1" height="38" fill="#ff0000"/><rect x="488" y="493" width="3" height="31" fill="#ff0000"/><rect x="493" y="482" width="1" height="57" fill="#00ff00"/><rect x="492" y="494" width="3" height="7" fill="#00ff00"/><rect x="497" y="497" width="1" height="18" fill="#00ff00"/><rect x="496" y="498" width="3" height="12" fill="#00ff00"/><rect x="501" y="477" width="1" height="49" fill="#ff0000"/><rect x="500" y="478" width="3" height="40" fill="#ff0000"/><rect x="505" y="449" width="1" height="40" fill="#ff0000"/><rect x="504" y="464" width="3" height="16" fill="#ff0000"/><rect x="509" y="459" width="1" height="19" fill="#00ff00"/><rect x="508" y="464" width="3" height="5" fill="#00ff00"/><rect x="513" y="456" width="1" height="25" fill="#ff0000"/><rect x="512" y="460" width="3" height="9" fill="#ff0000"/><rect x="517" y="428" width="1" height="34" fill="#ff0000"/><rect x="516" y="435" width="3" height="26" fill="#ff0000"/><rect x="521" y="434" width="1" height="13" fill="#00ff00"/><rect x="520" y="435" width="3" height="11" fill="#00ff00"/><rect x="525" y="438" width="1" height="22" fill="#00ff00"/><rect x="524" y="448" width="3" height="11" fill="#00ff00"/><rect x="529" y="433" width="1" height="27" fill="#ff0000"/><rect x="528" y="446" width="3" height="13" fill="#ff0000"/><rect x="533" y="443" width="1" height="43" fill="#00ff00"/><rect x="532" y="446" width="3" height="17" fill="#00ff00"/><rect x="537" y="399" width="1" height="72" fill="#ff0000"/><rect x="536" y="424" width="3" height="39" fill="#ff0000"/><rect x="541" y="388" width="1" height="48" fill="#ff0000"/><rect x="540" y="417" width="3" height="10" fill="#ff0000"/><rect x="545" y="413" width="1" height="17" fill="#00ff00"/><rect x="544" y="417" width="3" height="6" fill="#00ff00"/><rect x="549" y="399" width="1" height="44" fill="#00ff00"/><rect x="548" y="425" width="3" height="6" fill="#00ff00"/><rect x="553" y="386" width="1" height="52" fill="#ff0000"/><rect x="552" y="396" width="3" height="35" fill="#ff0000"/><rect x="557" y="340" width="1" height="59" fill="#ff0000"/><rect x="556" y="348" width="3" height="50" fill="#ff0000"/><rect x="561" y="342" width="1" height="66" fill="#00ff00"/><rect x="560" y="349" width="3" height="54" fill="#00ff00"/><rect x="565" y="383" width="1" height="42" fill="#00ff00"/><rect x="564" y="402" width="3" height="11" fill="#00ff00"/><rect x="569" y="408" width="1" height="19" fill="#00ff00"/><rect x="568" y="411" width="3" height="7" fill="#00ff00"/><rect x="573" y="398" width="1" height="24" fill="#ff0000"/><rect x="572" y="408" width="3" height="12" fill="#ff0000"/><rect x="577" y="371" width="1" height="68" fill="#00ff00"/><rect x="576" y="409" width="3" height="4" fill="#00ff00"/><rect x="581" y="353" width="1" height="70" fill="#ff0000"/><rect x="580" y="354" width="3" height="62" fill="#ff0000"/><rect x="585" y="344" width="1" height="17" fill="#ff0000"/><rect x="584" y="353" width="3" height="4" fill="#ff0000"/><rect x="589" y="345" width="1" height="36" fill="#00ff00"/><rect x="588" y="353" width="3" height="25" fill="#00ff00"/><rect x="593" y="376" width="1" height="17" fill="#00ff00"/><rect x="592" y="377" width="3" height="11" fill="#00ff00"/><rect x="597" y="361" width="1" height="38" fill="#ff0000"/><rect x="596" y="364" width="3" height="24" fill="#ff0000"/><rect x="601" y="340" width="1" height="28" fill="#ff0000"/><rect x="600" y="349" width="3" height="18" fill="#ff0000"/><rect x="605" y="347" width="1" height="50" fill="#00ff00"/><rect x="604" y="349" width="3" height="34" fill="#00ff00"/><rect x="609" y="358" width="1" height="31" fill="#ff0000"/><rect x="608" y="360" width="3" height="24" fill="#ff0000"/><rect x="613" y="344" width="1" height="37" fill="#ff0000"/><rect x="612" y="355" width="3" height="17" fill="#ff0000"/><rect x="617" y="350" width="1" height="26" fill="#00ff00"/><rect x="616" y="355" width="3" height="18" fill="#00ff00"/><rect x="621" y="356" width="1" height="33" fill="#00ff00"/><rect x="620" y="357" width="3" height="22" fill="#00ff00"/><rect x="625" y="376" width="1" height="39" fill="#00ff00"/><rect x="624" y="377" width="3" height="8" fill="#00ff00"/><rect x="629" y="356" width="1" height="30" fill="#ff0000"/><rect x="628" y="365" width="3" height="20" fill="#ff0000"/><rect x="633" y="356" width="1" height="15" fill="#00ff00"/><rect x="632" y="365" width="3" height="4" fill="#00ff00"/><rect x="637" y="361" width="1" height="40" fill="#00ff00"/><rect x="636" y="367" width="3" height="3" fill="#00ff00"/><rect x="641" y="347" width="1" height="30" fill="#ff0000"/><rect x="640" y="354" width="3" height="21" fill="#ff0000"/><rect x="645" y="330" width="1" height="31" fill="#ff0000"/><rect x="644" y="355" width="3" height="4" fill="#ff0000"/><rect x="649" y="317" width="1" height="42" fill="#ff0000"/><rect x="648" y="347" width="3" height="10" fill="#ff0000"/><rect x="653" y="340" width="1" height="65" fill="#00ff00"/><rect x="652" y="348" width="3" height="53" fill="#00ff00"/><rect x="657" y="396" width="1" height="38" fill="#00ff00"/><rect x="656" y="399" width="3" height="7" fill="#00ff00"/><rect x="661" y="402" width="1" height="52" fill="#00ff00"/><rect x="660" y="403" width="3" height="45" fill="#00ff00"/><rect x="665" y="441" width="1" height="13" fill="#ff0000"/><rect x="664" y="442" width="3" height="6" fill="#ff0000"/><rect x="669" y="442" width="1" height="24" fill="#00ff00"/><rect x="668" y="445" width="3" height="20" fill="#00ff00"/><rect x="673" y="433" width="1" height="37" fill="#ff0000"/><rect x="672" y="462" width="3" height="3" fill="#ff0000"/><rect x="677" y="426" width="1" height="44" fill="#ff0000"/><rect x="676" y="428" width="3" height="36" fill="#ff0000"/><rect x="681" y="417" width="1" height="14" fill="#ff0000"/><rect x="680" y="422" width="3" height="8" fill="#ff0000"/><rect x="685" y="384" width="1" height="41" fill="#ff0000"/><rect x="684" y="387" width="3" height="37" fill="#ff0000"/><rect x="689" y="378" width="1" height="11" fill="#ff0000"/><rect x="688" y="378" width="3" height="11" fill="#ff0000"/><rect x="693" y="385" width="1" height="38" fill="#ff0000"/><rect x="692" y="387" width="3" height="36" fill="#ff0000"/><rect x="697" y="368" width="1" height="41" fill="#ff0000"/><rect x="696" y="398" width="3" height="7" fill="#ff0000"/><rect x="701" y="375" width="1" height="34" fill="#ff0000"/><rect x="700" y="377" width="3" height="23" fill="#ff0000"/><rect x="705" y="361" width="1" height="38" fill="#00ff00"/><rect x="704" y="377" width="3" height="14" fill="#00ff00"/><rect x="709" y="367" width="1" height="36" fill="#ff0000"/><rect x="708" y="386" width="3" height="6" fill="#ff0000"/><rect x="713" y="379" width="1" height="18" fill="#ff0000"/><rect x="712" y="380" width="3" height="8" fill="#ff0000"/><rect x="717" y="364" width="1" height="26" fill="#ff0000"/><rect x="716" y="384" width="3" height="3" fill="#ff0000"/><rect x="721" y="380" width="1" height="22" fill="#00ff00"/><rect x="720" y="384" width="3" height="14" fill="#00ff00"/><rect x="725" y="374" width="1" height="36" fill="#ff0000"/><rect x="724" y="380" width="3" height="18" fill="#ff0000"/><rect x="729" y="379" width="1" height="30" fill="#00ff00"/><rect x="728" y="380" width="3" height="6" fill="#00ff00"/><rect x="733" y="380" width="1" height="41" fill="#00ff00"/><rect x="732" y="384" width="3" height="14" fill="#00ff00"/><rect x="737" y="395" width="1" height="9" fill="#00ff00"/><rect x="736" y="396" width="3" height="7" fill="#00ff00"/><rect x="741" y="395" width="1" height="20" fill="#ff0000"/><rect x="740" y="401" width="3" height="7" fill="#ff0000"/><rect x="745" y="373" width="1" height="38" fill="#00ff00"/><rect x="744" y="401" width="3" height="9" fill="#00ff00"/><rect x="749" y="358" width="1" height="68" fill="#ff0000"/><rect x="748" y="359" width="3" height="50" fill="#ff0000"/><rect x="753" y="338" width="1" height="28" fill="#ff0000"/><rect x="752" y="353" width="3" height="8" fill="#ff0000"/><rect x="757" y="340" width="1" height="30" fill="#ff0000"/><rect x="756" y="348" width="3" height="8" fill="#ff0000"/><rect x="761" y="347" width="1" height="11" fill="#00ff00"/><rect x="760" y="348" width="3" height="8" fill="#00ff00"/><rect x="765" y="349" width="1" height="26" fill="#00ff00"/><rect x="764" y="361" width="3" height="5" fill="#00ff00"/><rect x="769" y="345" width="1" height="32" fill="#ff0000"/><rect x="768" y="347" width="3" height="19" fill="#ff0000"/><rect x="773" y="345" width="1" height="27" fill="#00ff00"/><rect x="772" y="347" width="3" height="6" fill="#00ff00"/><rect x="777" y="340" width="1" height="47" fill="#00ff00"/><rect x="776" y="351" width="3" height="33" fill="#00ff00"/><rect x="781" y="381" width="1" height="66" fill="#00ff00"/><rect x="780" y="382" width="3" height="59" fill="#00ff00"/><rect x="785" y="429" width="1" height="13" fill="#ff0000"/><rect x="784" y="437" width="3" height="4" fill="#ff0000"/><rect x="789" y="407" width="1" height="28" fill="#ff0000"/><rect x="788" y="411" width="3" height="23" fill="#ff0000"/><rect x="793" y="404" width="1" height="27" fill="#00ff00"/><rect x="792" y="411" width="3" height="19" fill="#00ff00"/><rect x="797" y="410" width="1" height="29" fill="#00ff00"/><rect x="796" y="428" width="3" height="7" fill="#00ff00"/><rect x="801" y="421" width="1" height="50" fill="#00ff00"/><rect x="800" y="433" width="3" height="36" fill="#00ff00"/><rect x="805" y="460" width="1" height="13" fill="#00ff00"/><rect x="804" y="465" width="3" height="5" fill="#00ff00"/><rect x="809" y="462" width="1" height="16" fill="#00ff00"/><rect x="808" y="467" width="3" height="10" fill="#00ff00"/><rect x="813" y="468" width="1" height="23" fill="#00ff00"/><rect x="812" y="469" width="3" height="21" fill="#00ff00"/><rect x="817" y="474" width="1" height="34" fill="#00ff00"/><rect x="816" y="488" width="3" height="11" fill="#00ff00"/><rect x="821" y="485" width="1" height="18" fill="#ff0000"/><rect x="820" y="495" width="3" height="4" fill="#ff0000"/><rect x="825" y="492" width="1" height="27" fill="#00ff00"/><rect x="824" y="495" width="3" height="9" fill="#00ff00"/><rect x="829" y="501" width="1" height="14" fill="#00ff00"/><rect x="828" y="502" width="3" height="9" fill="#00ff00"/><rect x="833" y="505" width="1" height="10" fill="#00ff00"/><rect x="832" y="510" width="3" height="3" fill="#00ff00"/><rect x="837" y="501" width="1" height="19" fill="#ff0000"/><rect x="836" y="510" width="3" height="5" fill="#ff0000"/><rect x="841" y="500" width="1" height="25" fill="#ff0000"/><rect x="840" y="501" width="3" height="11" fill="#ff0000"/><rect x="845" y="436" width="1" height="69" fill="#ff0000"/><rect x="844" y="439" width="3" height="64" fill="#ff0000"/><rect x="849" y="423" width="1" height="46" fill="#00ff00"/><rect x="848" y="439" width="3" height="24" fill="#00ff00"/><rect x="853" y="430" width="1" height="34" fill="#ff0000"/><rect x="852" y="460" width="3" height="3" fill="#ff0000"/><rect x="857" y="456" width="1" height="9" fill="#ff0000"/><rect x="856" y="461" width="3" height="3" fill="#ff0000"/><rect x="861" y="452" width="1" height="20" fill="#ff0000"/><rect x="860" y="462" width="3" height="5" fill="#ff0000"/><rect x="865" y="451" width="1" height="30" fill="#ff0000"/><rect x="864" y="453" width="3" height="12" fill="#ff0000"/><rect x="869" y="437" width="1" height="30" fill="#ff0000"/><rect x="868" y="441" width="3" height="15" fill="#ff0000"/><rect x="873" y="429" width="1" height="18" fill="#00ff00"/><rect x="872" y="440" width="3" height="5" fill="#00ff00"/><rect x="877" y="405" width="1" height="40" fill="#ff0000"/><rect x="876" y="419" width="3" height="25" fill="#ff0000"/><rect x="881" y="410" width="1" height="11" fill="#ff0000"/><rect x="880" y="411" width="3" height="10" fill="#ff0000"/><rect x="885" y="407" width="1" height="14" fill="#00ff00"/><rect x="884" y="412" width="3" height="8" fill="#00ff00"/><rect x="889" y="393" width="1" height="28" fill="#ff0000"/><rect x="888" y="409" width="3" height="11" fill="#ff0000"/><rect x="893" y="386" width="1" height="34" fill="#ff0000"/><rect x="892" y="402" width="3" height="9" fill="#ff0000"/><rect x="897" y="385" width="1" height="20" fill="#ff0000"/><rect x="896" y="395" width="3" height="9" fill="#ff0000"/><rect x="901" y="389" width="1" height="29" fill="#00ff00"/><rect x="900" y="393" width="3" height="24" fill="#00ff00"/><rect x="905" y="405" width="1" height="15" fill="#ff0000"/><rect x="904" y="408" width="3" height="9" fill="#ff0000"/><rect x="909" y="409" width="1" height="15" fill="#00ff00"/><rect x="908" y="414" width="3" height="7" fill="#00ff00"/><rect x="913" y="410" width="1" height="25" fill="#ff0000"/><rect x="912" y="411" width="3" height="10" fill="#ff0000"/><rect x="917" y="358" width="1" height="58" fill="#ff0000"/><rect x="916" y="370" width="3" height="45" fill="#ff0000"/><rect x="921" y="351" width="1" height="37" fill="#00ff00"/><rect x="920" y="370" width="3" height="12" fill="#00ff00"/><rect x="925" y="370" width="1" height="27" fill="#ff0000"/><rect x="924" y="375" width="3" height="9" fill="#ff0000"/><rect x="929" y="369" width="1" height="8" fill="#ff0000"/><rect x="928" y="371" width="3" height="6" fill="#ff0000"/><rect x="933" y="358" width="1" height="15" fill="#ff0000"/><rect x="932" y="360" width="3" height="13" fill="#ff0000"/><rect x="937" y="356" width="1" height="18" fill="#00ff00"/><rect x="936" y="359" width="3" height="15" fill="#00ff00"/><rect x="941" y="371" width="1" height="22" fill="#00ff00"/><rect x="940" y="372" width="3" height="6" fill="#00ff00"/><rect x="945" y="368" width="1" height="16" fill="#ff0000"/><rect x="944" y="374" width="3" height="5" fill="#ff0000"/><rect x="949" y="359" width="1" height="23" fill="#00ff00"/><rect x="948" y="374" width="3" height="7" fill="#00ff00"/><rect x="953" y="377" width="1" height="5" fill="#00ff00"/><rect x="952" y="378" width="3" height="3" fill="#00ff00"/><rect x="957" y="363" width="1" height="20" fill="#ff0000"/><rect x="956" y="363" width="3" height="17" fill="#ff0000"/><rect x="961" y="355" width="1" height="18" fill="#00ff00"/><rect x="960" y="363" width="3" height="9" fill="#00ff00"/><rect x="965" y="364" width="1" height="53" fill="#00ff00"/><rect x="964" y="370" width="3" height="38" fill="#00ff00"/><rect x="969" y="405" width="1" height="49" fill="#00ff00"/><rect x="968" y="407" width="3" height="33" fill="#00ff00"/><rect x="973" y="386" width="1" height="61" fill="#ff0000"/><rect x="972" y="388" width="3" height="51" fill="#ff0000"/><rect x="977" y="386" width="1" height="11" fill="#00ff00"/><rect x="976" y="388" width="3" height="7" fill="#00ff00"/><rect x="981" y="388" width="1" height="26" fill="#00ff00"/><rect x="980" y="394" width="3" height="16" fill="#00ff00"/><rect x="985" y="399" width="1" height="16" fill="#ff0000"/><rect x="984" y="409" width="3" height="4" fill="#ff0000"/><rect x="989" y="405" width="1" height="16" fill="#00ff00"/><rect x="988" y="408" width="3" height="11" fill="#00ff00"/><rect x="993" y="417" width="1" height="35" fill="#00ff00"/><rect x="992" y="418" width="3" height="16" fill="#00ff00"/><rect x="997" y="426" width="1" height="32" fill="#ff0000"/><rect x="996" y="427" width="3" height="7" fill="#ff0000"/><rect x="1001" y="426" width="1" height="13" fill="#00ff00"/><rect x="1000" y="428" width="3" height="10" fill="#00ff00"/><rect x="1005" y="435" width="1" height="45" fill="#00ff00"/><rect x="1004" y="440" width="3" height="19" fill="#00ff00"/><rect x="1009" y="438" width="1" height="29" fill="#ff0000"/><rect x="1008" y="454" width="3" height="5" fill="#ff0000"/><rect x="1013" y="442" width="1" height="40" fill="#00ff00"/><rect x="1012" y="454" width="3" height="27" fill="#00ff00"/><rect x="1017" y="465" width="1" height="23" fill="#ff0000"/><rect x="1016" y="470" width="3" height="11" fill="#ff0000"/><rect x="1021" y="439" width="1" height="40" fill="#ff0000"/><rect x="1020" y="448" width="3" height="23" fill="#ff0000"/><rect x="1025" y="443" width="1" height="9" fill="#ff0000"/><rect x="1024" y="445" width="3" height="5" fill="#ff0000"/><rect x="1029" y="442" width="1" height="23" fill="#ff0000"/><rect x="1028" y="445" width="3" height="15" fill="#ff0000"/><rect x="1033" y="443" width="1" height="24" fill="#00ff00"/><rect x="1032" y="444" width="3" height="10" fill="#00ff00"/><rect x="1037" y="446" width="1" height="13" fill="#ff0000"/><rect x="1036" y="450" width="3" height="6" fill="#ff0000"/><rect x="1041" y="449" width="1" height="34" fill="#00ff00"/><rect x="1040" y="451" width="3" height="26" fill="#00ff00"/><rect x="1045" y="468" width="1" height="37" fill="#00ff00"/><rect x="1044" y="475" width="3" height="21" fill="#00ff00"/><rect x="1049" y="493" width="1" height="19" fill="#00ff00"/><rect x="1048" y="494" width="3" height="13" fill="#00ff00"/><rect x="1053" y="497" width="1" height="20" fill="#00ff00"/><rect x="1052" y="498" width="3" height="18" fill="#00ff00"/><rect x="1057" y="508" width="1" height="66" fill="#00ff00"/><rect x="1056" y="515" width="3" height="54" fill="#00ff00"/><rect x="1061" y="555" width="1" height="25" fill="#ff0000"/><rect x="1060" y="558" width="3" height="11" fill="#ff0000"/><rect x="1065" y="544" width="1" height="24" fill="#00ff00"/><rect x="1064" y="558" width="3" height="4" fill="#00ff00"/><rect x="1069" y="545" width="1" height="29" fill="#ff0000"/><rect x="1068" y="560" width="3" height="3" fill="#ff0000"/><rect x="1073" y="552" width="1" height="11" fill="#ff0000"/><rect x="1072" y="556" width="3" height="4" fill="#ff0000"/><rect x="1077" y="554" width="1" height="17" fill="#00ff00"/><rect x="1076" y="556" width="3" height="10" fill="#00ff00"/><rect x="1081" y="531" width="1" height="44" fill="#ff0000"/><rect x="1080" y="539" width="3" height="27" fill="#ff0000"/><rect x="1085" y="523" width="1" height="42" fill="#ff0000"/><rect x="1084" y="526" width="3" height="16" fill="#ff0000"/><rect x="1089" y="485" width="1" height="44" fill="#ff0000"/><rect x="1088" y="490" width="3" height="38" fill="#ff0000"/><rect x="1093" y="488" width="1" height="44" fill="#00ff00"/><rect x="1092" y="490" width="3" height="29" fill="#00ff00"/><rect x="1097" y="511" width="1" height="13" fill="#ff0000"/><rect x="1096" y="512" width="3" height="7" fill="#ff0000"/><rect x="1101" y="508" width="1" height="24" fill="#00ff00"/><rect x="1100" y="515" width="3" height="4" fill="#00ff00"/><rect x="1105" y="500" width="1" height="23" fill="#ff0000"/><rect x="1104" y="508" width="3" height="11" fill="#ff0000"/><rect x="1109" y="501" width="1" height="23" fill="#00ff00"/><rect x="1108" y="508" width="3" height="14" fill="#00ff00"/><rect x="1113" y="515" width="1" height="16" fill="#00ff00"/><rect x="1112" y="520" width="3" height="4" fill="#00ff00"/><rect x="1117" y="508" width="1" height="22" fill="#ff0000"/><rect x="1116" y="513" width="3" height="11" fill="#ff0000"/><rect x="1121" y="503" width="1" height="13" fill="#ff0000"/><rect x="1120" y="510" width="3" height="5" fill="#ff0000"/><rect x="1125" y="505" width="1" height="13" fill="#00ff00"/><rect x="1124" y="511" width="3" height="5" fill="#00ff00"/><rect x="1129" y="502" width="1" height="22" fill="#ff0000"/><rect x="1128" y="510" width="3" height="5" fill="#ff0000"/><rect x="1133" y="462" width="1" height="67" fill="#ff0000"/><rect x="1132" y="477" width="3" height="35" fill="#ff0000"/><rect x="1137" y="445" width="1" height="44" fill="#ff0000"/><rect x="1136" y="459" width="3" height="19" fill="#ff0000"/><rect x="1141" y="455" width="1" height="24" fill="#00ff00"/><rect x="1140" y="461" width="3" height="6" fill="#00ff00"/><rect x="1145" y="456" width="1" height="11" fill="#ff0000"/><rect x="1144" y="464" width="3" height="3" fill="#ff0000"/><rect x="1149" y="428" width="1" height="35" fill="#ff0000"/><rect x="1148" y="441" width="3" height="22" fill="#ff0000"/><rect x="1153" y="424" width="1" height="22" fill="#ff0000"/><rect x="1152" y="438" width="3" height="5" fill="#ff0000"/><rect x="1157" y="423" width="1" height="35" fill="#ff0000"/><rect x="1156" y="425" width="3" height="15" fill="#ff0000"/><rect x="1161" y="412" width="1" height="17" fill="#ff0000"/><rect x="1160" y="413" width="3" height="14" fill="#ff0000"/><rect x="1165" y="401" width="1" height="34" fill="#ff0000"/><rect x="1164" y="412" width="3" height="3" fill="#ff0000"/><rect x="1169" y="396" width="1" height="22" fill="#ff0000"/><rect x="1168" y="408" width="3" height="6" fill="#ff0000"/><rect x="1173" y="385" width="1" height="24" fill="#ff0000"/><rect x="1172" y="389" width="3" height="19" fill="#ff0000"/><rect x="1177" y="367" width="1" height="25" fill="#ff0000"/><rect x="1176" y="379" width="3" height="12" fill="#ff0000"/><rect x="1181" y="367" width="1" height="15" fill="#ff0000"/><rect x="1180" y="371" width="3" height="10" fill="#ff0000"/><rect x="1185" y="362" width="1" height="20" fill="#ff0000"/><rect x="1184" y="369" width="3" height="4" fill="#ff0000"/><rect x="1189" y="355" width="1" height="26" fill="#ff0000"/><rect x="1188" y="367" width="3" height="4" fill="#ff0000"/><rect x="1193" y="360" width="1" height="11" fill="#00ff00"/><rect x="1192" y="364" width="3" height="6" fill="#00ff00"/><rect x="1197" y="350" width="1" height="26" fill="#ff0000"/><rect x="1196" y="356" width="3" height="11" fill="#ff0000"/><rect x="1201" y="351" width="1" height="32" fill="#00ff00"/><rect x="1200" y="355" width="3" height="21" fill="#00ff00"/><rect x="1205" y="366" width="1" height="32" fill="#00ff00"/><rect x="1204" y="367" width="3" height="25" fill="#00ff00"/><rect x="1209" y="385" width="1" height="23" fill="#00ff00"/><rect x="1208" y="392" width="3" height="4" fill="#00ff00"/><rect x="1213" y="385" width="1" height="23" fill="#ff0000"/><rect x="1212" y="393" width="3" height="3" fill="#ff0000"/><rect x="1217" y="391" width="1" height="14" fill="#00ff00"/><rect x="1216" y="392" width="3" height="6" fill="#00ff00"/><rect x="1221" y="397" width="1" height="18" fill="#00ff00"/><rect x="1220" y="400" width="3" height="6" fill="#00ff00"/><rect x="1225" y="380" width="1" height="34" fill="#ff0000"/><rect x="1224" y="395" width="3" height="11" fill="#ff0000"/><rect x="1229" y="390" width="1" height="29" fill="#00ff00"/><rect x="1228" y="394" width="3" height="13" fill="#00ff00"/><rect x="1233" y="388" width="1" height="33" fill="#00ff00"/><rect x="1232" y="404" width="3" height="6" fill="#00ff00"/><rect x="1237" y="386" width="1" height="35" fill="#00ff00"/><rect x="1236" y="409" width="3" height="6" fill="#00ff00"/><rect x="1241" y="412" width="1" height="17" fill="#00ff00"/><rect x="1240" y="414" width="3" height="10" fill="#00ff00"/><rect x="1245" y="363" width="1" height="38" fill="#ff0000"/><rect x="1244" y="387" width="3" height="10" fill="#ff0000"/><rect x="1249" y="364" width="1" height="27" fill="#ff0000"/><rect x="1248" y="376" width="3" height="14" fill="#ff0000"/><rect x="1253" y="363" width="1" height="26" fill="#ff0000"/><rect x="1252" y="366" width="3" height="12" fill="#ff0000"/><rect x="1257" y="322" width="1" height="48" fill="#ff0000"/><rect x="1256" y="333" width="3" height="34" fill="#ff0000"/><rect x="1261" y="268" width="1" height="69" fill="#ff0000"/><rect x="1260" y="294" width="3" height="41" fill="#ff0000"/><rect x="1265" y="280" width="1" height="30" fill="#00ff00"/><rect x="1264" y="294" width="3" height="13" fill="#00ff00"/><rect x="1269" y="285" width="1" height="74" fill="#00ff00"/><rect x="1268" y="286" width="3" height="30" fill="#00ff00"/><rect x="1273" y="309" width="1" height="48" fill="#00ff00"/><rect x="1272" y="315" width="3" height="32" fill="#00ff00"/><rect x="1277" y="297" width="1" height="56" fill="#ff0000"/><rect x="1276" y="309" width="3" height="38" fill="#ff0000"/><rect x="1281" y="287" width="1" height="33" fill="#ff0000"/><rect x="1280" y="307" width="3" height="4" fill="#ff0000"/><rect x="1285" y="283" width="1" height="38" fill="#ff0000"/><rect x="1284" y="291" width="3" height="18" fill="#ff0000"/><rect x="1289" y="284" width="1" height="14" fill="#00ff00"/><rect x="1288" y="291" width="3" height="2" fill="#00ff00"/><rect x="1293" y="91" width="1" height="147" fill="#00ff00"/><rect x="1292" y="176" width="3" height="56" fill="#00ff00"/><rect x="1297" y="68" width="1" height="164" fill="#ff0000"/><rect x="1296" y="79" width="3" height="153" fill="#ff0000"/><rect x="1301" y="71" width="1" height="68" fill="#00ff00"/><rect x="1300" y="79" width="3" height="18" fill="#00ff00"/><rect x="1305" y="53" width="1" height="56" fill="#ff0000"/><rect x="1304" y="62" width="3" height="35" fill="#ff0000"/>
<path d="M5.5 418v1M6.5 419v1M7.5 420v1M8.5 421v1M9.5 422v1M10.5 422v1M11.5 422v1M12.5 422v1M13.5 422v1M14.5 422v1M15.5 422v1M16.5 421v1M17.5 421v1M18.5 421v1M19.5 421v1M20.5 420v1M21.5 420v1M22.5 420v1M23.5 419v1M24.5 418v1M25.5 418v1M26.5 417v1M27.5 416v1M28.5 415v1M29.5 414v1M30.5 413v1M31.5 411v2M32.5 410v1M33.5 409v1M34.5 407v2M35.5 405v2M36.5 403v2M37.5 401v2M38.5 400v1M39.5 397v3M40.5 396v1M41.5 394v2M42.5 392v2M43.5 391v1M44.5 389v2M45.5 388v1M46.5 387v1M47.5 385v2M48.5 384v1M49.5 383v1M50.5 382v1M51.5 381v1M52.5 381v1M53.5 380v1M54.5 380v1M55.5 380v1M56.5 379v1M57.5 379v1M58.5 379v1M59.5 379v1M60.5 378v1M61.5 378v1M62.5 378v1M63.5 378v1M64.5 377v1M65.5 377v1M66.5 377v1M67.5 377v1M68.5 376v1M69.5 376v1M70.5 376v1M71.5 376v1M72.5 376v1M73.5 376v1M74.5 376v1M75.5 375v1M76.5 374v1M77.5 374v1M78.5 374v1M79.5 373v1M80.5 372v1M81.5 372v1M82.5 372v1M83.5 371v1M84.5 370v1M85.5 370v1M86.5 369v1M87.5 368v1M88.5 367v1M89.5 366v1M90.5 365v1M91.5 364v1M92.5 363v1M93.5 362v1M94.5 362v1M95.5 361v1M96.5 360v1M97.5 360v1M98.5 358v2M99.5 357v1M100.5 355v2M101.5 354v1M102.5 353v1M103.5 352v1M104.5 351v1M105.5 350v1M106.5 349v1M107.5 348v1M108.5 348v1M109.5 347v1M110.5 346v1M111.5 344v2M112.5 343v1M113.5 342v1M114.5 341v1M115.5 340v1M116.5 340v1M117.5 339v1M118.5 338v1M119.5 337v1M120.5 337v1M121.5 336v1M122.5 335v1M123.5 334v1M124.5 333v1M125.5 332v1M126.5 331v1M127.5 330v1M128.5 329v1M129.5 328v1M130.5 327v1M131.5 326v1M132.5 326v1M133.5 325v1M134.5 325v1M135.5 325v1M136.5 324v1M137.5 324v1M138.5 324v1M139.5 324v1M140.5 324v1M141.5 324v1M142.5 324v1M143.5 324v1M144.5 324v1M145.5 324v1M146.5 324v1M147.5 325v1M148.5 326v1M149.5 326v1M150.5 326v1M151.5 326v1M152.5 327v1M153.5 327v1M154.5 328v1M155.5 329v1M156.5 329v1M157.5 330v1M158.5 330v1M159.5 330v1M160.5 331v1M161.5 331v1M162.5 331v1M163.5 331v1M164.5 332v1M165.5 332v1M166.5 332v1M167.5 332v1M168.5 333v1M169.5 333v1M170.5 333v1M171.5 333v1M172.5 332v1M173.5 332v1M174.5 332v1M175.5 332v1M176.5 331v1M177.5 331v1M178.5 331v1M179.5 331v1M180.5 330v1M181.5 330v1M182.5 330v1M183.5 330v1M184.5 329v1M185.5 329v1M186.5 329v1M187.5 329v1M188.5 329v1M189.5 329v1M190.5 329v1M191.5 328v1M192.5 327v1M193.5 327v1M194.5 326v1M195.5 325v1M196.5 325v1M197.5 324v1M198.5 323v1M199.5 322v1M200.5 322v1M201.5 321v1M202.5 321v1M203.5 321v1M204.5 320v1M205.5 320v1M206.5 320v1M207.5 320v1M208.5 319v1M209.5 319v1M210.5 319v1M211.5 319v1M212.5 319v1M213.5 319v1M214.5 319v1M215.5 319v1M216.5 318v1M217.5 318v1M218.5 318v1M219.5 318v1M220.5 318v1M221.5 318v1M222.5 318v1M223.5 318v1M224.5 317v1M225.5 317v1M226.5 317v1M227.5 317v1M228.5 316v1M229.5 316v1M230.5 316v1M231.5 315v1M232.5 314v1M233.5 314v1M234.5 314v1M235.5 313v1M236.5 312v1M237.5 312v1M238.5 312v1M239.5 311v1M240.5 310v1M241.5 310v1M242.5 309v1M243.5 308v1M244.5 308v1M245.5 307v1M246.5 306v1M247.5 305v1M248.5 305v1M249.5 304v1M250.5 304v1M251.5 304v1M252.5 304v1M253.5 304v1M254.5 304v1M255.5 304v1M256.5 303v1M257.5 303v1M258.5 302v1M259.5 301v1M260.5 301v1M261.5 300v1M262.5 299v1M263.5 298v1M264.5 298v1M265.5 297v1M266.5 297v1M267.5 296v1M268.5 295v1M269.5 295v1M270.5 295v1M271.5 295v1M272.5 294v1M273.5 294v1M274.5 293v1M275.5 292v1M276.5 292v1M277.5 291v1M278.5 290v1M279.5 289v1M280.5 289v1M281.5 288v1M282.5 288v1M283.5 288v1M284.5 287v1M285.5 287v1M286.5 287v1M287.5 287v1M288.5 286v1M289.5 286v1M290.5 286v1M291.5 285v1M292.5 284v1M293.5 284v1M294.5 284v1M295.5 283v1M296.5 282v1M297.5 282v1M298.5 282v1M299.5 282v1M300.5 281v1M301.5 281v1M302.5 281v1M303.5 281v1M304.5 280v1M305.5 280v1M306.5 280v1M307.5 279v1M308.5 278v1M309.5 278v1M310.5 278v1M311.5 278v1M312.5 277v1M313.5 277v1M314.5 277v1M315.5 276v1M316.5 275v1M317.5 275v1M318.5 275v1M319.5 275v1M320.5 275v1M321.5 275v1M322.5 275v1M323.5 275v1M324.5 274v1M325.5 274v1M326.5 274v1M327.5 274v1M328.5 273v1M329.5 273v1M330.5 273v1M331.5 273v1M332.5 272v1M333.5 272v1M334.5 272v1M335.5 272v1M336.5 272v1M337.5 272v1M338.5 272v1M339.5 272v1M340.5 273v1M341.5 273v1M342.5 273v1M343.5 273v1M344.5 274v1M345.5 274v1M346.5 275v1M347.5 276v1M348.5 276v1M349.5 277v1M350.5 278v1M351.5 279v1M352.5 280v1M353.5 281v1M354.5 282v1M355.5 283v1M356.5 283v1M357.5 284v1M358.5 285v1M359.5 286v1M360.5 287v1M361.5 288v1M362.5 289v1M363.5 290v1M364.5 290v1M365.5 291v1M366.5 292v1M367.5 293v1M368.5 293v1M369.5 294v1M370.5 294v1M371.5 294v1M372.5 295v1M373.5 295v1M374.5 295v1M375.5 295v1M376.5 295v1M377.5 295v1M378.5 295v1M379.5 296v1M380.5 297v1M381.5 297v1M382.5 297v1M383.5 297v1M384.5 298v1M385.5 298v1M386.5 298v1M387.5 298v1M388.5 299v1M389.5 299v1M390.5 300v1M391.5 301v2M392.5 303v1M393.5 304v1M394.5 305v1M395.5 306v2M396.5 308v1M397.5 309v1M398.5 310v1M399.5 311v2M400.5 313v1M401.5 314v1M402.5 315v1M403.5 316v2M404.5 318v1M405.5 319v1M406.5 320v1M407.5 321v2M408.5 323v1M409.5 324v1M410.5 325v2M411.5 327v1M412.5 328v2M413.5 330v1M414.5 331v2M415.5 333v2M416.5 335v2M417.5 337v2M418.5 339v1M419.5 340v3M420.5 343v1M421.5 344v2M422.5 346v2M423.5 348v2M424.5 350v2M425.5 352v1M426.5 353v2M427.5 355v1M428.5 356v2M429.5 358v1M430.5 359v2M431.5 361v2M432.5 363v2M433.5 365v2M434.5 367v2M435.5 369v3M436.5 372v2M437.5 374v3M438.5 377v2M439.5 379v2M440.5 381v2M441.5 383v3M442.5 386v1M443.5 387v3M444.5 390v1M445.5 391v3M446.5 394v2M447.5 396v2M448.5 398v2M449.5 400v3M450.5 403v1M451.5 404v3M452.5 407v1M453.5 408v2M454.5 410v2M455.5 412v1M456.5 413v2M457.5 415v1M458.5 416v2M459.5 418v1M460.5 419v2M461.5 421v1M462.5 422v2M463.5 424v1M464.5 425v2M465.5 427v1M466.5 428v1M467.5 429v2M468.5 431v1M469.5 432v1M470.5 433v1M471.5 434v2M472.5 436v1M473.5 437v1M474.5 438v1M475.5 439v1M476.5 440v1M477.5 441v1M478.5 442v1M479.5 443v2M480.5 445v1M481.5 446v1M482.5 447v2M483.5 449v1M484.5 450v2M485.5 452v1M486.5 453v1M487.5 454v1M488.5 455v1M489.5 456v1M490.5 457v2M491.5 459v2M492.5 461v2M493.5 463v1M494.5 464v2M495.5 466v2M496.5 468v2M497.5 470v1M498.5 471v1M499.5 472v2M500.5 474v1M501.5 475v1M502.5 476v1M503.5 477v2M504.5 479v1M505.5 480v1M506.5 481v1M507.5 482v2M508.5 484v1M509.5 485v1M510.5 485v1M511.5 485v1M512.5 486v1M513.5 486v1M514.5 486v1M515.5 486v1M516.5 487v1M517.5 487v1M518.5 487v1M519.5 487v1M520.5 488v1M521.5 488v1M522.5 488v1M523.5 488v1M524.5 489v1M525.5 489v1M526.5 489v1M527.5 489v1M528.5 489v1M529.5 489v1M530.5 489v1M531.5 489v1M532.5 488v1M533.5 488v1M534.5 488v1M535.5 487v1M536.5 486v1M537.5 486v1M538.5 485v1M539.5 484v1M540.5 484v1M541.5 483v1M542.5 483v1M543.5 482v1M544.5 481v1M545.5 481v1M546.5 481v1M547.5 480v1M548.5 479v1M549.5 479v1M550.5 479v1M551.5 478v1M552.5 477v1M553.5 477v1M554.5 475v2M555.5 474v1M556.5 472v2M557.5 471v1M558.5 470v1M559.5 469v1M560.5 469v1M561.5 468v1M562.5 467v1M563.5 466v1M564.5 466v1M565.5 465v1M566.5 464v1M567.5 463v1M568.5 463v1M569.5 462v1M570.5 462v1M571.5 461v1M572.5 460v1M573.5 460v1M574.5 460v1M575.5 459v1M576.5 458v1M577.5 458v1M578.5 457v1M579.5 455v2M580.5 454v1M581.5 453v1M582.5 452v1M583.5 450v2M584.5 449v1M585.5 448v1M586.5 447v1M587.5 445v2M588.5 444v1M589.5 443v1M590.5 442v1M591.5 440v2M592.5 439v1M593.5 438v1M594.5 437v1M595.5 435v2M596.5 434v1M597.5 433v1M598.5 431v2M599.5 430v1M600.5 428v2M601.5 427v1M602.5 426v1M603.5 424v2M604.5 423v1M605.5 422v1M606.5 421v1M607.5 420v1M608.5 419v1M609.5 418v1M610.5 417v1M611.5 415v2M612.5 414v1M613.5 413v1M614.5 412v1M615.5 411v1M616.5 410v1M617.5 409v1M618.5 408v1M619.5 407v1M620.5 406v1M621.5 405v1M622.5 405v1M623.5 404v1M624.5 403v1M625.5 403v1M626.5 402v1M627.5 401v1M628.5 400v1M629.5 399v1M630.5 398v1M631.5 397v1M632.5 397v1M633.5 396v1M634.5 396v1M635.5 395v1M636.5 394v1M637.5 394v1M638.5 393v1M639.5 392v1M640.5 392v1M641.5 391v1M642.5 390v1M643.5 389v1M644.5 388v1M645.5 387v1M646.5 386v1M647.5 385v1M648.5 385v1M649.5 384v1M650.5 384v1M651.5 383v1M652.5 382v1M653.5 382v1M654.5 382v1M655.5 382v1M656.5 381v1M657.5 381v1M658.5 381v1M659.5 381v1M660.5 382v1M661.5 382v1M662.5 382v1M663.5 382v1M664.5 383v1M665.5 383v1M666.5 383v1M667.5 383v1M668.5 384v1M669.5 384v1M670.5 384v1M671.5 385v1M672.5 386v1M673.5 386v1M674.5 387v1M675.5 388v1M676.5 388v1M677.5 389v1M678.5 389v1M679.5 389v1M680.5 390v1M681.5 390v1M682.5 390v1M683.5 390v1M684.5 389v1M685.5 389v1M686.5 389v1M687.5 389v1M688.5 388v1M689.5 388v1M690.5 388v1M691.5 388v1M692.5 387v1M693.5 387v1M694.5 387v1M695.5 387v1M696.5 386v1M697.5 386v1M698.5 386v1M699.5 386v1M700.5 387v1M701.5 387v1M702.5 387v1M703.5 387v1M704.5 388v1M705.5 388v1M706.5 388v1M707.5 388v1M708.5 389v1M709.5 389v1M710.5 389v1M711.5 389v1M712.5 388v1M713.5 388v1M714.5 388v1M715.5 388v1M716.5 389v1M717.5 389v1M718.5 389v1M719.5 390v1M720.5 391v1M721.5 391v1M722.5 391v1M723.5 391v1M724.5 391v1M725.5 391v1M726.5 391v1M727.5 391v1M728.5 392v1M729.5 392v1M730.5 392v1M731.5 392v1M732.5 393v1M733.5 393v1M734.5 393v1M735.5 393v1M736.5 394v1M737.5 394v1M738.5 394v1M739.5 394v1M740.5 395v1M741.5 395v1M742.5 395v1M743.5 395v1M744.5 396v1M745.5 396v1M746.5 396v1M747.5 396v1M748.5 395v1M749.5 395v1M750.5 395v1M751.5 395v1M752.5 395v1M753.5 395v1M754.5 395v1M755.5 395v1M756.5 394v1M757.5 394v1M758.5 394v1M759.5 394v1M760.5 394v1M761.5 394v1M762.5 394v1M763.5 394v1M764.5 394v1M765.5 394v1M766.5 394v1M767.5 394v1M768.5 394v1M769.5 394v1M770.5 394v1M771.5 394v1M772.5 393v1M773.5 393v1M774.5 393v1M775.5 393v1M776.5 392v1M777.5 392v1M778.5 392v1M779.5 392v1M780.5 392v1M781.5 392v1M782.5 392v1M783.5 392v1M784.5 392v1M785.5 392v1M786.5 392v1M787.5 391v1M788.5 390v1M789.5 390v1M790.5 390v1M791.5 390v1M792.5 389v1M793.5 389v1M794.5 389v1M795.5 389v1M796.5 389v1M797.5 389v1M798.5 389v1M799.5 390v1M800.5 391v1M801.5 391v1M802.5 391v1M803.5 392v1M804.5 393v1M805.5 393v1M806.5 394v1M807.5 395v1M808.5 396v1M809.5 397v1M810.5 398v1M811.5 399v1M812.5 399v1M813.5 400v1M814.5 401v1M815.5 402v1M816.5 402v1M817.5 403v1M818.5 404v1M819.5 405v1M820.5 406v1M821.5 407v1M822.5 408v1M823.5 409v1M824.5 410v1M825.5 411v1M826.5 412v1M827.5 413v1M828.5 414v1M829.5 415v1M830.5 416v1M831.5 417v2M832.5 419v1M833.5 420v1M834.5 421v1M835.5 422v1M836.5 423v1M837.5 424v1M838.5 425v1M839.5 426v1M840.5 426v1M841.5 427v1M842.5 427v1M843.5 428v1M844.5 429v1M845.5 429v1M846.5 430v1M847.5 431v1M848.5 431v1M849.5 432v1M850.5 432v1M851.5 433v1M852.5 434v1M853.5 434v1M854.5 434v1M855.5 435v1M856.5 436v1M857.5 436v1M858.5 436v1M859.5 437v1M860.5 438v1M861.5 438v1M862.5 438v1M863.5 438v1M864.5 439v1M865.5 439v1M866.5 440v1M867.5 441v1M868.5 441v1M869.5 442v1M870.5 443v1M871.5 444v1M872.5 444v1M873.5 445v1M874.5 446v1M875.5 447v1M876.5 447v1M877.5 448v1M878.5 448v1M879.5 448v1M880.5 449v1M881.5 449v1M882.5 449v1M883.5 450v1M884.5 451v1M885.5 451v1M886.5 451v1M887.5 452v1M888.5 453v1M889.5 453v1M890.5 453v1M891.5 454v1M892.5 455v1M893.5 455v1M894.5 455v1M895.5 455v1M896.5 455v1M897.5 455v1M898.5 455v1M899.5 455v1M900.5 454v1M901.5 454v1M902.5 454v1M903.5 454v1M904.5 454v1M905.5 454v1M906.5 454v1M907.5 454v1M908.5 454v1M909.5 454v1M910.5 454v1M911.5 454v1M912.5 453v1M913.5 453v1M914.5 453v1M915.5 452v1M916.5 451v1M917.5 451v1M918.5 450v1M919.5 449v1M920.5 449v1M921.5 448v1M922.5 447v1M923.5 446v1M924.5 446v1M925.5 445v1M926.5 444v1M927.5 443v1M928.5 443v1M929.5 442v1M930.5 441v1M931.5 439v2M932.5 438v1M933.5 437v1M934.5 436v1M935.5 435v1M936.5 434v1M937.5 433v1M938.5 432v1M939.5 431v1M940.5 430v1M941.5 429v1M942.5 428v1M943.5 427v1M944.5 426v1M945.5 425v1M946.5 424v1M947.5 423v1M948.5 422v1M949.5 421v1M950.5 420v1M951.5 418v2M952.5 417v1M953.5 416v1M954.5 415v1M955.5 413v2M956.5 412v1M957.5 411v1M958.5 410v1M959.5 409v1M960.5 408v1M961.5 407v1M962.5 407v1M963.5 407v1M964.5 406v1M965.5 406v1M966.5 406v1M967.5 406v1M968.5 405v1M969.5 405v1M970.5 405v1M971.5 404v1M972.5 403v1M973.5 403v1M974.5 402v1M975.5 401v1M976.5 401v1M977.5 400v1M978.5 400v1M979.5 400v1M980.5 399v1M981.5 399v1M982.5 399v1M983.5 398v1M984.5 397v1M985.5 397v1M986.5 397v1M987.5 397v1M988.5 396v1M989.5 396v1M990.5 396v1M991.5 396v1M992.5 396v1M993.5 396v1M994.5 396v1M995.5 396v1M996.5 396v1M997.5 396v1M998.5 396v1M999.5 396v1M1000.5 397v1M1001.5 397v1M1002.5 397v1M1003.5 397v1M1004.5 398v1M1005.5 398v1M1006.5 398v1M1007.5 399v1M1008.5 400v1M1009.5 400v1M1010.5 401v1M1011.5 402v1M1012.5 402v1M1013.5 403v1M1014.5 403v1M1015.5 404v1M1016.5 405v1M1017.5 405v1M1018.5 405v1M1019.5 405v1M1020.5 406v1M1021.5 406v1M1022.5 406v1M1023.5 406v1M1024.5 407v1M1025.5 407v1M1026.5 407v1M1027.5 407v1M1028.5 408v1M1029.5 408v1M1030.5 408v1M1031.5 409v1M1032.5 410v1M1033.5 410v1M1034.5 410v1M1035.5 411v1M1036.5 412v1M1037.5 412v1M1038.5 413v1M1039.5 414v1M1040.5 414v1M1041.5 415v1M1042.5 416v1M1043.5 417v1M1044.5 418v1M1045.5 419v1M1046.5 420v1M1047.5 421v2M1048.5 423v1M1049.5 424v1M1050.5 425v1M1051.5 426v2M1052.5 428v1M1053.5 429v1M1054.5 430v2M1055.5 432v2M1056.5 434v2M1057.5 436v1M1058.5 437v2M1059.5 439v1M1060.5 440v2M1061.5 442v1M1062.5 443v2M1063.5 445v1M1064.5 446v2M1065.5 448v1M1066.5 449v2M1067.5 451v1M1068.5 452v2M1069.5 454v1M1070.5 455v2M1071.5 457v1M1072.5 458v2M1073.5 460v1M1074.5 461v2M1075.5 463v1M1076.5 464v2M1077.5 466v1M1078.5 467v2M1079.5 469v1M1080.5 470v2M1081.5 472v1M1082.5 473v1M1083.5 474v1M1084.5 475v1M1085.5 476v1M1086.5 476v1M1087.5 477v1M1088.5 478v1M1089.5 478v1M1090.5 479v1M1091.5 480v1M1092.5 481v1M1093.5 482v1M1094.5 483v1M1095.5 484v1M1096.5 485v1M1097.5 486v1M1098.5 487v1M1099.5 488v1M1100.5 489v1M1101.5 490v1M1102.5 491v1M1103.5 492v1M1104.5 492v1M1105.5 493v1M1106.5 494v1M1107.5 495v1M1108.5 495v1M1109.5 496v1M1110.5 497v1M1111.5 498v1M1112.5 498v1M1113.5 499v1M1114.5 500v1M1115.5 501v1M1116.5 501v1M1117.5 502v1M1118.5 503v1M1119.5 504v1M1120.5 504v1M1121.5 505v1M1122.5 505v1M1123.5 506v1M1124.5 507v1M1125.5 507v1M1126.5 507v1M1127.5 507v1M1128.5 508v1M1129.5 508v1M1130.5 508v1M1131.5 508v1M1132.5 508v1M1133.5 508v1M1134.5 508v1M1135.5 508v1M1136.5 508v1M1137.5 508v1M1138.5 508v1M1139.5 508v1M1140.5 509v1M1141.5 509v1M1142.5 509v1M1143.5 509v1M1144.5 509v1M1145.5 509v1M1146.5 509v1M1147.5 509v1M1148.5 509v1M1149.5 509v1M1150.5 509v1M1151.5 509v1M1152.5 509v1M1153.5 509v1M1154.5 509v1M1155.5 509v1M1156.5 508v1M1157.5 508v1M1158.5 508v1M1159.5 507v1M1160.5 506v1M1161.5 506v1M1162.5 505v1M1163.5 504v1M1164.5 504v1M1165.5 503v1M1166.5 502v1M1167.5 501v1M1168.5 501v1M1169.5 500v1M1170.5 499v1M1171.5 497v2M1172.5 496v1M1173.5 495v1M1174.5 493v2M1175.5 492v1M1176.5 490v2M1177.5 489v1M1178.5 487v2M1179.5 486v1M1180.5 484v2M1181.5 483v1M1182.5 481v2M1183.5 479v2M1184.5 477v2M1185.5 476v1M1186.5 474v2M1187.5 473v1M1188.5 471v2M1189.5 470v1M1190.5 468v2M1191.5 467v1M1192.5 465v2M1193.5 464v1M1194.5 462v2M1195.5 460v2M1196.5 458v2M1197.5 457v1M1198.5 455v2M1199.5 454v1M1200.5 452v2M1201.5 451v1M1202.5 450v1M1203.5 449v1M1204.5 448v1M1205.5 447v1M1206.5 446v1M1207.5 445v1M1208.5 445v1M1209.5 444v1M1210.5 443v1M1211.5 442v1M1212.5 441v1M1213.5 440v1M1214.5 439v1M1215.5 438v1M1216.5 437v1M1217.5 436v1M1218.5 435v1M1219.5 434v1M1220.5 433v1M1221.5 432v1M1222.5 431v1M1223.5 430v1M1224.5 429v1M1225.5 428v1M1226.5 427v1M1227.5 426v1M1228.5 425v1M1229.5 424v1M1230.5 423v1M1231.5 422v1M1232.5 422v1M1233.5 421v1M1234.5 420v1M1235.5 419v1M1236.5 418v1M1237.5 417v1M1238.5 416v1M1239.5 415v1M1240.5 415v1M1241.5 414v1M1242.5 413v1M1243.5 412v1M1244.5 411v1M1245.5 410v1M1246.5 409v1M1247.5 408v1M1248.5 407v1M1249.5 406v1M1250.5 405v1M1251.5 404v1M1252.5 403v1M1253.5 402v1M1254.5 401v1M1255.5 400v1M1256.5 399v1M1257.5 398v1M1258.5 396v2M1259.5 395v1M1260.5 393v2M1261.5 392v1M1262.5 391v1M1263.5 389v2M1264.5 388v1M1265.5 387v1M1266.5 386v1M1267.5 385v1M1268.5 384v1M1269.5 383v1M1270.5 382v1M1271.5 381v1M1272.5 380v1M1273.5 379v1M1274.5 378v1M1275.5 377v1M1276.5 377v1M1277.5 376v1M1278.5 375v1M1279.5 374v1M1280.5 373v1M1281.5 372v1M1282.5 371v1M1283.5 370v1M1284.5 369v1M1285.5 368v1M1286.5 367v1M1287.5 366v1M1288.5 365v1M1289.5 364v1M1290.5 363v1M1291.5 361v2M1292.5 360v1M1293.5 358v2M1294.5 356v2M1295.5 353v3M1296.5 351v2M1297.5 348v3M1298.5 346v2M1299.5 344v2M1300.5 342v2M1301.5 339v3M1302.5 337v2M1303.5 334v3M1304.5 332v2M1305.5 330v2" stroke="#0000cd" stroke-width="1" fill="none"/>
<path d="M5.5 419v1M6.5 420v1M7.5 421v1M8.5 422v1M9.5 423v1M10.5 423v1M11.5 423v1M12.5 422v1M13.5 422v1M14.5 422v1M15.5 422v1M16.5 422v1M17.5 422v1M18.5 422v1M19.5 421v1M20.5 420v1M21.5 420v1M22.5 419v1M23.5 418v1M24.5 417v1M25.5 415v2M26.5 414v1M27.5 411v3M28.5 410v1M29.5 407v3M30.5 406v1M31.5 403v3M32.5 402v1M33.5 399v3M34.5 396v3M35.5 393v3M36.5 390v3M37.5 387v3M38.5 385v2M39.5 383v2M40.5 381v2M41.5 378v3M42.5 376v2M43.5 373v3M44.5 371v2M45.5 368v3M46.5 365v3M47.5 363v2M48.5 360v3M49.5 358v2M50.5 356v2M51.5 355v1M52.5 353v2M53.5 352v1M54.5 351v1M55.5 349v2M56.5 348v1M57.5 346v2M58.5 345v1M59.5 342v3M60.5 341v1M61.5 338v3M62.5 337v1M63.5 334v3M64.5 333v1M65.5 331v2M66.5 330v1M67.5 329v1M68.5 328v1M69.5 327v1M70.5 327v1M71.5 327v1M72.5 327v1M73.5 327v1M74.5 327v1M75.5 327v1M76.5 327v1M77.5 327v1M78.5 327v1M79.5 327v1M80.5 326v1M81.5 326v1M82.5 326v1M83.5 326v1M84.5 327v1M85.5 327v1M86.5 327v1M87.5 327v1M88.5 328v1M89.5 328v1M90.5 328v1M91.5 328v1M92.5 328v1M93.5 328v1M94.5 328v1M95.5 328v1M96.5 329v1M97.5 329v1M98.5 329v1M99.5 329v1M100.5 329v1M101.5 329v1M102.5 329v1M103.5 328v1M104.5 327v1M105.5 327v1M106.5 327v1M107.5 326v1M108.5 325v1M109.5 325v1M110.5 325v1M111.5 325v1M112.5 324v1M113.5 324v1M114.5 324v1M115.5 324v1M116.5 323v1M117.5 323v1M118.5 323v1M119.5 323v1M120.5 323v1M121.5 323v1M122.5 323v1M123.5 323v1M124.5 324v1M125.5 324v1M126.5 323v1M127.5 322v1M128.5 322v1M129.5 321v1M130.5 321v1M131.5 320v1M132.5 319v1M133.5 319v1M134.5 319v1M135.5 319v1M136.5 318v1M137.5 318v1M138.5 319v1M139.5 320v1M140.5 321v1M141.5 322v1M142.5 323v1M143.5 324v1M144.5 325v1M145.5 326v1M146.5 327v1M147.5 328v1M148.5 329v1M149.5 330v1M150.5 330v1M151.5 330v1M152.5 331v1M153.5 331v1M154.5 332v1M155.5 333v1M156.5 334v1M157.5 335v1M158.5 336v1M159.5 337v1M160.5 338v1M161.5 339v1M162.5 339v1M163.5 339v1M164.5 338v1M165.5 338v1M166.5 338v1M167.5 338v1M168.5 338v1M169.5 338v1M170.5 338v1M171.5 338v1M172.5 338v1M173.5 338v1M174.5 338v1M175.5 338v1M176.5 337v1M177.5 337v1M178.5 337v1M179.5 336v1M180.5 335v1M181.5 335v1M182.5 335v1M183.5 335v1M184.5 334v1M185.5 334v1M186.5 334v1M187.5 334v1M188.5 335v1M189.5 335v1M190.5 335v1M191.5 335v1M192.5 334v1M193.5 334v1M194.5 332v2M195.5 330v2M196.5 328v2M197.5 327v1M198.5 325v2M199.5 323v2M200.5 321v2M201.5 320v1M202.5 318v2M203.5 317v1M204.5 315v2M205.5 314v1M206.5 313v1M207.5 312v1M208.5 311v1M209.5 310v1M210.5 309v1M211.5 307v2M212.5 306v1M213.5 305v1M214.5 304v1M215.5 303v1M216.5 302v1M217.5 301v1M218.5 301v1M219.5 300v1M220.5 299v1M221.5 299v1M222.5 298v1M223.5 296v2M224.5 295v1M225.5 294v1M226.5 293v1M227.5 292v1M228.5 291v1M229.5 290v1M230.5 290v1M231.5 289v1M232.5 288v1M233.5 288v1M234.5 287v1M235.5 286v1M236.5 286v1M237.5 285v1M238.5 284v1M239.5 283v1M240.5 282v1M241.5 281v1M242.5 280v1M243.5 279v1M244.5 278v1M245.5 277v1M246.5 276v1M247.5 275v1M248.5 275v1M249.5 274v1M250.5 274v1M251.5 275v1M252.5 276v1M253.5 276v1M254.5 277v1M255.5 278v1M256.5 278v1M257.5 279v1M258.5 279v1M259.5 279v1M260.5 278v1M261.5 278v1M262.5 278v1M263.5 278v1M264.5 278v1M265.5 278v1M266.5 278v1M267.5 278v1M268.5 279v1M269.5 279v1M270.5 279v1M271.5 279v1M272.5 278v1M273.5 278v1M274.5 278v1M275.5 277v1M276.5 276v1M277.5 276v1M278.5 276v1M279.5 276v1M280.5 277v1M281.5 277v1M282.5 277v1M283.5 277v1M284.5 277v1M285.5 277v1M286.5 277v1M287.5 277v1M288.5 277v1M289.5 277v1M290.5 277v1M291.5 277v1M292.5 278v1M293.5 278v1M294.5 278v1M295.5 278v1M296.5 278v1M297.5 278v1M298.5 278v1M299.5 278v1M300.5 278v1M301.5 278v1M302.5 278v1M303.5 279v1M304.5 280v1M305.5 280v1M306.5 280v1M307.5 280v1M308.5 280v1M309.5 280v1M310.5 280v1M311.5 279v1M312.5 278v1M313.5 278v1M314.5 277v1M315.5 276v1M316.5 276v1M317.5 275v1M318.5 275v1M319.5 274v1M320.5 273v1M321.5 273v1M322.5 272v1M323.5 271v1M324.5 270v1M325.5 269v1M326.5 268v1M327.5 267v1M328.5 266v1M329.5 265v1M330.5 265v1M331.5 265v1M332.5 266v1M333.5 266v1M334.5 266v1M335.5 266v1M336.5 267v1M337.5 267v1M338.5 267v1M339.5 267v1M340.5 268v1M341.5 268v1M342.5 268v1M343.5 269v1M344.5 270v1M345.5 270v1M346.5 271v2M347.5 273v1M348.5 274v2M349.5 276v2M350.5 278v1M351.5 279v3M352.5 282v1M353.5 283v3M354.5 286v2M355.5 288v2M356.5 290v2M357.5 292v2M358.5 294v2M359.5 296v1M360.5 297v2M361.5 299v1M362.5 300v2M363.5 302v1M364.5 303v2M365.5 305v1M366.5 306v2M367.5 308v1M368.5 309v2M369.5 311v1M370.5 312v2M371.5 314v2M372.5 316v2M373.5 318v1M374.5 319v1M375.5 320v1M376.5 320v1M377.5 321v1M378.5 322v2M379.5 324v1M380.5 325v2M381.5 327v1M382.5 328v1M383.5 329v2M384.5 331v1M385.5 332v1M386.5 333v1M387.5 334v2M388.5 336v1M389.5 337v2M390.5 339v2M391.5 341v2M392.5 343v2M393.5 345v3M394.5 348v1M395.5 349v3M396.5 352v1M397.5 353v2M398.5 355v2M399.5 357v2M400.5 359v2M401.5 361v1M402.5 362v1M403.5 363v1M404.5 364v1M405.5 365v1M406.5 366v1M407.5 367v2M408.5 369v1M409.5 370v1M410.5 371v2M411.5 373v1M412.5 374v2M413.5 376v2M414.5 378v1M415.5 379v3M416.5 382v1M417.5 383v3M418.5 386v2M419.5 388v2M420.5 390v2M421.5 392v3M422.5 395v3M423.5 398v2M424.5 400v3M425.5 403v3M426.5 406v3M427.5 409v2M428.5 411v3M429.5 414v3M430.5 417v3M431.5 420v4M432.5 424v3M433.5 427v3M434.5 430v4M435.5 434v3M436.5 437v4M437.5 441v3M438.5 444v4M439.5 448v4M440.5 452v4M441.5 456v3M442.5 459v3M443.5 462v2M444.5 464v3M445.5 467v2M446.5 469v2M447.5 471v1M448.5 472v2M449.5 474v1M450.5 475v1M451.5 476v2M452.5 478v1M453.5 479v1M454.5 480v1M455.5 481v1M456.5 482v1M457.5 483v1M458.5 484v1M459.5 485v1M460.5 486v1M461.5 487v1M462.5 488v1M463.5 489v1M464.5 490v1M465.5 491v1M466.5 492v1M467.5 493v1M468.5 493v1M469.5 494v1M470.5 495v1M471.5 496v1M472.5 497v1M473.5 498v1M474.5 498v1M475.5 499v1M476.5 500v1M477.5 500v1M478.5 500v1M479.5 501v1M480.5 502v1M481.5 502v1M482.5 503v1M483.5 504v1M484.5 504v1M485.5 505v1M486.5 505v1M487.5 505v1M488.5 506v1M489.5 506v1M490.5 506v1M491.5 506v1M492.5 506v1M493.5 506v1M494.5 506v1M495.5 506v1M496.5 505v1M497.5 505v1M498.5 505v1M499.5 505v1M500.5 505v1M501.5 505v1M502.5 504v1M503.5 503v1M504.5 503v1M505.5 502v1M506.5 502v1M507.5 501v1M508.5 500v1M509.5 500v1M510.5 500v1M511.5 500v1M512.5 499v1M513.5 499v1M514.5 498v1M515.5 497v1M516.5 497v1M517.5 496v1M518.5 495v1M519.5 493v2M520.5 492v1M521.5 491v1M522.5 490v1M523.5 489v1M524.5 488v1M525.5 487v1M526.5 485v2M527.5 484v1M528.5 482v2M529.5 481v1M530.5 480v1M531.5 478v2M532.5 477v1M533.5 476v1M534.5 474v2M535.5 472v2M536.5 470v2M537.5 468v2M538.5 467v1M539.5 464v3M540.5 463v1M541.5 461v2M542.5 460v1M543.5 458v2M544.5 457v1M545.5 456v1M546.5 455v1M547.5 453v2M548.5 452v1M549.5 450v2M550.5 449v1M551.5 446v3M552.5 445v1M553.5 442v3M554.5 440v2M555.5 438v2M556.5 436v2M557.5 434v2M558.5 433v1M559.5 432v1M560.5 431v1M561.5 430v1M562.5 429v1M563.5 428v1M564.5 427v1M565.5 426v1M566.5 425v1M567.5 424v1M568.5 423v1M569.5 422v1M570.5 422v1M571.5 421v1M572.5 420v1M573.5 420v1M574.5 420v1M575.5 419v1M576.5 418v1M577.5 418v1M578.5 416v2M579.5 414v2M580.5 412v2M581.5 411v1M582.5 409v2M583.5 407v2M584.5 405v2M585.5 404v1M586.5 402v2M587.5 401v1M588.5 399v2M589.5 398v1M590.5 397v1M591.5 396v1M592.5 396v1M593.5 395v1M594.5 394v1M595.5 393v1M596.5 393v1M597.5 392v1M598.5 390v2M599.5 389v1M600.5 387v2M601.5 386v1M602.5 385v1M603.5 384v1M604.5 384v1M605.5 383v1M606.5 382v1M607.5 381v1M608.5 381v1M609.5 380v1M610.5 380v1M611.5 380v1M612.5 381v1M613.5 381v1M614.5 381v1M615.5 380v1M616.5 379v1M617.5 379v1M618.5 378v1M619.5 377v1M620.5 377v1M621.5 376v1M622.5 376v1M623.5 375v1M624.5 374v1M625.5 374v1M626.5 373v1M627.5 372v1M628.5 372v1M629.5 371v1M630.5 370v1M631.5 369v1M632.5 369v1M633.5 368v1M634.5 368v1M635.5 368v1M636.5 369v1M637.5 369v1M638.5 369v1M639.5 369v1M640.5 369v1M641.5 369v1M642.5 369v1M643.5 368v1M644.5 367v1M645.5 367v1M646.5 366v1M647.5 365v1M648.5 365v1M649.5 364v1M650.5 365v1M651.5 366v1M652.5 366v1M653.5 367v1M654.5 368v1M655.5 369v1M656.5 370v1M657.5 371v1M658.5 372v1M659.5 373v2M660.5 375v1M661.5 376v1M662.5 377v2M663.5 379v1M664.5 380v2M665.5 382v1M666.5 383v2M667.5 385v2M668.5 387v2M669.5 389v1M670.5 390v2M671.5 392v2M672.5 394v2M673.5 396v1M674.5 397v1M675.5 398v1M676.5 398v1M677.5 399v1M678.5 400v1M679.5 401v1M680.5 401v1M681.5 402v1M682.5 402v1M683.5 403v1M684.5 404v1M685.5 404v1M686.5 404v1M687.5 404v1M688.5 404v1M689.5 404v1M690.5 404v1M691.5 405v1M692.5 406v1M693.5 406v1M694.5 407v1M695.5 408v1M696.5 408v1M697.5 409v1M698.5 409v1M699.5 409v1M700.5 410v1M701.5 410v1M702.5 411v1M703.5 412v1M704.5 412v1M705.5 413v1M706.5 413v1M707.5 413v1M708.5 412v1M709.5 412v1M710.5 412v1M711.5 412v1M712.5 411v1M713.5 411v1M714.5 410v1M715.5 408v2M716.5 407v1M717.5 406v1M718.5 405v1M719.5 404v1M720.5 404v1M721.5 403v1M722.5 401v2M723.5 400v1M724.5 398v2M725.5 397v1M726.5 395v2M727.5 394v1M728.5 392v2M729.5 391v1M730.5 391v1M731.5 390v1M732.5 389v1M733.5 389v1M734.5 389v1M735.5 389v1M736.5 388v1M737.5 388v1M738.5 388v1M739.5 388v1M740.5 389v1M741.5 389v1M742.5 389v1M743.5 390v1M744.5 391v1M745.5 391v1M746.5 391v1M747.5 390v1M748.5 389v1M749.5 389v1M750.5 388v1M751.5 387v1M752.5 387v1M753.5 386v1M754.5 386v1M755.5 385v1M756.5 384v1M757.5 384v1M758.5 383v1M759.5 382v1M760.5 382v1M761.5 381v1M762.5 381v1M763.5 381v1M764.5 380v1M765.5 380v1M766.5 379v1M767.5 378v1M768.5 378v1M769.5 377v1M770.5 377v1M771.5 376v1M772.5 375v1M773.5 375v1M774.5 375v1M775.5 375v1M776.5 374v1M777.5 374v1M778.5 375v1M779.5 376v1M780.5 377v1M781.5 378v1M782.5 379v1M783.5 380v1M784.5 381v1M785.5 382v1M786.5 382v1M787.5 382v1M788.5 383v1M789.5 383v1M790.5 383v1M791.5 384v1M792.5 385v1M793.5 385v1M794.5 385v1M795.5 386v1M796.5 387v1M797.5 387v1M798.5 388v1M799.5 389v2M800.5 391v1M801.5 392v1M802.5 393v2M803.5 395v2M804.5 397v2M805.5 399v2M806.5 401v2M807.5 403v2M808.5 405v2M809.5 407v3M810.5 410v2M811.5 412v3M812.5 415v2M813.5 417v3M814.5 420v2M815.5 422v3M816.5 425v2M817.5 427v3M818.5 430v2M819.5 432v3M820.5 435v2M821.5 437v3M822.5 440v3M823.5 443v2M824.5 445v3M825.5 448v3M826.5 451v3M827.5 454v2M828.5 456v3M829.5 459v3M830.5 462v2M831.5 464v2M832.5 466v2M833.5 468v2M834.5 470v1M835.5 471v2M836.5 473v1M837.5 474v1M838.5 475v1M839.5 476v2M840.5 478v1M841.5 479v1M842.5 479v1M843.5 480v1M844.5 481v1M845.5 481v1M846.5 481v1M847.5 482v1M848.5 483v1M849.5 483v1M850.5 483v1M851.5 484v1M852.5 485v1M853.5 485v1M854.5 485v1M855.5 485v1M856.5 485v1M857.5 485v1M858.5 485v1M859.5 485v1M860.5 484v1M861.5 484v1M862.5 484v1M863.5 483v1M864.5 482v1M865.5 482v1M866.5 481v1M867.5 480v1M868.5 480v1M869.5 479v1M870.5 478v1M871.5 477v1M872.5 476v1M873.5 475v1M874.5 474v1M875.5 472v2M876.5 471v1M877.5 470v1M878.5 468v2M879.5 466v2M880.5 464v2M881.5 463v1M882.5 461v2M883.5 460v1M884.5 458v2M885.5 456v2M886.5 455v1M887.5 452v3M888.5 451v1M889.5 449v2M890.5 447v2M891.5 445v2M892.5 443v2M893.5 441v2M894.5 440v1M895.5 437v3M896.5 436v1M897.5 434v2M898.5 434v1M899.5 433v1M900.5 432v1M901.5 432v1M902.5 431v1M903.5 430v1M904.5 430v1M905.5 429v1M906.5 428v1M907.5 427v1M908.5 427v1M909.5 426v1M910.5 425v1M911.5 424v1M912.5 423v1M913.5 422v1M914.5 420v2M915.5 419v1M916.5 417v2M917.5 416v1M918.5 414v2M919.5 413v1M920.5 411v2M921.5 410v1M922.5 409v1M923.5 408v1M924.5 407v1M925.5 406v1M926.5 404v2M927.5 403v1M928.5 401v2M929.5 400v1M930.5 399v1M931.5 398v1M932.5 397v1M933.5 396v1M934.5 396v1M935.5 395v1M936.5 394v1M937.5 394v1M938.5 393v1M939.5 392v1M940.5 392v1M941.5 391v1M942.5 390v1M943.5 389v1M944.5 389v1M945.5 388v1M946.5 388v1M947.5 387v1M948.5 386v1M949.5 386v1M950.5 386v1M951.5 386v1M952.5 385v1M953.5 385v1M954.5 384v1M955.5 383v1M956.5 383v1M957.5 382v1M958.5 381v1M959.5 380v1M960.5 380v1M961.5 379v1M962.5 379v1M963.5 379v1M964.5 378v1M965.5 378v1M966.5 378v1M967.5 379v1M968.5 380v1M969.5 380v1M970.5 380v1M971.5 380v1M972.5 381v1M973.5 381v1M974.5 381v1M975.5 381v1M976.5 382v1M977.5 382v1M978.5 383v1M979.5 384v1M980.5 384v1M981.5 385v1M982.5 385v1M983.5 386v1M984.5 387v1M985.5 387v1M986.5 388v1M987.5 389v2M988.5 391v1M989.5 392v1M990.5 393v1M991.5 394v1M992.5 395v1M993.5 396v1M994.5 397v1M995.5 398v1M996.5 398v1M997.5 399v1M998.5 400v1M999.5 401v2M1000.5 403v1M1001.5 404v1M1002.5 405v2M1003.5 407v1M1004.5 408v2M1005.5 410v1M1006.5 411v1M1007.5 412v2M1008.5 414v1M1009.5 415v2M1010.5 417v1M1011.5 418v3M1012.5 421v1M1013.5 422v2M1014.5 424v2M1015.5 426v2M1016.5 428v2M1017.5 430v1M1018.5 431v1M1019.5 432v1M1020.5 432v1M1021.5 433v1M1022.5 433v1M1023.5 433v1M1024.5 434v1M1025.5 434v1M1026.5 435v1M1027.5 436v1M1028.5 437v1M1029.5 438v1M1030.5 439v1M1031.5 440v1M1032.5 441v1M1033.5 442v1M1034.5 443v1M1035.5 444v1M1036.5 444v1M1037.5 445v1M1038.5 446v1M1039.5 447v2M1040.5 449v1M1041.5 450v1M1042.5 451v1M1043.5 452v2M1044.5 454v1M1045.5 455v1M1046.5 456v1M1047.5 457v2M1048.5 459v1M1049.5 460v1M1050.5 461v2M1051.5 463v2M1052.5 465v2M1053.5 467v2M1054.5 469v2M1055.5 471v2M1056.5 473v2M1057.5 475v2M1058.5 477v2M1059.5 479v2M1060.5 481v2M1061.5 483v2M1062.5 485v1M1063.5 486v3M1064.5 489v1M1065.5 490v2M1066.5 492v1M1067.5 493v2M1068.5 495v1M1069.5 496v1M1070.5 497v2M1071.5 499v2M1072.5 501v2M1073.5 503v2M1074.5 505v1M1075.5 506v3M1076.5 509v1M1077.5 510v2M1078.5 512v2M1079.5 514v2M1080.5 516v2M1081.5 518v1M1082.5 519v1M1083.5 520v2M1084.5 522v1M1085.5 523v1M1086.5 524v1M1087.5 525v1M1088.5 525v1M1089.5 526v1M1090.5 527v1M1091.5 528v2M1092.5 530v1M1093.5 531v1M1094.5 532v1M1095.5 533v1M1096.5 533v1M1097.5 534v1M1098.5 534v1M1099.5 534v1M1100.5 535v1M1101.5 535v1M1102.5 535v1M1103.5 535v1M1104.5 535v1M1105.5 535v1M1106.5 535v1M1107.5 535v1M1108.5 536v1M1109.5 536v1M1110.5 535v1M1111.5 534v1M1112.5 533v1M1113.5 532v1M1114.5 531v1M1115.5 530v1M1116.5 530v1M1117.5 529v1M1118.5 528v1M1119.5 527v1M1120.5 527v1M1121.5 526v1M1122.5 525v1M1123.5 524v1M1124.5 523v1M1125.5 522v1M1126.5 521v1M1127.5 520v1M1128.5 520v1M1129.5 519v1M1130.5 517v2M1131.5 516v1M1132.5 514v2M1133.5 513v1M1134.5 511v2M1135.5 510v1M1136.5 508v2M1137.5 507v1M1138.5 506v1M1139.5 505v1M1140.5 504v1M1141.5 503v1M1142.5 503v1M1143.5 502v1M1144.5 501v1M1145.5 501v1M1146.5 500v1M1147.5 498v2M1148.5 497v1M1149.5 496v1M1150.5 494v2M1151.5 493v1M1152.5 491v2M1153.5 490v1M1154.5 488v2M1155.5 487v1M1156.5 485v2M1157.5 484v1M1158.5 482v2M1159.5 480v2M1160.5 478v2M1161.5 476v2M1162.5 475v1M1163.5 472v3M1164.5 471v1M1165.5 468v3M1166.5 467v1M1167.5 464v3M1168.5 463v1M1169.5 460v3M1170.5 458v2M1171.5 456v2M1172.5 454v2M1173.5 451v3M1174.5 449v2M1175.5 447v2M1176.5 445v2M1177.5 442v3M1178.5 439v3M1179.5 437v2M1180.5 434v3M1181.5 431v3M1182.5 429v2M1183.5 426v3M1184.5 424v2M1185.5 421v3M1186.5 420v1M1187.5 417v3M1188.5 416v1M1189.5 414v2M1190.5 412v2M1191.5 411v1M1192.5 409v2M1193.5 407v2M1194.5 406v1M1195.5 403v3M1196.5 402v1M1197.5 400v2M1198.5 398v2M1199.5 397v1M1200.5 395v2M1201.5 394v1M1202.5 393v1M1203.5 392v1M1204.5 391v1M1205.5 390v1M1206.5 389v1M1207.5 388v1M1208.5 388v1M1209.5 387v1M1210.5 387v1M1211.5 386v1M1212.5 385v1M1213.5 385v1M1214.5 385v1M1215.5 385v1M1216.5 384v1M1217.5 384v1M1218.5 384v1M1219.5 384v1M1220.5 383v1M1221.5 383v1M1222.5 383v1M1223.5 383v1M1224.5 382v1M1225.5 382v1M1226.5 382v1M1227.5 382v1M1228.5 383v1M1229.5 383v1M1230.5 384v1M1231.5 385v1M1232.5 385v1M1233.5 386v1M1234.5 387v1M1235.5 388v1M1236.5 388v1M1237.5 389v1M1238.5 390v1M1239.5 391v1M1240.5 391v1M1241.5 392v1M1242.5 392v1M1243.5 393v1M1244.5 394v1M1245.5 394v1M1246.5 394v1M1247.5 394v1M1248.5 394v1M1249.5 394v1M1250.5 394v1M1251.5 394v1M1252.5 395v1M1253.5 395v1M1254.5 394v1M1255.5 393v1M1256.5 393v1M1257.5 392v1M1258.5 390v2M1259.5 388v2M1260.5 386v2M1261.5 385v1M1262.5 383v2M1263.5 382v1M1264.5 380v2M1265.5 379v1M1266.5 377v2M1267.5 376v1M1268.5 374v2M1269.5 373v1M1270.5 372v1M1271.5 371v1M1272.5 371v1M1273.5 370v1M1274.5 368v2M1275.5 366v2M1276.5 364v2M1277.5 363v1M1278.5 361v2M1279.5 359v2M1280.5 357v2M1281.5 355v2M1282.5 354v1M1283.5 351v3M1284.5 350v1M1285.5 347v3M1286.5 346v1M1287.5 343v3M1288.5 342v1M1289.5 339v3M1290.5 336v3M1291.5 332v4M1292.5 329v3M1293.5 324v5M1294.5 318v6M1295.5 312v6M1296.5 306v6M1297.5 300v6M1298.5 295v5M1299.5 290v5M1300.5 285v5M1301.5 280v5M1302.5 274v6M1303.5 268v6M1304.5 262v6M1305.5 259v3" stroke="#ff0000" stroke-width="1" fill="none"/>
<path d="M5.5 448v1M6.5 448v1M7.5 449v1M8.5 450v1M9.5 448v3M10.5 445v3M11.5 440v5M12.5 437v3M13.5 433v4M14.5 430v3M15.5 426v4M16.5 423v3M17.5 420v3M18.5 416v4M19.5 412v4M20.5 408v4M21.5 403v5M22.5 398v5M23.5 391v7M24.5 386v5M25.5 379v7M26.5 371v8M27.5 363v8M28.5 355v8M29.5 349v6M30.5 343v6M31.5 337v6M32.5 331v6M33.5 326v5M34.5 322v4M35.5 318v4M36.5 314v4M37.5 310v4M38.5 308v2M39.5 305v3M40.5 303v2M41.5 300v3M42.5 298v2M43.5 296v2M44.5 294v2M45.5 292v2M46.5 293v1M47.5 294v2M48.5 296v1M49.5 297v2M50.5 299v4M51.5 303v3M52.5 306v4M53.5 310v3M54.5 313v4M55.5 317v4M56.5 321v4M57.5 325v3M58.5 328v2M59.5 330v2M60.5 332v2M61.5 334v3M62.5 337v2M63.5 339v2M64.5 341v2M65.5 343v2M66.5 345v1M67.5 346v1M68.5 347v1M69.5 348v1M70.5 349v1M71.5 350v1M72.5 350v1M73.5 351v1M74.5 351v1M75.5 351v1M76.5 350v1M77.5 350v1M78.5 349v1M79.5 347v2M80.5 346v1M81.5 345v1M82.5 343v2M83.5 341v2M84.5 339v2M85.5 337v2M86.5 335v2M87.5 333v2M88.5 331v2M89.5 328v3M90.5 324v4M91.5 320v4M92.5 316v4M93.5 314v2M94.5 312v2M95.5 310v2M96.5 308v2M97.5 306v2M98.5 305v1M99.5 302v3M100.5 301v1M101.5 299v2M102.5 299v1M103.5 299v1M104.5 298v1M105.5 298v1M106.5 299v2M107.5 301v2M108.5 303v2M109.5 305v2M110.5 307v1M111.5 308v3M112.5 311v1M113.5 312v2M114.5 314v1M115.5 315v2M116.5 317v1M117.5 318v2M118.5 320v2M119.5 322v2M120.5 324v2M121.5 326v3M122.5 329v3M123.5 332v4M124.5 336v3M125.5 339v2M126.5 340v1M127.5 340v1M128.5 340v1M129.5 340v1M130.5 339v1M131.5 338v1M132.5 337v1M133.5 336v1M134.5 334v2M135.5 333v1M136.5 331v2M137.5 330v1M138.5 331v1M139.5 332v2M140.5 334v1M141.5 335v1M142.5 335v1M143.5 335v1M144.5 334v1M145.5 334v1M146.5 335v1M147.5 336v2M148.5 338v1M149.5 339v1M150.5 339v1M151.5 339v1M152.5 340v1M153.5 340v1M154.5 341v2M155.5 343v2M156.5 345v2M157.5 347v1M158.5 346v1M159.5 345v1M160.5 345v1M161.5 344v1M162.5 342v2M163.5 341v1M164.5 339v2M165.5 338v1M166.5 337v1M167.5 336v1M168.5 336v1M169.5 335v1M170.5 336v1M171.5 337v1M172.5 338v1M173.5 339v1M174.5 338v1M175.5 336v2M176.5 335v1M177.5 334v1M178.5 333v1M179.5 331v2M180.5 330v1M181.5 329v1M182.5 329v1M183.5 329v1M184.5 328v1M185.5 328v1M186.5 328v1M187.5 328v1M188.5 327v1M189.5 326v2M190.5 324v2M191.5 322v2M192.5 320v2M193.5 317v3M194.5 314v3M195.5 312v2M196.5 309v3M197.5 306v3M198.5 302v4M199.5 298v4M200.5 294v4M201.5 291v3M202.5 289v2M203.5 287v2M204.5 285v2M205.5 282v3M206.5 279v3M207.5 275v4M208.5 272v3M209.5 270v2M210.5 269v1M211.5 268v1M212.5 268v1M213.5 267v1M214.5 268v1M215.5 269v2M216.5 271v1M217.5 272v2M218.5 274v2M219.5 276v2M220.5 278v2M221.5 280v2M222.5 281v1M223.5 281v1M224.5 280v1M225.5 280v1M226.5 281v1M227.5 282v1M228.5 283v1M229.5 284v1M230.5 284v1M231.5 285v1M232.5 286v1M233.5 286v1M234.5 285v1M235.5 284v1M236.5 284v1M237.5 283v1M238.5 281v2M239.5 280v1M240.5 278v2M241.5 277v1M242.5 277v1M243.5 278v1M244.5 279v1M245.5 279v1M246.5 277v2M247.5 275v2M248.5 273v2M249.5 272v1M250.5 272v1M251.5 272v1M252.5 272v1M253.5 272v1M254.5 273v1M255.5 274v1M256.5 274v1M257.5 275v1M258.5 275v1M259.5 275v1M260.5 275v1M261.5 275v1M262.5 275v1M263.5 274v1M264.5 273v1M265.5 273v1M266.5 274v2M267.5 276v2M268.5 278v2M269.5 280v1M270.5 280v1M271.5 280v1M272.5 280v1M273.5 280v1M274.5 278v2M275.5 276v2M276.5 274v2M277.5 273v1M278.5 274v1M279.5 275v1M280.5 275v1M281.5 276v1M282.5 277v1M283.5 278v2M284.5 280v1M285.5 281v1M286.5 281v1M287.5 281v1M288.5 282v1M289.5 282v1M290.5 282v1M291.5 283v1M292.5 284v1M293.5 284v1M294.5 284v1M295.5 284v1M296.5 284v1M297.5 284v1M298.5 284v1M299.5 284v1M300.5 283v1M301.5 283v1M302.5 283v1M303.5 282v1M304.5 281v1M305.5 281v1M306.5 281v1M307.5 280v1M308.5 279v1M309.5 279v1M310.5 277v2M311.5 276v1M312.5 274v2M313.5 272v2M314.5 271v1M315.5 268v3M316.5 267v1M317.5 265v2M318.5 263v2M319.5 262v1M320.5 260v2M321.5 258v2M322.5 256v2M323.5 253v3M324.5 251v2M325.5 248v3M326.5 246v2M327.5 243v3M328.5 241v2M329.5 239v2M330.5 239v1M331.5 239v1M332.5 239v1M333.5 239v2M334.5 241v4M335.5 245v3M336.5 248v4M337.5 252v3M338.5 255v3M339.5 258v3M340.5 261v3M341.5 264v4M342.5 268v5M343.5 273v4M344.5 277v5M345.5 282v6M346.5 288v7M347.5 295v7M348.5 302v7M349.5 309v7M350.5 316v5M351.5 321v7M352.5 328v5M353.5 333v6M354.5 339v5M355.5 344v5M356.5 349v5M357.5 354v4M358.5 358v3M359.5 361v4M360.5 365v3M361.5 368v3M362.5 371v2M363.5 373v2M364.5 375v2M365.5 377v2M366.5 377v1M367.5 375v2M368.5 374v1M369.5 372v2M370.5 368v4M371.5 365v3M372.5 361v4M373.5 357v4M374.5 352v5M375.5 347v5M376.5 342v5M377.5 338v4M378.5 335v3M379.5 332v3M380.5 329v3M381.5 326v3M382.5 323v3M383.5 320v3M384.5 317v3M385.5 315v2M386.5 314v1M387.5 313v1M388.5 313v1M389.5 312v3M390.5 315v5M391.5 320v6M392.5 326v5M393.5 331v6M394.5 337v6M395.5 343v6M396.5 349v6M397.5 355v6M398.5 361v6M399.5 367v5M400.5 372v6M401.5 378v6M402.5 384v5M403.5 389v7M404.5 396v5M405.5 401v7M406.5 408v5M407.5 413v7M408.5 420v5M409.5 425v5M410.5 430v3M411.5 433v3M412.5 436v3M413.5 439v3M414.5 442v3M415.5 445v4M416.5 449v3M417.5 452v3M418.5 455v4M419.5 459v3M420.5 462v4M421.5 466v3M422.5 469v4M423.5 473v3M424.5 476v4M425.5 480v2M426.5 482v1M427.5 483v2M428.5 485v1M429.5 486v1M430.5 486v1M431.5 486v1M432.5 485v1M433.5 485v1M434.5 486v1M435.5 487v2M436.5 489v1M437.5 490v1M438.5 491v1M439.5 492v2M440.5 494v1M441.5 495v1M442.5 494v1M443.5 493v1M444.5 493v1M445.5 492v1M446.5 493v1M447.5 494v2M448.5 496v1M449.5 497v1M450.5 498v1M451.5 499v1M452.5 499v1M453.5 500v1M454.5 498v2M455.5 497v1M456.5 495v2M457.5 494v1M458.5 492v2M459.5 491v1M460.5 489v2M461.5 488v1M462.5 489v1M463.5 490v1M464.5 491v1M465.5 492v1M466.5 493v1M467.5 494v2M468.5 496v1M469.5 497v1M470.5 498v2M471.5 500v2M472.5 502v2M473.5 504v2M474.5 506v3M475.5 509v2M476.5 511v3M477.5 514v2M478.5 516v2M479.5 518v2M480.5 520v2M481.5 522v1M482.5 523v1M483.5 524v1M484.5 524v1M485.5 525v1M486.5 523v2M487.5 522v1M488.5 520v2M489.5 519v1M490.5 517v2M491.5 516v1M492.5 514v2M493.5 513v1M494.5 512v1M495.5 511v1M496.5 511v1M497.5 509v2M498.5 507v2M499.5 505v2M500.5 503v2M501.5 500v3M502.5 497v3M503.5 494v3M504.5 491v3M505.5 489v2M506.5 488v1M507.5 486v2M508.5 485v1M509.5 483v2M510.5 482v1M511.5 479v3M512.5 478v1M513.5 475v3M514.5 471v4M515.5 467v4M516.5 463v4M517.5 461v2M518.5 459v2M519.5 457v2M520.5 455v2M521.5 454v1M522.5 454v1M523.5 454v1M524.5 453v1M525.5 453v1M526.5 452v1M527.5 451v1M528.5 450v1M529.5 449v1M530.5 449v1M531.5 449v1M532.5 449v1M533.5 449v1M534.5 449v1M535.5 448v1M536.5 447v1M537.5 447v1M538.5 445v2M539.5 444v1M540.5 442v2M541.5 441v1M542.5 439v2M543.5 437v2M544.5 435v2M545.5 434v1M546.5 433v1M547.5 432v1M548.5 432v1M549.5 430v2M550.5 427v3M551.5 423v4M552.5 420v3M553.5 417v3M554.5 413v4M555.5 409v4M556.5 405v4M557.5 403v2M558.5 402v1M559.5 401v1M560.5 401v1M561.5 400v1M562.5 400v1M563.5 399v1M564.5 398v1M565.5 398v1M566.5 397v1M567.5 396v1M568.5 396v1M569.5 395v1M570.5 395v1M571.5 396v1M572.5 397v1M573.5 397v2M574.5 399v3M575.5 402v4M576.5 406v3M577.5 409v2M578.5 407v2M579.5 405v2M580.5 403v2M581.5 400v3M582.5 397v3M583.5 394v3M584.5 391v3M585.5 388v3M586.5 387v1M587.5 384v3M588.5 383v1M589.5 381v2M590.5 380v1M591.5 379v1M592.5 378v1M593.5 376v2M594.5 374v2M595.5 371v3M596.5 369v2M597.5 367v2M598.5 367v1M599.5 367v1M600.5 366v1M601.5 366v1M602.5 367v2M603.5 369v1M604.5 370v2M605.5 372v1M606.5 371v1M607.5 370v1M608.5 369v1M609.5 368v1M610.5 366v2M611.5 365v1M612.5 363v2M613.5 362v1M614.5 362v1M615.5 363v1M616.5 364v1M617.5 364v1M618.5 365v1M619.5 366v2M620.5 368v1M621.5 369v1M622.5 369v1M623.5 369v1M624.5 370v1M625.5 370v1M626.5 370v1M627.5 370v1M628.5 371v1M629.5 371v1M630.5 371v1M631.5 372v1M632.5 373v1M633.5 373v1M634.5 373v1M635.5 373v1M636.5 373v1M637.5 373v1M638.5 372v1M639.5 370v2M640.5 369v1M641.5 368v1M642.5 366v2M643.5 365v1M644.5 363v2M645.5 362v1M646.5 361v1M647.5 360v1M648.5 360v1M649.5 359v1M650.5 360v2M651.5 362v1M652.5 363v2M653.5 365v1M654.5 366v2M655.5 368v2M656.5 370v2M657.5 372v3M658.5 375v5M659.5 380v4M660.5 384v5M661.5 389v5M662.5 394v4M663.5 398v4M664.5 402v4M665.5 406v6M666.5 412v5M667.5 417v7M668.5 424v5M669.5 429v5M670.5 434v3M671.5 437v3M672.5 440v3M673.5 443v2M674.5 445v1M675.5 446v2M676.5 448v1M677.5 449v1M678.5 448v1M679.5 446v2M680.5 445v1M681.5 443v2M682.5 440v3M683.5 438v2M684.5 435v3M685.5 431v4M686.5 427v4M687.5 422v5M688.5 418v4M689.5 414v4M690.5 410v4M691.5 406v4M692.5 402v4M693.5 400v2M694.5 398v2M695.5 397v1M696.5 395v2M697.5 393v2M698.5 391v2M699.5 389v2M700.5 387v2M701.5 385v2M702.5 385v1M703.5 385v1M704.5 386v1M705.5 386v1M706.5 386v1M707.5 387v1M708.5 388v1M709.5 388v1M710.5 388v1M711.5 387v1M712.5 386v1M713.5 386v1M714.5 385v1M715.5 384v1M716.5 384v1M717.5 383v1M718.5 384v1M719.5 385v1M720.5 386v1M721.5 387v1M722.5 387v1M723.5 386v1M724.5 385v1M725.5 385v1M726.5 385v1M727.5 385v1M728.5 385v1M729.5 385v1M730.5 386v1M731.5 387v1M732.5 388v1M733.5 389v1M734.5 390v1M735.5 391v1M736.5 391v1M737.5 392v1M738.5 392v1M739.5 392v1M740.5 393v1M741.5 393v1M742.5 394v2M743.5 396v1M744.5 397v2M745.5 399v1M746.5 398v1M747.5 396v2M748.5 395v1M749.5 393v2M750.5 391v2M751.5 389v2M752.5 387v2M753.5 384v3M754.5 381v3M755.5 379v2M756.5 376v3M757.5 373v3M758.5 371v2M759.5 369v2M760.5 367v2M761.5 364v3M762.5 362v2M763.5 360v2M764.5 358v2M765.5 356v2M766.5 356v1M767.5 355v1M768.5 354v1M769.5 354v1M770.5 354v1M771.5 354v1M772.5 353v1M773.5 353v1M774.5 354v2M775.5 356v2M776.5 358v2M777.5 360v3M778.5 363v4M779.5 367v4M780.5 371v4M781.5 375v4M782.5 379v4M783.5 383v4M784.5 387v4M785.5 391v3M786.5 394v3M787.5 397v4M788.5 401v3M789.5 404v3M790.5 407v4M791.5 411v4M792.5 415v4M793.5 419v3M794.5 422v2M795.5 424v3M796.5 427v2M797.5 429v2M798.5 431v2M799.5 433v1M800.5 434v2M801.5 436v1M802.5 437v2M803.5 439v1M804.5 440v2M805.5 442v2M806.5 444v3M807.5 447v4M808.5 451v3M809.5 454v3M810.5 457v3M811.5 460v3M812.5 463v3M813.5 466v3M814.5 469v3M815.5 472v4M816.5 476v3M817.5 479v2M818.5 481v1M819.5 482v2M820.5 484v1M821.5 485v1M822.5 486v2M823.5 488v2M824.5 490v2M825.5 492v1M826.5 493v2M827.5 495v2M828.5 497v2M829.5 499v1M830.5 500v1M831.5 501v2M832.5 503v1M833.5 504v1M834.5 504v1M835.5 505v1M836.5 506v1M837.5 506v1M838.5 506v1M839.5 506v1M840.5 507v1M841.5 506v2M842.5 503v3M843.5 499v4M844.5 496v3M845.5 493v3M846.5 491v2M847.5 489v2M848.5 487v2M849.5 484v3M850.5 481v3M851.5 479v2M852.5 476v3M853.5 473v3M854.5 471v2M855.5 469v2M856.5 467v2M857.5 464v3M858.5 463v1M859.5 460v3M860.5 459v1M861.5 457v2M862.5 458v1M863.5 459v1M864.5 459v1M865.5 460v1M866.5 459v1M867.5 457v2M868.5 456v1M869.5 455v1M870.5 454v1M871.5 453v1M872.5 453v1M873.5 451v2M874.5 450v1M875.5 447v3M876.5 446v1M877.5 443v3M878.5 441v2M879.5 438v3M880.5 436v2M881.5 434v2M882.5 432v2M883.5 430v2M884.5 428v2M885.5 427v1M886.5 425v2M887.5 423v2M888.5 421v2M889.5 419v2M890.5 418v1M891.5 415v3M892.5 414v1M893.5 412v2M894.5 411v1M895.5 409v2M896.5 408v1M897.5 407v1M898.5 407v1M899.5 407v1M900.5 408v1M901.5 408v1M902.5 408v1M903.5 407v1M904.5 406v1M905.5 406v1M906.5 406v1M907.5 407v1M908.5 408v1M909.5 408v1M910.5 408v1M911.5 409v1M912.5 410v1M913.5 410v1M914.5 409v1M915.5 407v2M916.5 406v1M917.5 405v1M918.5 403v2M919.5 401v2M920.5 399v2M921.5 398v1M922.5 396v2M923.5 394v2M924.5 392v2M925.5 390v2M926.5 388v2M927.5 386v2M928.5 384v2M929.5 381v3M930.5 378v3M931.5 376v2M932.5 373v3M933.5 371v2M934.5 371v1M935.5 371v1M936.5 372v1M937.5 372v1M938.5 372v1M939.5 372v1M940.5 371v1M941.5 371v1M942.5 371v1M943.5 371v1M944.5 371v1M945.5 371v1M946.5 371v1M947.5 372v1M948.5 373v1M949.5 373v1M950.5 374v1M951.5 375v1M952.5 376v1M953.5 377v1M954.5 377v1M955.5 376v1M956.5 375v1M957.5 375v1M958.5 375v1M959.5 375v1M960.5 374v1M961.5 374v1M962.5 375v2M963.5 377v1M964.5 378v2M965.5 380v2M966.5 382v3M967.5 385v3M968.5 388v3M969.5 391v2M970.5 392v1M971.5 393v1M972.5 394v1M973.5 394v1M974.5 395v2M975.5 397v1M976.5 398v2M977.5 400v1M978.5 401v2M979.5 403v2M980.5 405v2M981.5 407v1M982.5 407v1M983.5 407v1M984.5 408v1M985.5 408v1M986.5 407v1M987.5 406v1M988.5 405v1M989.5 404v2M990.5 406v2M991.5 408v2M992.5 410v2M993.5 412v2M994.5 414v2M995.5 416v1M996.5 417v2M997.5 419v1M998.5 420v2M999.5 422v1M1000.5 423v2M1001.5 425v2M1002.5 427v2M1003.5 429v3M1004.5 432v2M1005.5 434v2M1006.5 436v2M1007.5 438v2M1008.5 440v2M1009.5 442v2M1010.5 444v2M1011.5 446v2M1012.5 448v2M1013.5 450v3M1014.5 453v2M1015.5 455v2M1016.5 457v2M1017.5 459v2M1018.5 460v1M1019.5 461v1M1020.5 462v1M1021.5 462v1M1022.5 461v1M1023.5 460v1M1024.5 460v1M1025.5 459v1M1026.5 459v1M1027.5 459v1M1028.5 458v1M1029.5 458v1M1030.5 456v2M1031.5 455v1M1032.5 453v2M1033.5 452v1M1034.5 451v1M1035.5 450v1M1036.5 449v1M1037.5 448v1M1038.5 449v2M1039.5 451v1M1040.5 452v2M1041.5 454v2M1042.5 456v2M1043.5 458v3M1044.5 461v2M1045.5 463v3M1046.5 466v3M1047.5 469v3M1048.5 472v3M1049.5 475v3M1050.5 478v3M1051.5 481v3M1052.5 484v3M1053.5 487v5M1054.5 492v5M1055.5 497v7M1056.5 504v5M1057.5 509v6M1058.5 515v3M1059.5 518v5M1060.5 523v3M1061.5 526v4M1062.5 530v4M1063.5 534v3M1064.5 537v4M1065.5 541v3M1066.5 544v2M1067.5 546v3M1068.5 549v2M1069.5 551v3M1070.5 554v2M1071.5 556v2M1072.5 558v2M1073.5 560v2M1074.5 561v1M1075.5 561v1M1076.5 560v1M1077.5 560v1M1078.5 559v1M1079.5 558v1M1080.5 557v1M1081.5 556v1M1082.5 554v2M1083.5 552v2M1084.5 550v2M1085.5 548v2M1086.5 544v4M1087.5 541v3M1088.5 537v4M1089.5 535v2M1090.5 533v2M1091.5 531v2M1092.5 529v2M1093.5 527v2M1094.5 524v3M1095.5 522v2M1096.5 519v3M1097.5 517v2M1098.5 516v1M1099.5 515v1M1100.5 514v1M1101.5 513v1M1102.5 512v1M1103.5 511v1M1104.5 510v1M1105.5 509v1M1106.5 510v2M1107.5 512v1M1108.5 513v2M1109.5 515v1M1110.5 515v1M1111.5 515v1M1112.5 516v1M1113.5 516v1M1114.5 516v1M1115.5 516v1M1116.5 517v1M1117.5 517v1M1118.5 517v1M1119.5 516v1M1120.5 515v1M1121.5 515v1M1122.5 515v1M1123.5 515v1M1124.5 516v1M1125.5 516v1M1126.5 516v1M1127.5 515v1M1128.5 514v1M1129.5 513v2M1130.5 511v2M1131.5 509v2M1132.5 507v2M1133.5 504v3M1134.5 501v3M1135.5 499v2M1136.5 496v3M1137.5 493v3M1138.5 491v2M1139.5 489v2M1140.5 487v2M1141.5 484v3M1142.5 482v2M1143.5 479v3M1144.5 477v2M1145.5 474v3M1146.5 470v4M1147.5 467v3M1148.5 463v4M1149.5 461v2M1150.5 459v2M1151.5 457v2M1152.5 455v2M1153.5 454v1M1154.5 452v2M1155.5 450v2M1156.5 448v2M1157.5 446v2M1158.5 443v3M1159.5 441v2M1160.5 438v3M1161.5 435v3M1162.5 433v2M1163.5 430v3M1164.5 428v2M1165.5 426v2M1166.5 424v2M1167.5 422v2M1168.5 420v2M1169.5 418v2M1170.5 416v2M1171.5 413v3M1172.5 411v2M1173.5 408v3M1174.5 406v2M1175.5 404v2M1176.5 402v2M1177.5 399v3M1178.5 398v1M1179.5 395v3M1180.5 394v1M1181.5 391v3M1182.5 389v2M1183.5 387v2M1184.5 385v2M1185.5 382v3M1186.5 381v1M1187.5 378v3M1188.5 377v1M1189.5 375v2M1190.5 374v1M1191.5 373v1M1192.5 372v1M1193.5 371v1M1194.5 370v1M1195.5 368v2M1196.5 367v1M1197.5 366v1M1198.5 366v1M1199.5 366v1M1200.5 367v1M1201.5 367v1M1202.5 368v1M1203.5 369v2M1204.5 371v1M1205.5 372v1M1206.5 373v1M1207.5 374v2M1208.5 376v1M1209.5 377v1M1210.5 378v1M1211.5 379v2M1212.5 381v1M1213.5 382v2M1214.5 384v1M1215.5 385v3M1216.5 388v1M1217.5 389v2M1218.5 391v2M1219.5 393v1M1220.5 394v2M1221.5 396v1M1222.5 396v1M1223.5 396v1M1224.5 397v1M1225.5 397v1M1226.5 397v1M1227.5 398v1M1228.5 399v1M1229.5 399v1M1230.5 400v1M1231.5 401v1M1232.5 401v1M1233.5 402v1M1234.5 403v1M1235.5 404v1M1236.5 405v1M1237.5 406v1M1238.5 407v1M1239.5 408v1M1240.5 408v1M1241.5 409v1M1242.5 409v1M1243.5 409v1M1244.5 408v1M1245.5 408v1M1246.5 406v2M1247.5 405v1M1248.5 403v2M1249.5 401v2M1250.5 399v2M1251.5 397v2M1252.5 395v2M1253.5 391v4M1254.5 388v3M1255.5 383v5M1256.5 380v3M1257.5 374v6M1258.5 368v6M1259.5 361v7M1260.5 355v6M1261.5 349v6M1262.5 346v3M1263.5 341v5M1264.5 338v3M1265.5 334v4M1266.5 331v3M1267.5 328v3M1268.5 325v3M1269.5 323v2M1270.5 322v1M1271.5 321v1M1272.5 320v1M1273.5 319v1M1274.5 318v1M1275.5 316v2M1276.5 315v1M1277.5 314v1M1278.5 315v1M1279.5 316v1M1280.5 316v1M1281.5 317v1M1282.5 316v1M1283.5 315v1M1284.5 315v1M1285.5 314v1M1286.5 313v1M1287.5 311v2M1288.5 310v1M1289.5 307v3M1290.5 301v6M1291.5 295v6M1292.5 289v6M1293.5 281v8M1294.5 269v12M1295.5 258v11M1296.5 246v12M1297.5 235v11M1298.5 225v10M1299.5 214v11M1300.5 204v10M1301.5 193v11M1302.5 181v12M1303.5 170v11M1304.5 158v12M1305.5 152v6" stroke="#ffa500" stroke-width="1" fill="none"/>
<rect x="5" y="62" width="1636" height="2" fill="#ff0000"/><rect x="4" y="60" width="6" height="6" fill="#ff0000"/><rect x="6" y="62" width="2" height="2" fill="#fff"/><rect x="1635" y="60" width="6" height="6" fill="#ff0000"/><rect x="1637" y="62" width="2" height="2" fill="#fff"/><rect x="5" y="124" width="1636" height="2" fill="#ff0000"/><rect x="4" y="122" width="6" height="6" fill="#ff0000"/><rect x="6" y="124" width="2" height="2" fill="#fff"/><rect x="1635" y="122" width="6" height="6" fill="#ff0000"/><rect x="1637" y="124" width="2" height="2" fill="#fff"/><rect x="5" y="208" width="1636" height="2" fill="#00ff00"/><rect x="4" y="206" width="6" height="6" fill="#00ff00"/><rect x="6" y="208" width="2" height="2" fill="#fff"/><rect x="1635" y="206" width="6" height="6" fill="#00ff00"/><rect x="1637" y="208" width="2" height="2" fill="#fff"/><rect x="5" y="293" width="1636" height="2" fill="#0000ff"/><rect x="4" y="291" width="6" height="6" fill="#0000ff"/><rect x="6" y="293" width="2" height="2" fill="#fff"/><rect x="1635" y="291" width="6" height="6" fill="#0000ff"/><rect x="1637" y="293" width="2" height="2" fill="#fff"/><rect x="5" y="365" width="1636" height="2" fill="#0000ff"/><rect x="4" y="363" width="6" height="6" fill="#0000ff"/><rect x="6" y="365" width="2" height="2" fill="#fff"/><rect x="1635" y="363" width="6" height="6" fill="#0000ff"/><rect x="1637" y="365" width="2" height="2" fill="#fff"/><rect x="5" y="462" width="1636" height="2" fill="#0000ff"/><rect x="5" y="538" width="1636" height="2" fill="#0000ff"/>
</svg>
<svg style="position:absolute;left:8px;top:32px" width="8" height="5"><path d="M0 0 L7 0 L3.5 4z" fill="#000"/></svg>
<div class="ttl" style="left:20px;top:28px;letter-spacing:-0.17px">USDCAD,Daily</div><div class="ttl num" style="left:92px;top:28px">1.37472 1.38192 1.37292 1.38043</div>
<div class="ttl" style="left:8px;top:598px">RSI(14) 83.4041</div>
<div class="ttl" style="left:8px;top:704px">MACD(12,26,9) 0.012079 0.006800</div>
<div class="tk" style="top:28px"></div><div class="al" style="top:23px">1.38610</div><div class="tk" style="top:61px"></div><div class="al" style="top:56px">1.38055</div><div class="tk" style="top:94px"></div><div class="al" style="top:89px">1.37515</div><div class="tk" style="top:127px"></div><div class="al" style="top:122px">1.36960</div><div class="tk" style="top:160px"></div><div class="al" style="top:155px">1.36420</div><div class="tk" style="top:193px"></div><div class="al" style="top:188px">1.35880</div><div class="tk" style="top:226px"></div><div class="al" style="top:221px">1.35325</div><div class="tk" style="top:259px"></div><div class="al" style="top:254px">1.34785</div><div class="tk" style="top:292px"></div><div class="al" style="top:287px">1.34230</div><div class="tk" style="top:325px"></div><div class="al" style="top:320px">1.33690</div><div class="tk" style="top:358px"></div><div class="al" style="top:353px">1.33150</div><div class="tk" style="top:391px"></div><div class="al" style="top:386px">1.32595</div><div class="tk" style="top:424px"></div><div class="al" style="top:419px">1.32055</div><div class="tk" style="top:457px"></div><div class="al" style="top:452px">1.31500</div><div class="tk" style="top:490px"></div><div class="al" style="top:485px">1.30960</div><div class="tk" style="top:523px"></div><div class="al" style="top:518px">1.30420</div><div class="tk" style="top:556px"></div><div class="al" style="top:551px">1.29865</div><div class="tk" style="top:589px"></div><div class="al" style="top:584px">1.29325</div><div class="tk1" style="top:596px"></div><div class="tk1" style="top:697px"></div><div class="al" style="top:596px;left:1645px">100</div><div class="al" style="top:621px;left:1645px">70</div><div class="al" style="top:662px;left:1645px">30</div><div class="al" style="top:686px;left:1645px">0</div><div class="tk1" style="top:702px"></div><div class="al" style="top:702px;left:1645px">0.013097</div><div class="tk1" style="top:761px"></div><div class="al" style="top:756px;left:1645px">0.00</div><div class="tk1" style="top:802px"></div><div class="al" style="top:791px;left:1645px">-0.009299</div>
<div class="tag" style="top:57px;background:#ff0000">1.38027</div><div class="tag" style="top:119px;background:#ff0000">1.37005</div><div class="tag" style="top:203px;background:#00ff00">1.35606</div><div class="tag" style="top:288px;background:#0000ff">1.34206</div><div class="tag" style="top:360px;background:#0000ff">1.33011</div><div class="tag" style="top:457px;background:#0000ff">1.31405</div><div class="tag" style="top:533px;background:#0000ff">1.30152</div>
<div class="dt" style="left:5px"></div><div class="dlab" style="left:3px">27 Feb 2019</div><div class="dt" style="left:69px"></div><div class="dlab" style="left:67px">18 Mar 2019</div><div class="dt" style="left:133px"></div><div class="dlab" style="left:131px">5 Apr 2019</div><div class="dt" style="left:197px"></div><div class="dlab" style="left:195px">24 Apr 2019</div><div class="dt" style="left:261px"></div><div class="dlab" style="left:259px">13 May 2019</div><div class="dt" style="left:325px"></div><div class="dlab" style="left:323px">31 May 2019</div><div class="dt" style="left:389px"></div><div class="dlab" style="left:387px">19 Jun 2019</div><div class="dt" style="left:453px"></div><div class="dlab" style="left:451px">8 Jul 2019</div><div class="dt" style="left:517px"></div><div class="dlab" style="left:515px">26 Jul 2019</div><div class="dt" style="left:581px"></div><div class="dlab" style="left:579px">14 Aug 2019</div><div class="dt" style="left:645px"></div><div class="dlab" style="left:643px">2 Sep 2019</div><div class="dt" style="left:709px"></div><div class="dlab" style="left:707px">20 Sep 2019</div><div class="dt" style="left:773px"></div><div class="dlab" style="left:771px">9 Oct 2019</div><div class="dt" style="left:837px"></div><div class="dlab" style="left:835px">28 Oct 2019</div><div class="dt" style="left:901px"></div><div class="dlab" style="left:899px">15 Nov 2019</div><div class="dt" style="left:965px"></div><div class="dlab" style="left:963px">4 Dec 2019</div><div class="dt" style="left:1029px"></div><div class="dlab" style="left:1027px">23 Dec 2019</div><div class="dt" style="left:1093px"></div><div class="dlab" style="left:1091px">10 Jan 2020</div><div class="dt" style="left:1157px"></div><div class="dlab" style="left:1155px">29 Jan 2020</div><div class="dt" style="left:1221px"></div><div class="dlab" style="left:1219px">17 Feb 2020</div><div class="dt" style="left:1285px"></div><div class="dlab" style="left:1283px">6 Mar 2020</div>
<!-- tab bar -->
<div style="left:0;top:824px;width:1682px;height:1px;background:#e3e3e3"></div>
<div style="left:0;top:826px;width:1682px;height:1px;background:#000"></div>
<div style="left:0;top:827px;width:1682px;height:1px;background:#fafafa"></div><div style="left:0;top:828px;width:1682px;height:18px;background:#f0f0f0"></div>
<div style="left:0;top:827px;width:1px;height:19px;background:#a0a0a0"></div><div style="left:1px;top:827px;width:1px;height:19px;background:#696969"></div>
<div style="left:0;top:846px;width:1682px;height:1px;background:#fff"></div><div style="left:0;top:847px;width:1682px;height:2px;background:#f0f0f0"></div>
<div style="left:314px;top:826px;width:104px;height:19px;background:#fff;border:1px solid #000;border-top:none"></div>
<div style="left:315px;top:826px;width:102px;height:1px;background:#fff"></div>
<div class="tab" style="left:18px;letter-spacing:0px">EURUSD,Daily</div><div class="tab" style="left:119px;letter-spacing:0.15px">USDCHF,Daily</div><div class="tab" style="left:220px;letter-spacing:0.2px">AUDUSD,Daily</div><div class="tab" style="left:427px;letter-spacing:0.3px">USDCNH,Daily</div><div class="tab" style="left:533px;letter-spacing:0.05px">EURUSD,Daily</div><div class="tab" style="left:637px;letter-spacing:0.05px">GBPUSD,H4</div><div class="tab" style="left:729px;letter-spacing:0.45px">XAUUSD,M5</div><div class="tab" style="left:824px;letter-spacing:0.45px">HK50,H1</div><div class="tab" style="left:896px;letter-spacing:0.4px">UK100,H1</div><div class="tab" style="left:976px;letter-spacing:0.3px">UK100,H1</div><div class="tab" style="left:1056px;letter-spacing:0.1px">GER30,H1</div><div class="tab" style="left:1136px;letter-spacing:0px">FRA40,H1</div><div class="tsep" style="left:110px"></div><div class="tsep" style="left:210px"></div><div class="tsep" style="left:522px"></div><div class="tsep" style="left:626px"></div><div class="tsep" style="left:718px"></div><div class="tsep" style="left:814px"></div><div class="tsep" style="left:886px"></div><div class="tsep" style="left:966px"></div><div class="tsep" style="left:1046px"></div><div class="tsep" style="left:1126px"></div><div class="tsep" style="left:1202px"></div>
<div class="tab" style="left:325px;color:#000">USDCAD,Daily</div>
<svg style="position:absolute;left:1650px;top:828px" width="32" height="14" shape-rendering="crispEdges"><g fill="#909090"><rect x="10" y="4" width="1" height="6"/><rect x="9" y="5" width="1" height="4"/><rect x="8" y="6" width="1" height="2"/><rect x="26" y="4" width="1" height="6"/><rect x="27" y="5" width="1" height="4"/><rect x="28" y="6" width="1" height="2"/><rect x="7" y="6" width="1" height="2" fill="#c8c8c8"/><rect x="29" y="6" width="1" height="2" fill="#c8c8c8"/></g></svg>
</body></html>
